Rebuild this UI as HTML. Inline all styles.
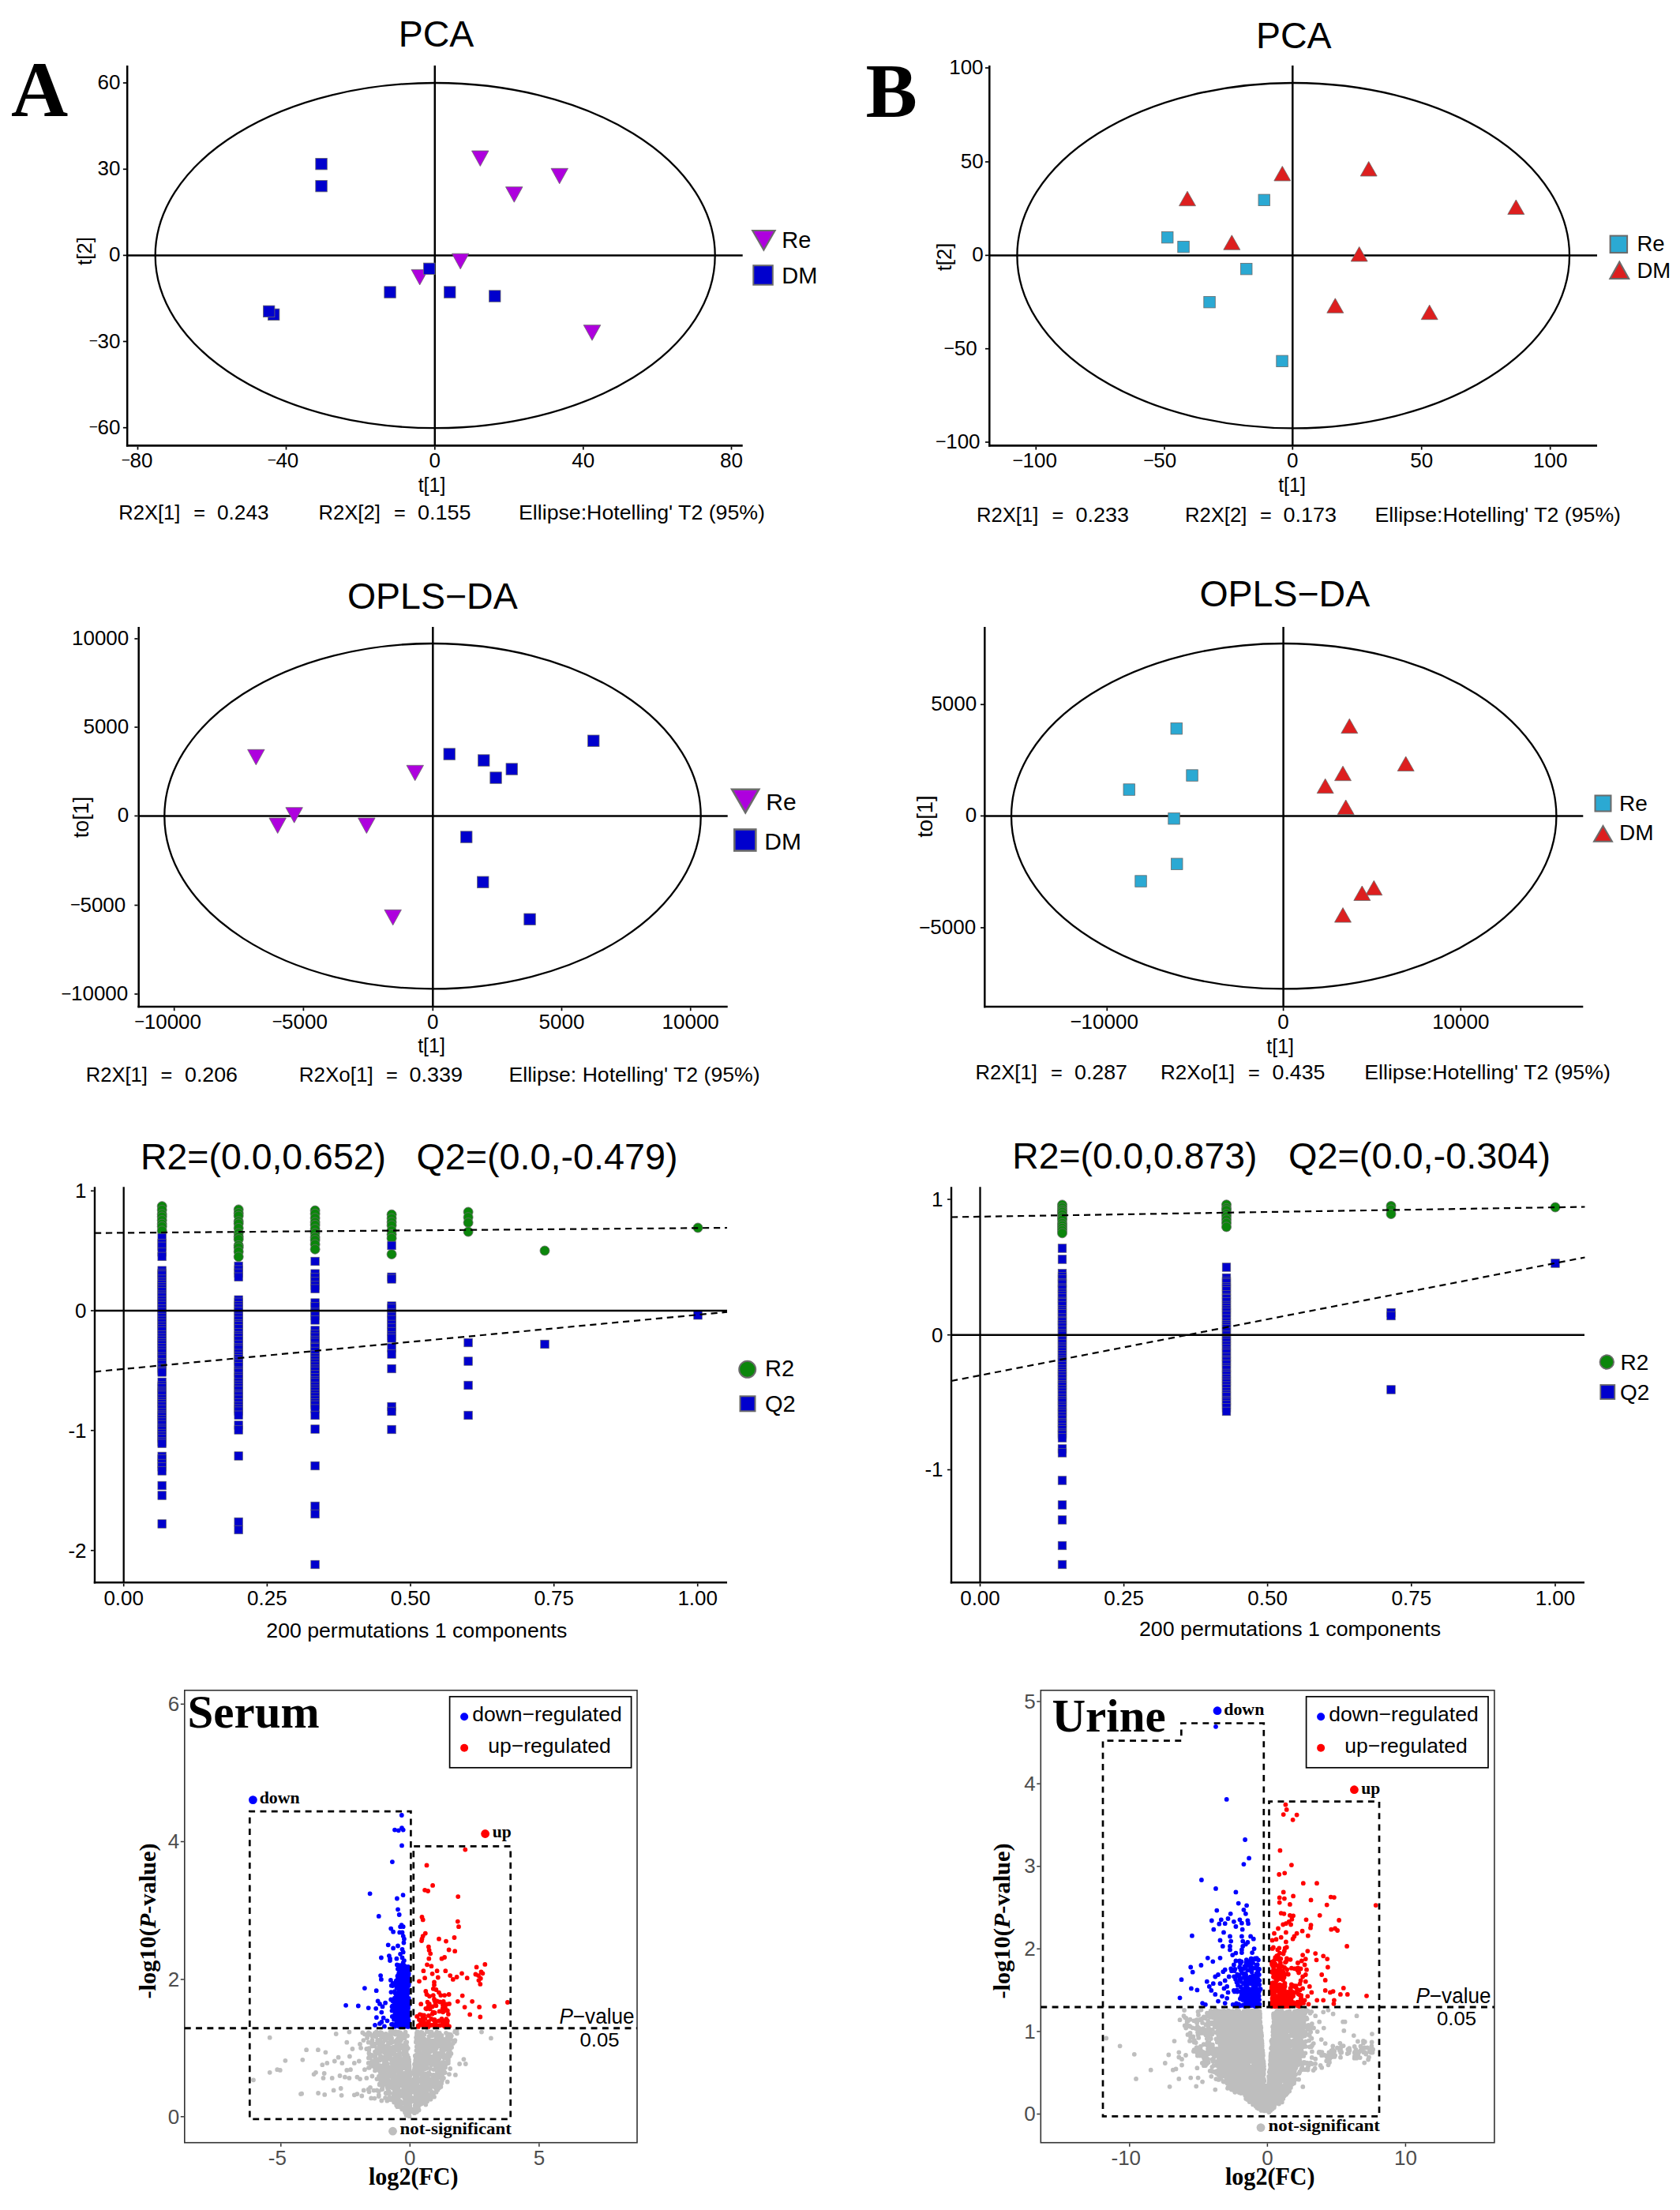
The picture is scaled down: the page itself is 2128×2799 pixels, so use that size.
<!DOCTYPE html>
<html lang="en"><head><meta charset="utf-8"><title>PCA, OPLS-DA, permutation and volcano plots</title>
<style>html,body{margin:0;padding:0;background:#fff}svg{display:block}</style></head>
<body>
<svg width="2128" height="2799" viewBox="0 0 2128 2799" font-family="'Liberation Sans', Arial, Helvetica, sans-serif" fill="#000">
<style>.r{font-family:'Liberation Serif', 'Times New Roman', Times, serif}</style>
<rect width="2128" height="2799" fill="#fff"/>
<text x="552.5" y="59.3" font-size="46.5" text-anchor="middle">PCA</text>
<text x="14" y="146.7" font-size="100" class="r" font-weight="bold">A</text>
<ellipse cx="551.2" cy="323.6" rx="354.5" ry="218.6" fill="none" stroke="#000" stroke-width="2.3"/>
<line x1="550.8" y1="83" x2="550.8" y2="564.4" stroke="#000" stroke-width="2.5"/>
<line x1="161.2" y1="323.4" x2="940.7" y2="323.4" stroke="#000" stroke-width="2.5"/>
<line x1="161.2" y1="83" x2="161.2" y2="565.6" stroke="#000" stroke-width="2.5"/>
<line x1="159.9" y1="564.4" x2="940.7" y2="564.4" stroke="#000" stroke-width="2.6"/>
<line x1="155.9" y1="105" x2="160" y2="105" stroke="#000" stroke-width="1.7"/>
<text x="152.5" y="113" font-size="26" text-anchor="end">60</text>
<line x1="155.9" y1="214.3" x2="160" y2="214.3" stroke="#000" stroke-width="1.7"/>
<text x="152.5" y="222.3" font-size="26" text-anchor="end">30</text>
<line x1="155.9" y1="323.4" x2="160" y2="323.4" stroke="#000" stroke-width="1.7"/>
<text x="152.5" y="331.4" font-size="26" text-anchor="end">0</text>
<line x1="155.9" y1="432.5" x2="160" y2="432.5" stroke="#000" stroke-width="1.7"/>
<text x="152.5" y="440.5" font-size="26" text-anchor="end"><tspan font-size="19.2" dy="-2.6">−</tspan><tspan dy="2.6" dx="-0.5">30</tspan></text>
<line x1="155.9" y1="541.7" x2="160" y2="541.7" stroke="#000" stroke-width="1.7"/>
<text x="152.5" y="549.7" font-size="26" text-anchor="end"><tspan font-size="19.2" dy="-2.6">−</tspan><tspan dy="2.6" dx="-0.5">60</tspan></text>
<line x1="174.5" y1="565.7" x2="174.5" y2="569.6" stroke="#000" stroke-width="1.7"/>
<text x="173.6" y="591.8" font-size="26" text-anchor="middle"><tspan font-size="19.2" dy="-2.6">−</tspan><tspan dy="2.6" dx="-0.5">80</tspan></text>
<line x1="362.5" y1="565.7" x2="362.5" y2="569.6" stroke="#000" stroke-width="1.7"/>
<text x="358.5" y="591.8" font-size="26" text-anchor="middle"><tspan font-size="19.2" dy="-2.6">−</tspan><tspan dy="2.6" dx="-0.5">40</tspan></text>
<line x1="550.8" y1="565.7" x2="550.8" y2="569.6" stroke="#000" stroke-width="1.7"/>
<text x="550.8" y="591.8" font-size="26" text-anchor="middle">0</text>
<line x1="738.8" y1="565.7" x2="738.8" y2="569.6" stroke="#000" stroke-width="1.7"/>
<text x="738.8" y="591.8" font-size="26" text-anchor="middle">40</text>
<line x1="926.5" y1="565.7" x2="926.5" y2="569.6" stroke="#000" stroke-width="1.7"/>
<text x="926.5" y="591.8" font-size="26" text-anchor="middle">80</text>
<polygon points="597.5,191 619,191 608.3,210.5" fill="#ae00de" stroke="#6b6b6b" stroke-width="0.8" stroke-linejoin="miter"/>
<polygon points="698,213.3 719.5,213.3 708.7,232.8" fill="#ae00de" stroke="#6b6b6b" stroke-width="0.8" stroke-linejoin="miter"/>
<polygon points="640.5,236.7 662,236.7 651.3,256.2" fill="#ae00de" stroke="#6b6b6b" stroke-width="0.8" stroke-linejoin="miter"/>
<polygon points="572.5,321.2 594,321.2 583.2,340.8" fill="#ae00de" stroke="#6b6b6b" stroke-width="0.8" stroke-linejoin="miter"/>
<polygon points="521,341.4 542.5,341.4 531.7,360.9" fill="#ae00de" stroke="#6b6b6b" stroke-width="0.8" stroke-linejoin="miter"/>
<polygon points="739.2,411.7 760.8,411.7 750,431.2" fill="#ae00de" stroke="#6b6b6b" stroke-width="0.8" stroke-linejoin="miter"/>
<rect x="399.8" y="200.4" width="14.5" height="14.5" fill="#0000cd" stroke="#6b6b6b" stroke-width="0.8"/>
<rect x="399.8" y="228.4" width="14.5" height="14.5" fill="#0000cd" stroke="#6b6b6b" stroke-width="0.8"/>
<rect x="536.5" y="333.1" width="14.5" height="14.5" fill="#0000cd" stroke="#6b6b6b" stroke-width="0.8"/>
<rect x="486.8" y="362.8" width="14.5" height="14.5" fill="#0000cd" stroke="#6b6b6b" stroke-width="0.8"/>
<rect x="339.4" y="391.1" width="14.5" height="14.5" fill="#0000cd" stroke="#6b6b6b" stroke-width="0.8"/>
<rect x="333.4" y="387.1" width="14.5" height="14.5" fill="#0000cd" stroke="#6b6b6b" stroke-width="0.8"/>
<rect x="562.5" y="362.8" width="14.5" height="14.5" fill="#0000cd" stroke="#6b6b6b" stroke-width="0.8"/>
<rect x="619.5" y="367.8" width="14.5" height="14.5" fill="#0000cd" stroke="#6b6b6b" stroke-width="0.8"/>
<text x="116" y="318" font-size="26" text-anchor="middle" transform="rotate(-90 116 318)">t[2]</text>
<text x="547" y="622.7" font-size="25" text-anchor="middle">t[1]</text>
<polygon points="953.1,292.1 981.7,292.1 967.4,316.7" fill="#ae00de" stroke="#6b6b6b" stroke-width="2" stroke-linejoin="miter"/>
<text x="990.3" y="313.8" font-size="29">Re</text>
<rect x="954.3" y="336.2" width="24.5" height="24.5" fill="#0000cd" stroke="#6b6b6b" stroke-width="2"/>
<text x="990.3" y="358.8" font-size="29">DM</text>
<text x="150.2" y="658.3" font-size="25.3" textLength="78.3" lengthAdjust="spacingAndGlyphs">R2X[1]</text>
<text x="245.3" y="658.3" font-size="25.3">=</text>
<text x="275" y="658.3" font-size="25.3" textLength="65.5" lengthAdjust="spacingAndGlyphs">0.243</text>
<text x="403.5" y="658.3" font-size="25.3" textLength="78.3" lengthAdjust="spacingAndGlyphs">R2X[2]</text>
<text x="499" y="658.3" font-size="25.3">=</text>
<text x="529" y="658.3" font-size="25.3" textLength="67.5" lengthAdjust="spacingAndGlyphs">0.155</text>
<text x="657" y="658.3" font-size="25.3" textLength="312" lengthAdjust="spacingAndGlyphs">Ellipse:Hotelling' T2 (95%)</text>
<text x="1638.7" y="60.7" font-size="46.5" text-anchor="middle">PCA</text>
<text x="1096.5" y="148.3" font-size="98" class="r" font-weight="bold">B</text>
<ellipse cx="1638.2" cy="323.7" rx="349.8" ry="218.7" fill="none" stroke="#000" stroke-width="2.3"/>
<line x1="1637.3" y1="83" x2="1637.3" y2="564.4" stroke="#000" stroke-width="2.5"/>
<line x1="1253.3" y1="323.4" x2="2023" y2="323.4" stroke="#000" stroke-width="2.5"/>
<line x1="1253.3" y1="83" x2="1253.3" y2="565.6" stroke="#000" stroke-width="2.5"/>
<line x1="1252" y1="564.4" x2="2023" y2="564.4" stroke="#000" stroke-width="2.6"/>
<line x1="1248" y1="86" x2="1252.1" y2="86" stroke="#000" stroke-width="1.7"/>
<text x="1245.6" y="94" font-size="26" text-anchor="end">100</text>
<line x1="1248" y1="205" x2="1252.1" y2="205" stroke="#000" stroke-width="1.7"/>
<text x="1245.6" y="213" font-size="26" text-anchor="end">50</text>
<line x1="1248" y1="323.4" x2="1252.1" y2="323.4" stroke="#000" stroke-width="1.7"/>
<text x="1245.6" y="331.4" font-size="26" text-anchor="end">0</text>
<line x1="1248" y1="441.7" x2="1252.1" y2="441.7" stroke="#000" stroke-width="1.7"/>
<text x="1237.6" y="449.7" font-size="26" text-anchor="end"><tspan font-size="23.4" dy="-1">−</tspan><tspan dy="1" dx="-0.5">50</tspan></text>
<line x1="1248" y1="560" x2="1252.1" y2="560" stroke="#000" stroke-width="1.7"/>
<text x="1241.6" y="568" font-size="26" text-anchor="end"><tspan font-size="23.4" dy="-1">−</tspan><tspan dy="1" dx="-0.5">100</tspan></text>
<line x1="1312.3" y1="565.7" x2="1312.3" y2="569.6" stroke="#000" stroke-width="1.7"/>
<text x="1310.7" y="591.8" font-size="26" text-anchor="middle"><tspan font-size="23.4" dy="-1">−</tspan><tspan dy="1" dx="-0.5">100</tspan></text>
<line x1="1475" y1="565.7" x2="1475" y2="569.6" stroke="#000" stroke-width="1.7"/>
<text x="1469.2" y="591.8" font-size="26" text-anchor="middle"><tspan font-size="23.4" dy="-1">−</tspan><tspan dy="1" dx="-0.5">50</tspan></text>
<line x1="1637.3" y1="565.7" x2="1637.3" y2="569.6" stroke="#000" stroke-width="1.7"/>
<text x="1637.3" y="591.8" font-size="26" text-anchor="middle">0</text>
<line x1="1800.7" y1="565.7" x2="1800.7" y2="569.6" stroke="#000" stroke-width="1.7"/>
<text x="1800.7" y="591.8" font-size="26" text-anchor="middle">50</text>
<line x1="1963.7" y1="565.7" x2="1963.7" y2="569.6" stroke="#000" stroke-width="1.7"/>
<text x="1963.7" y="591.8" font-size="26" text-anchor="middle">100</text>
<rect x="1471.5" y="293.4" width="14.5" height="14.5" fill="#2ba9d3" stroke="#6b6b6b" stroke-width="0.8"/>
<rect x="1491.8" y="305.4" width="14.5" height="14.5" fill="#2ba9d3" stroke="#6b6b6b" stroke-width="0.8"/>
<rect x="1594" y="246.1" width="14.5" height="14.5" fill="#2ba9d3" stroke="#6b6b6b" stroke-width="0.8"/>
<rect x="1571.5" y="333.4" width="14.5" height="14.5" fill="#2ba9d3" stroke="#6b6b6b" stroke-width="0.8"/>
<rect x="1524.8" y="375.4" width="14.5" height="14.5" fill="#2ba9d3" stroke="#6b6b6b" stroke-width="0.8"/>
<rect x="1616.8" y="450.1" width="14.5" height="14.5" fill="#2ba9d3" stroke="#6b6b6b" stroke-width="0.8"/>
<polygon points="1493.5,260.7 1514.5,260.7 1504,242.2" fill="#dd1f1f" stroke="#6b6b6b" stroke-width="0.8" stroke-linejoin="miter"/>
<polygon points="1613.8,229 1634.8,229 1624.3,210.5" fill="#dd1f1f" stroke="#6b6b6b" stroke-width="0.8" stroke-linejoin="miter"/>
<polygon points="1549.8,316.3 1570.8,316.3 1560.3,297.8" fill="#dd1f1f" stroke="#6b6b6b" stroke-width="0.8" stroke-linejoin="miter"/>
<polygon points="1723.2,223 1744.2,223 1733.7,204.5" fill="#dd1f1f" stroke="#6b6b6b" stroke-width="0.8" stroke-linejoin="miter"/>
<polygon points="1909.8,271.5 1930.8,271.5 1920.3,253" fill="#dd1f1f" stroke="#6b6b6b" stroke-width="0.8" stroke-linejoin="miter"/>
<polygon points="1711.2,331 1732.2,331 1721.7,312.5" fill="#dd1f1f" stroke="#6b6b6b" stroke-width="0.8" stroke-linejoin="miter"/>
<polygon points="1680.8,396.3 1701.8,396.3 1691.3,377.8" fill="#dd1f1f" stroke="#6b6b6b" stroke-width="0.8" stroke-linejoin="miter"/>
<polygon points="1800.2,404.7 1821.2,404.7 1810.7,386.2" fill="#dd1f1f" stroke="#6b6b6b" stroke-width="0.8" stroke-linejoin="miter"/>
<text x="1204.5" y="325.5" font-size="25.5" text-anchor="middle" transform="rotate(-90 1204.5 325.5)">t[2]</text>
<text x="1636.5" y="622.7" font-size="25" text-anchor="middle">t[1]</text>
<rect x="2039.6" y="298.6" width="21.5" height="21.5" fill="#2ba9d3" stroke="#6b6b6b" stroke-width="2"/>
<text x="2073.5" y="318.3" font-size="27.5">Re</text>
<polygon points="2039.3,353 2063.3,353 2051.3,331.5" fill="#dd1f1f" stroke="#6b6b6b" stroke-width="2" stroke-linejoin="miter"/>
<text x="2073.5" y="352.3" font-size="27.5">DM</text>
<text x="1237" y="660.7" font-size="25.3" textLength="78.3" lengthAdjust="spacingAndGlyphs">R2X[1]</text>
<text x="1332.5" y="660.7" font-size="25.3">=</text>
<text x="1362.5" y="660.7" font-size="25.3" textLength="67.5" lengthAdjust="spacingAndGlyphs">0.233</text>
<text x="1501" y="660.7" font-size="25.3" textLength="78.3" lengthAdjust="spacingAndGlyphs">R2X[2]</text>
<text x="1596" y="660.7" font-size="25.3">=</text>
<text x="1625.5" y="660.7" font-size="25.3" textLength="67.5" lengthAdjust="spacingAndGlyphs">0.173</text>
<text x="1741.5" y="660.7" font-size="25.3" textLength="311.5" lengthAdjust="spacingAndGlyphs">Ellipse:Hotelling' T2 (95%)</text>
<text x="547.8" y="771" font-size="46.5" text-anchor="middle">OPLS−DA</text>
<ellipse cx="548" cy="1033.7" rx="339.7" ry="218.7" fill="none" stroke="#000" stroke-width="2.3"/>
<line x1="548.3" y1="794" x2="548.3" y2="1275" stroke="#000" stroke-width="2.5"/>
<line x1="175.7" y1="1033.4" x2="921.7" y2="1033.4" stroke="#000" stroke-width="2.5"/>
<line x1="175.7" y1="794" x2="175.7" y2="1276.2" stroke="#000" stroke-width="2.5"/>
<line x1="174.4" y1="1275" x2="921.7" y2="1275" stroke="#000" stroke-width="2.6"/>
<line x1="170.4" y1="809" x2="174.5" y2="809" stroke="#000" stroke-width="1.7"/>
<text x="163.3" y="817" font-size="26" text-anchor="end">10000</text>
<line x1="170.4" y1="921" x2="174.5" y2="921" stroke="#000" stroke-width="1.7"/>
<text x="163.3" y="929" font-size="26" text-anchor="end">5000</text>
<line x1="170.4" y1="1033.4" x2="174.5" y2="1033.4" stroke="#000" stroke-width="1.7"/>
<text x="163.3" y="1041.4" font-size="26" text-anchor="end">0</text>
<line x1="170.4" y1="1146.5" x2="174.5" y2="1146.5" stroke="#000" stroke-width="1.7"/>
<text x="159.3" y="1154.5" font-size="26" text-anchor="end"><tspan font-size="22.1" dy="-1.5">−</tspan><tspan dy="1.5" dx="-0.5">5000</tspan></text>
<line x1="170.4" y1="1259" x2="174.5" y2="1259" stroke="#000" stroke-width="1.7"/>
<text x="162.3" y="1267" font-size="26" text-anchor="end"><tspan font-size="22.1" dy="-1.5">−</tspan><tspan dy="1.5" dx="-0.5">10000</tspan></text>
<line x1="220.7" y1="1276.3" x2="220.7" y2="1280.2" stroke="#000" stroke-width="1.7"/>
<text x="212.7" y="1302.5" font-size="26" text-anchor="middle"><tspan font-size="22.1" dy="-1.5">−</tspan><tspan dy="1.5" dx="-0.5">10000</tspan></text>
<line x1="384.4" y1="1276.3" x2="384.4" y2="1280.2" stroke="#000" stroke-width="1.7"/>
<text x="379.8" y="1302.5" font-size="26" text-anchor="middle"><tspan font-size="22.1" dy="-1.5">−</tspan><tspan dy="1.5" dx="-0.5">5000</tspan></text>
<line x1="548.3" y1="1276.3" x2="548.3" y2="1280.2" stroke="#000" stroke-width="1.7"/>
<text x="548.3" y="1302.5" font-size="26" text-anchor="middle">0</text>
<line x1="711.5" y1="1276.3" x2="711.5" y2="1280.2" stroke="#000" stroke-width="1.7"/>
<text x="711.5" y="1302.5" font-size="26" text-anchor="middle">5000</text>
<line x1="874.7" y1="1276.3" x2="874.7" y2="1280.2" stroke="#000" stroke-width="1.7"/>
<text x="874.7" y="1302.5" font-size="26" text-anchor="middle">10000</text>
<polygon points="313.6,949.3 335.1,949.3 324.3,968.8" fill="#ae00de" stroke="#6b6b6b" stroke-width="0.8" stroke-linejoin="miter"/>
<polygon points="515,969.3 536.5,969.3 525.7,988.8" fill="#ae00de" stroke="#6b6b6b" stroke-width="0.8" stroke-linejoin="miter"/>
<polygon points="361.9,1022.7 383.4,1022.7 372.7,1042.2" fill="#ae00de" stroke="#6b6b6b" stroke-width="0.8" stroke-linejoin="miter"/>
<polygon points="340.9,1036 362.4,1036 351.7,1055.5" fill="#ae00de" stroke="#6b6b6b" stroke-width="0.8" stroke-linejoin="miter"/>
<polygon points="453.6,1036 475.1,1036 464.3,1055.5" fill="#ae00de" stroke="#6b6b6b" stroke-width="0.8" stroke-linejoin="miter"/>
<polygon points="486.9,1152.3 508.4,1152.3 497.7,1171.8" fill="#ae00de" stroke="#6b6b6b" stroke-width="0.8" stroke-linejoin="miter"/>
<rect x="562" y="947.8" width="14.5" height="14.5" fill="#0000cd" stroke="#6b6b6b" stroke-width="0.8"/>
<rect x="605.5" y="955.8" width="14.5" height="14.5" fill="#0000cd" stroke="#6b6b6b" stroke-width="0.8"/>
<rect x="641" y="966.8" width="14.5" height="14.5" fill="#0000cd" stroke="#6b6b6b" stroke-width="0.8"/>
<rect x="620.8" y="977.8" width="14.5" height="14.5" fill="#0000cd" stroke="#6b6b6b" stroke-width="0.8"/>
<rect x="744.5" y="931" width="14.5" height="14.5" fill="#0000cd" stroke="#6b6b6b" stroke-width="0.8"/>
<rect x="583.5" y="1052.8" width="14.5" height="14.5" fill="#0000cd" stroke="#6b6b6b" stroke-width="0.8"/>
<rect x="604.5" y="1110" width="14.5" height="14.5" fill="#0000cd" stroke="#6b6b6b" stroke-width="0.8"/>
<rect x="663.8" y="1157" width="14.5" height="14.5" fill="#0000cd" stroke="#6b6b6b" stroke-width="0.8"/>
<text x="111.5" y="1035" font-size="27" text-anchor="middle" transform="rotate(-90 111.5 1035)">to[1]</text>
<text x="546.5" y="1333" font-size="25" text-anchor="middle">t[1]</text>
<polygon points="927.2,999.8 961.2,999.8 944.2,1029.2" fill="#ae00de" stroke="#6b6b6b" stroke-width="2.6" stroke-linejoin="miter"/>
<text x="970.3" y="1025.6" font-size="30">Re</text>
<rect x="930.3" y="1050.5" width="27" height="27" fill="#0000cd" stroke="#6b6b6b" stroke-width="2.6"/>
<text x="968.3" y="1075.6" font-size="30">DM</text>
<text x="108.7" y="1370" font-size="25.3" textLength="78.3" lengthAdjust="spacingAndGlyphs">R2X[1]</text>
<text x="203.5" y="1370" font-size="25.3">=</text>
<text x="234" y="1370" font-size="25.3" textLength="67" lengthAdjust="spacingAndGlyphs">0.206</text>
<text x="378.7" y="1370" font-size="25.3" textLength="94" lengthAdjust="spacingAndGlyphs">R2Xo[1]</text>
<text x="489" y="1370" font-size="25.3">=</text>
<text x="518.5" y="1370" font-size="25.3" textLength="67.5" lengthAdjust="spacingAndGlyphs">0.339</text>
<text x="644.5" y="1370" font-size="25.3" textLength="318" lengthAdjust="spacingAndGlyphs">Ellipse: Hotelling' T2 (95%)</text>
<text x="1627.3" y="768.3" font-size="46.5" text-anchor="middle">OPLS−DA</text>
<ellipse cx="1626.2" cy="1033.7" rx="345.2" ry="218.7" fill="none" stroke="#000" stroke-width="2.3"/>
<line x1="1625.6" y1="794" x2="1625.6" y2="1275" stroke="#000" stroke-width="2.5"/>
<line x1="1247.3" y1="1033.4" x2="2005.3" y2="1033.4" stroke="#000" stroke-width="2.5"/>
<line x1="1247.3" y1="794" x2="1247.3" y2="1276.2" stroke="#000" stroke-width="2.5"/>
<line x1="1246" y1="1275" x2="2005.3" y2="1275" stroke="#000" stroke-width="2.6"/>
<line x1="1242" y1="892.3" x2="1246.1" y2="892.3" stroke="#000" stroke-width="1.7"/>
<text x="1237.1" y="900.3" font-size="26" text-anchor="end">5000</text>
<line x1="1242" y1="1033.4" x2="1246.1" y2="1033.4" stroke="#000" stroke-width="1.7"/>
<text x="1237.1" y="1041.4" font-size="26" text-anchor="end">0</text>
<line x1="1242" y1="1175" x2="1246.1" y2="1175" stroke="#000" stroke-width="1.7"/>
<text x="1236.1" y="1183" font-size="26" text-anchor="end"><tspan font-size="24.7" dy="-0.5">−</tspan><tspan dy="0.5" dx="-0.5">5000</tspan></text>
<line x1="1402.3" y1="1276.3" x2="1402.3" y2="1280.2" stroke="#000" stroke-width="1.7"/>
<text x="1398.8" y="1302.5" font-size="26" text-anchor="middle"><tspan font-size="24.7" dy="-0.5">−</tspan><tspan dy="0.5" dx="-0.5">10000</tspan></text>
<line x1="1625.6" y1="1276.3" x2="1625.6" y2="1280.2" stroke="#000" stroke-width="1.7"/>
<text x="1625.6" y="1302.5" font-size="26" text-anchor="middle">0</text>
<line x1="1850.3" y1="1276.3" x2="1850.3" y2="1280.2" stroke="#000" stroke-width="1.7"/>
<text x="1850.3" y="1302.5" font-size="26" text-anchor="middle">10000</text>
<rect x="1483" y="915.5" width="14.5" height="14.5" fill="#2ba9d3" stroke="#6b6b6b" stroke-width="0.8"/>
<rect x="1502.8" y="974.8" width="14.5" height="14.5" fill="#2ba9d3" stroke="#6b6b6b" stroke-width="0.8"/>
<rect x="1423" y="992.8" width="14.5" height="14.5" fill="#2ba9d3" stroke="#6b6b6b" stroke-width="0.8"/>
<rect x="1479.8" y="1029.5" width="14.5" height="14.5" fill="#2ba9d3" stroke="#6b6b6b" stroke-width="0.8"/>
<rect x="1483.5" y="1087" width="14.5" height="14.5" fill="#2ba9d3" stroke="#6b6b6b" stroke-width="0.8"/>
<rect x="1437.8" y="1108.8" width="14.5" height="14.5" fill="#2ba9d3" stroke="#6b6b6b" stroke-width="0.8"/>
<polygon points="1698.8,928.7 1719.8,928.7 1709.3,910.2" fill="#dd1f1f" stroke="#6b6b6b" stroke-width="0.8" stroke-linejoin="miter"/>
<polygon points="1770.2,976.5 1791.2,976.5 1780.7,958" fill="#dd1f1f" stroke="#6b6b6b" stroke-width="0.8" stroke-linejoin="miter"/>
<polygon points="1690.5,988.7 1711.5,988.7 1701,970.2" fill="#dd1f1f" stroke="#6b6b6b" stroke-width="0.8" stroke-linejoin="miter"/>
<polygon points="1668.2,1004.7 1689.2,1004.7 1678.7,986.2" fill="#dd1f1f" stroke="#6b6b6b" stroke-width="0.8" stroke-linejoin="miter"/>
<polygon points="1694.2,1031.5 1715.2,1031.5 1704.7,1013" fill="#dd1f1f" stroke="#6b6b6b" stroke-width="0.8" stroke-linejoin="miter"/>
<polygon points="1729.8,1133.7 1750.8,1133.7 1740.3,1115.2" fill="#dd1f1f" stroke="#6b6b6b" stroke-width="0.8" stroke-linejoin="miter"/>
<polygon points="1714.8,1140.5 1735.8,1140.5 1725.3,1122" fill="#dd1f1f" stroke="#6b6b6b" stroke-width="0.8" stroke-linejoin="miter"/>
<polygon points="1690.5,1168.1 1711.5,1168.1 1701,1149.6" fill="#dd1f1f" stroke="#6b6b6b" stroke-width="0.8" stroke-linejoin="miter"/>
<text x="1181" y="1034" font-size="27.5" text-anchor="middle" transform="rotate(-90 1181 1034)">to[1]</text>
<text x="1621.7" y="1334" font-size="25" text-anchor="middle">t[1]</text>
<rect x="2020.5" y="1007.5" width="20" height="20" fill="#2ba9d3" stroke="#6b6b6b" stroke-width="2"/>
<text x="2051" y="1026.7" font-size="28">Re</text>
<polygon points="2019,1065.7 2042,1065.7 2030.5,1046" fill="#dd1f1f" stroke="#6b6b6b" stroke-width="2" stroke-linejoin="miter"/>
<text x="2051" y="1064" font-size="28">DM</text>
<text x="1235.5" y="1367.3" font-size="25.3" textLength="78.3" lengthAdjust="spacingAndGlyphs">R2X[1]</text>
<text x="1331" y="1367.3" font-size="25.3">=</text>
<text x="1361" y="1367.3" font-size="25.3" textLength="67" lengthAdjust="spacingAndGlyphs">0.287</text>
<text x="1470" y="1367.3" font-size="25.3" textLength="94" lengthAdjust="spacingAndGlyphs">R2Xo[1]</text>
<text x="1581" y="1367.3" font-size="25.3">=</text>
<text x="1611.5" y="1367.3" font-size="25.3" textLength="67" lengthAdjust="spacingAndGlyphs">0.435</text>
<text x="1728.3" y="1367.3" font-size="25.3" textLength="311.5" lengthAdjust="spacingAndGlyphs">Ellipse:Hotelling' T2 (95%)</text>
<text x="178" y="1481" font-size="46.5" textLength="311" lengthAdjust="spacingAndGlyphs">R2=(0.0,0.652)</text>
<text x="527.5" y="1481" font-size="46.5" textLength="331" lengthAdjust="spacingAndGlyphs">Q2=(0.0,-0.479)</text>
<g fill="#0b860b" stroke="#6a6a6a" stroke-width="0.8">
<circle cx="205.2" cy="1527.7" r="6"/>
<circle cx="205.2" cy="1532.4" r="6"/>
<circle cx="205.2" cy="1537.8" r="6"/>
<circle cx="205.2" cy="1541" r="6"/>
<circle cx="205.2" cy="1545.5" r="6"/>
<circle cx="205.2" cy="1550.1" r="6"/>
<circle cx="205.2" cy="1553.4" r="6"/>
<circle cx="205.2" cy="1558.7" r="6"/>
<circle cx="302.2" cy="1531.9" r="6"/>
<circle cx="302.2" cy="1536.5" r="6"/>
<circle cx="302.2" cy="1540" r="6"/>
<circle cx="302.2" cy="1546.8" r="6"/>
<circle cx="302.2" cy="1549.8" r="6"/>
<circle cx="302.2" cy="1555.4" r="6"/>
<circle cx="302.2" cy="1561.8" r="6"/>
<circle cx="302.2" cy="1566.2" r="6"/>
<circle cx="302.2" cy="1569.6" r="6"/>
<circle cx="302.2" cy="1577.3" r="6"/>
<circle cx="302.2" cy="1580" r="6"/>
<circle cx="302.2" cy="1585.2" r="6"/>
<circle cx="302.2" cy="1591.8" r="6"/>
<circle cx="399.1" cy="1533.1" r="6"/>
<circle cx="399.1" cy="1537.3" r="6"/>
<circle cx="399.1" cy="1542.7" r="6"/>
<circle cx="399.1" cy="1547.9" r="6"/>
<circle cx="399.1" cy="1551.5" r="6"/>
<circle cx="399.1" cy="1556.6" r="6"/>
<circle cx="399.1" cy="1561.8" r="6"/>
<circle cx="399.1" cy="1567.1" r="6"/>
<circle cx="399.1" cy="1570.6" r="6"/>
<circle cx="399.1" cy="1576" r="6"/>
<circle cx="399.1" cy="1582.2" r="6"/>
<circle cx="496.1" cy="1538.2" r="6"/>
<circle cx="496.1" cy="1543.1" r="6"/>
<circle cx="496.1" cy="1547.9" r="6"/>
<circle cx="496.1" cy="1552.1" r="6"/>
<circle cx="496.1" cy="1558.6" r="6"/>
<circle cx="496.1" cy="1563.4" r="6"/>
<circle cx="496.1" cy="1568.2" r="6"/>
<circle cx="496.1" cy="1588.5" r="6"/>
<circle cx="593.1" cy="1535" r="6"/>
<circle cx="593.1" cy="1541.7" r="6"/>
<circle cx="593.1" cy="1548.5" r="6"/>
<circle cx="593.1" cy="1560" r="6"/>
<circle cx="690" cy="1584" r="6"/>
<circle cx="884" cy="1555" r="6"/>
</g>
<g fill="#0000cd" stroke="#6a6a6a" stroke-width="0.65">
<rect x="199.9" y="1562.2" width="10.6" height="10.6"/>
<rect x="199.9" y="1569.3" width="10.6" height="10.6"/>
<rect x="199.9" y="1573.1" width="10.6" height="10.6"/>
<rect x="199.9" y="1580.5" width="10.6" height="10.6"/>
<rect x="199.9" y="1586.1" width="10.6" height="10.6"/>
<rect x="199.9" y="1603.9" width="10.6" height="10.6"/>
<rect x="199.9" y="1607.2" width="10.6" height="10.6"/>
<rect x="199.9" y="1609.3" width="10.6" height="10.6"/>
<rect x="199.9" y="1614.8" width="10.6" height="10.6"/>
<rect x="199.9" y="1618.3" width="10.6" height="10.6"/>
<rect x="199.9" y="1621.2" width="10.6" height="10.6"/>
<rect x="199.9" y="1624.6" width="10.6" height="10.6"/>
<rect x="199.9" y="1627.2" width="10.6" height="10.6"/>
<rect x="199.9" y="1630.4" width="10.6" height="10.6"/>
<rect x="199.9" y="1635" width="10.6" height="10.6"/>
<rect x="199.9" y="1637.6" width="10.6" height="10.6"/>
<rect x="199.9" y="1641.4" width="10.6" height="10.6"/>
<rect x="199.9" y="1645" width="10.6" height="10.6"/>
<rect x="199.9" y="1648.1" width="10.6" height="10.6"/>
<rect x="199.9" y="1652.5" width="10.6" height="10.6"/>
<rect x="199.9" y="1656" width="10.6" height="10.6"/>
<rect x="199.9" y="1660.4" width="10.6" height="10.6"/>
<rect x="199.9" y="1663.2" width="10.6" height="10.6"/>
<rect x="199.9" y="1667" width="10.6" height="10.6"/>
<rect x="199.9" y="1670.2" width="10.6" height="10.6"/>
<rect x="199.9" y="1674.1" width="10.6" height="10.6"/>
<rect x="199.9" y="1677.2" width="10.6" height="10.6"/>
<rect x="199.9" y="1680.3" width="10.6" height="10.6"/>
<rect x="199.9" y="1685.4" width="10.6" height="10.6"/>
<rect x="199.9" y="1688.9" width="10.6" height="10.6"/>
<rect x="199.9" y="1692.1" width="10.6" height="10.6"/>
<rect x="199.9" y="1695.3" width="10.6" height="10.6"/>
<rect x="199.9" y="1698" width="10.6" height="10.6"/>
<rect x="199.9" y="1701.4" width="10.6" height="10.6"/>
<rect x="199.9" y="1705" width="10.6" height="10.6"/>
<rect x="199.9" y="1708.1" width="10.6" height="10.6"/>
<rect x="199.9" y="1713.1" width="10.6" height="10.6"/>
<rect x="199.9" y="1715.8" width="10.6" height="10.6"/>
<rect x="199.9" y="1720.3" width="10.6" height="10.6"/>
<rect x="199.9" y="1722.8" width="10.6" height="10.6"/>
<rect x="199.9" y="1727.6" width="10.6" height="10.6"/>
<rect x="199.9" y="1730.9" width="10.6" height="10.6"/>
<rect x="199.9" y="1732.6" width="10.6" height="10.6"/>
<rect x="199.9" y="1745.1" width="10.6" height="10.6"/>
<rect x="199.9" y="1749.9" width="10.6" height="10.6"/>
<rect x="199.9" y="1752.4" width="10.6" height="10.6"/>
<rect x="199.9" y="1756.9" width="10.6" height="10.6"/>
<rect x="199.9" y="1759.1" width="10.6" height="10.6"/>
<rect x="199.9" y="1761.8" width="10.6" height="10.6"/>
<rect x="199.9" y="1766.3" width="10.6" height="10.6"/>
<rect x="199.9" y="1770" width="10.6" height="10.6"/>
<rect x="199.9" y="1772.4" width="10.6" height="10.6"/>
<rect x="199.9" y="1775.4" width="10.6" height="10.6"/>
<rect x="199.9" y="1779.3" width="10.6" height="10.6"/>
<rect x="199.9" y="1783.9" width="10.6" height="10.6"/>
<rect x="199.9" y="1786.9" width="10.6" height="10.6"/>
<rect x="199.9" y="1789" width="10.6" height="10.6"/>
<rect x="199.9" y="1792.7" width="10.6" height="10.6"/>
<rect x="199.9" y="1795.8" width="10.6" height="10.6"/>
<rect x="199.9" y="1799.1" width="10.6" height="10.6"/>
<rect x="199.9" y="1803.9" width="10.6" height="10.6"/>
<rect x="199.9" y="1806.1" width="10.6" height="10.6"/>
<rect x="199.9" y="1810.2" width="10.6" height="10.6"/>
<rect x="199.9" y="1813.4" width="10.6" height="10.6"/>
<rect x="199.9" y="1816.3" width="10.6" height="10.6"/>
<rect x="199.9" y="1820.8" width="10.6" height="10.6"/>
<rect x="199.9" y="1822.9" width="10.6" height="10.6"/>
<rect x="199.9" y="1839.1" width="10.6" height="10.6"/>
<rect x="199.9" y="1842.4" width="10.6" height="10.6"/>
<rect x="199.9" y="1848.2" width="10.6" height="10.6"/>
<rect x="199.9" y="1852.5" width="10.6" height="10.6"/>
<rect x="199.9" y="1857.6" width="10.6" height="10.6"/>
<rect x="199.9" y="1876.2" width="10.6" height="10.6"/>
<rect x="199.9" y="1888.7" width="10.6" height="10.6"/>
<rect x="199.9" y="1924.7" width="10.6" height="10.6"/>
<rect x="296.9" y="1598.2" width="10.6" height="10.6"/>
<rect x="296.9" y="1602.9" width="10.6" height="10.6"/>
<rect x="296.9" y="1607.1" width="10.6" height="10.6"/>
<rect x="296.9" y="1612" width="10.6" height="10.6"/>
<rect x="296.9" y="1641" width="10.6" height="10.6"/>
<rect x="296.9" y="1644" width="10.6" height="10.6"/>
<rect x="296.9" y="1648.5" width="10.6" height="10.6"/>
<rect x="296.9" y="1651.7" width="10.6" height="10.6"/>
<rect x="296.9" y="1655.6" width="10.6" height="10.6"/>
<rect x="296.9" y="1660.5" width="10.6" height="10.6"/>
<rect x="296.9" y="1663.1" width="10.6" height="10.6"/>
<rect x="296.9" y="1667.1" width="10.6" height="10.6"/>
<rect x="296.9" y="1671.4" width="10.6" height="10.6"/>
<rect x="296.9" y="1673.6" width="10.6" height="10.6"/>
<rect x="296.9" y="1677.3" width="10.6" height="10.6"/>
<rect x="296.9" y="1682.7" width="10.6" height="10.6"/>
<rect x="296.9" y="1686.2" width="10.6" height="10.6"/>
<rect x="296.9" y="1688.7" width="10.6" height="10.6"/>
<rect x="296.9" y="1692.3" width="10.6" height="10.6"/>
<rect x="296.9" y="1697.2" width="10.6" height="10.6"/>
<rect x="296.9" y="1701.4" width="10.6" height="10.6"/>
<rect x="296.9" y="1703.5" width="10.6" height="10.6"/>
<rect x="296.9" y="1708.9" width="10.6" height="10.6"/>
<rect x="296.9" y="1712.4" width="10.6" height="10.6"/>
<rect x="296.9" y="1715.5" width="10.6" height="10.6"/>
<rect x="296.9" y="1718.9" width="10.6" height="10.6"/>
<rect x="296.9" y="1721.9" width="10.6" height="10.6"/>
<rect x="296.9" y="1725.5" width="10.6" height="10.6"/>
<rect x="296.9" y="1731.2" width="10.6" height="10.6"/>
<rect x="296.9" y="1733.4" width="10.6" height="10.6"/>
<rect x="296.9" y="1738.1" width="10.6" height="10.6"/>
<rect x="296.9" y="1740.8" width="10.6" height="10.6"/>
<rect x="296.9" y="1745.8" width="10.6" height="10.6"/>
<rect x="296.9" y="1749.1" width="10.6" height="10.6"/>
<rect x="296.9" y="1752.1" width="10.6" height="10.6"/>
<rect x="296.9" y="1755.6" width="10.6" height="10.6"/>
<rect x="296.9" y="1760.5" width="10.6" height="10.6"/>
<rect x="296.9" y="1762.8" width="10.6" height="10.6"/>
<rect x="296.9" y="1766.9" width="10.6" height="10.6"/>
<rect x="296.9" y="1771.3" width="10.6" height="10.6"/>
<rect x="296.9" y="1775.7" width="10.6" height="10.6"/>
<rect x="296.9" y="1778.9" width="10.6" height="10.6"/>
<rect x="296.9" y="1781.9" width="10.6" height="10.6"/>
<rect x="296.9" y="1787" width="10.6" height="10.6"/>
<rect x="296.9" y="1799.7" width="10.6" height="10.6"/>
<rect x="296.9" y="1805.7" width="10.6" height="10.6"/>
<rect x="296.9" y="1838.7" width="10.6" height="10.6"/>
<rect x="296.9" y="1922.2" width="10.6" height="10.6"/>
<rect x="296.9" y="1932.2" width="10.6" height="10.6"/>
<rect x="393.8" y="1592.2" width="10.6" height="10.6"/>
<rect x="393.8" y="1607.9" width="10.6" height="10.6"/>
<rect x="393.8" y="1612.3" width="10.6" height="10.6"/>
<rect x="393.8" y="1617.8" width="10.6" height="10.6"/>
<rect x="393.8" y="1622.9" width="10.6" height="10.6"/>
<rect x="393.8" y="1626.9" width="10.6" height="10.6"/>
<rect x="393.8" y="1644.8" width="10.6" height="10.6"/>
<rect x="393.8" y="1649.5" width="10.6" height="10.6"/>
<rect x="393.8" y="1656.9" width="10.6" height="10.6"/>
<rect x="393.8" y="1661.1" width="10.6" height="10.6"/>
<rect x="393.8" y="1666.6" width="10.6" height="10.6"/>
<rect x="393.8" y="1679.7" width="10.6" height="10.6"/>
<rect x="393.8" y="1684.7" width="10.6" height="10.6"/>
<rect x="393.8" y="1688" width="10.6" height="10.6"/>
<rect x="393.8" y="1692.2" width="10.6" height="10.6"/>
<rect x="393.8" y="1694.9" width="10.6" height="10.6"/>
<rect x="393.8" y="1700" width="10.6" height="10.6"/>
<rect x="393.8" y="1701.6" width="10.6" height="10.6"/>
<rect x="393.8" y="1706.2" width="10.6" height="10.6"/>
<rect x="393.8" y="1710.3" width="10.6" height="10.6"/>
<rect x="393.8" y="1714.3" width="10.6" height="10.6"/>
<rect x="393.8" y="1717.5" width="10.6" height="10.6"/>
<rect x="393.8" y="1721.1" width="10.6" height="10.6"/>
<rect x="393.8" y="1724.9" width="10.6" height="10.6"/>
<rect x="393.8" y="1728.8" width="10.6" height="10.6"/>
<rect x="393.8" y="1731.2" width="10.6" height="10.6"/>
<rect x="393.8" y="1735.5" width="10.6" height="10.6"/>
<rect x="393.8" y="1739.6" width="10.6" height="10.6"/>
<rect x="393.8" y="1743.2" width="10.6" height="10.6"/>
<rect x="393.8" y="1745.8" width="10.6" height="10.6"/>
<rect x="393.8" y="1750.3" width="10.6" height="10.6"/>
<rect x="393.8" y="1754" width="10.6" height="10.6"/>
<rect x="393.8" y="1757" width="10.6" height="10.6"/>
<rect x="393.8" y="1760.8" width="10.6" height="10.6"/>
<rect x="393.8" y="1763.9" width="10.6" height="10.6"/>
<rect x="393.8" y="1767.9" width="10.6" height="10.6"/>
<rect x="393.8" y="1771.6" width="10.6" height="10.6"/>
<rect x="393.8" y="1774.1" width="10.6" height="10.6"/>
<rect x="393.8" y="1778.9" width="10.6" height="10.6"/>
<rect x="393.8" y="1787.2" width="10.6" height="10.6"/>
<rect x="393.8" y="1804.7" width="10.6" height="10.6"/>
<rect x="393.8" y="1851.2" width="10.6" height="10.6"/>
<rect x="393.8" y="1902.2" width="10.6" height="10.6"/>
<rect x="393.8" y="1912.2" width="10.6" height="10.6"/>
<rect x="393.8" y="1976.2" width="10.6" height="10.6"/>
<rect x="490.8" y="1572.2" width="10.6" height="10.6"/>
<rect x="490.8" y="1612.1" width="10.6" height="10.6"/>
<rect x="490.8" y="1614.6" width="10.6" height="10.6"/>
<rect x="490.8" y="1648.8" width="10.6" height="10.6"/>
<rect x="490.8" y="1651.5" width="10.6" height="10.6"/>
<rect x="490.8" y="1657.8" width="10.6" height="10.6"/>
<rect x="490.8" y="1662.1" width="10.6" height="10.6"/>
<rect x="490.8" y="1666.1" width="10.6" height="10.6"/>
<rect x="490.8" y="1672.1" width="10.6" height="10.6"/>
<rect x="490.8" y="1676.2" width="10.6" height="10.6"/>
<rect x="490.8" y="1681.2" width="10.6" height="10.6"/>
<rect x="490.8" y="1686.8" width="10.6" height="10.6"/>
<rect x="490.8" y="1689.6" width="10.6" height="10.6"/>
<rect x="490.8" y="1701.7" width="10.6" height="10.6"/>
<rect x="490.8" y="1709.7" width="10.6" height="10.6"/>
<rect x="490.8" y="1728.2" width="10.6" height="10.6"/>
<rect x="490.8" y="1776.2" width="10.6" height="10.6"/>
<rect x="490.8" y="1782.2" width="10.6" height="10.6"/>
<rect x="490.8" y="1805.2" width="10.6" height="10.6"/>
<rect x="587.8" y="1695.2" width="10.6" height="10.6"/>
<rect x="587.8" y="1718.7" width="10.6" height="10.6"/>
<rect x="587.8" y="1749.2" width="10.6" height="10.6"/>
<rect x="587.8" y="1787.2" width="10.6" height="10.6"/>
<rect x="684.7" y="1697.2" width="10.6" height="10.6"/>
<rect x="878.7" y="1660.4" width="10.6" height="10.6"/>
</g>
<line x1="156.7" y1="1503.3" x2="156.7" y2="2004.3" stroke="#000" stroke-width="2.3"/>
<line x1="120" y1="1660" x2="921" y2="1660" stroke="#000" stroke-width="2.5"/>
<line x1="120" y1="1503.3" x2="120" y2="2005.6" stroke="#000" stroke-width="2.4"/>
<line x1="118.8" y1="2004.3" x2="921" y2="2004.3" stroke="#000" stroke-width="2.6"/>
<line x1="120" y1="1561.7" x2="921" y2="1555" stroke="#000" stroke-width="2.2" stroke-dasharray="8.2 5.8"/>
<line x1="120" y1="1737.3" x2="921" y2="1661.7" stroke="#000" stroke-width="2.2" stroke-dasharray="8.2 5.8"/>
<line x1="115" y1="1508.3" x2="118.8" y2="1508.3" stroke="#000" stroke-width="1.6"/>
<text x="109.5" y="1517.2" font-size="26" text-anchor="end">1</text>
<line x1="115" y1="1660" x2="118.8" y2="1660" stroke="#000" stroke-width="1.6"/>
<text x="109.5" y="1668.9" font-size="26" text-anchor="end">0</text>
<line x1="115" y1="1811.7" x2="118.8" y2="1811.7" stroke="#000" stroke-width="1.6"/>
<text x="109.5" y="1820.6" font-size="26" text-anchor="end">-1</text>
<line x1="115" y1="1963.7" x2="118.8" y2="1963.7" stroke="#000" stroke-width="1.6"/>
<text x="109.5" y="1972.6" font-size="26" text-anchor="end">-2</text>
<line x1="156.7" y1="2005.6" x2="156.7" y2="2009.3" stroke="#000" stroke-width="1.6"/>
<text x="156.7" y="2032.7" font-size="26" text-anchor="middle">0.00</text>
<line x1="338.4" y1="2005.6" x2="338.4" y2="2009.3" stroke="#000" stroke-width="1.6"/>
<text x="338.4" y="2032.7" font-size="26" text-anchor="middle">0.25</text>
<line x1="520" y1="2005.6" x2="520" y2="2009.3" stroke="#000" stroke-width="1.6"/>
<text x="520" y="2032.7" font-size="26" text-anchor="middle">0.50</text>
<line x1="701.7" y1="2005.6" x2="701.7" y2="2009.3" stroke="#000" stroke-width="1.6"/>
<text x="701.7" y="2032.7" font-size="26" text-anchor="middle">0.75</text>
<line x1="883.7" y1="2005.6" x2="883.7" y2="2009.3" stroke="#000" stroke-width="1.6"/>
<text x="883.7" y="2032.7" font-size="26" text-anchor="middle">1.00</text>
<text x="337.3" y="2074.3" font-size="25.5" textLength="381" lengthAdjust="spacingAndGlyphs">200 permutations 1 components</text>
<circle cx="946.7" cy="1734.3" r="10.5" fill="#0b860b" stroke="#6b6b6b" stroke-width="2"/>
<text x="969" y="1743.3" font-size="29">R2</text>
<rect x="937.5" y="1768.3" width="19" height="19" fill="#0000cd" stroke="#6b6b6b" stroke-width="2"/>
<text x="969" y="1788.3" font-size="29">Q2</text>
<text x="1282.3" y="1480" font-size="46.5" textLength="310" lengthAdjust="spacingAndGlyphs">R2=(0.0,0.873)</text>
<text x="1632" y="1480" font-size="46.5" textLength="332" lengthAdjust="spacingAndGlyphs">Q2=(0.0,-0.304)</text>
<g fill="#0b860b" stroke="#6a6a6a" stroke-width="0.8">
<circle cx="1345.5" cy="1525.9" r="6"/>
<circle cx="1345.5" cy="1529.5" r="6"/>
<circle cx="1345.5" cy="1532.8" r="6"/>
<circle cx="1345.5" cy="1535" r="6"/>
<circle cx="1345.5" cy="1538" r="6"/>
<circle cx="1345.5" cy="1541.9" r="6"/>
<circle cx="1345.5" cy="1544.9" r="6"/>
<circle cx="1345.5" cy="1549.2" r="6"/>
<circle cx="1345.5" cy="1552.2" r="6"/>
<circle cx="1345.5" cy="1555.3" r="6"/>
<circle cx="1345.5" cy="1558.4" r="6"/>
<circle cx="1345.5" cy="1561.8" r="6"/>
<circle cx="1553.5" cy="1525.8" r="6"/>
<circle cx="1553.5" cy="1530.3" r="6"/>
<circle cx="1553.5" cy="1532.8" r="6"/>
<circle cx="1553.5" cy="1537.5" r="6"/>
<circle cx="1553.5" cy="1540.7" r="6"/>
<circle cx="1553.5" cy="1544.7" r="6"/>
<circle cx="1553.5" cy="1549" r="6"/>
<circle cx="1553.5" cy="1553.9" r="6"/>
<circle cx="1762" cy="1527.5" r="6"/>
<circle cx="1762" cy="1532" r="6"/>
<circle cx="1762" cy="1537.5" r="6"/>
<circle cx="1970" cy="1529" r="6"/>
</g>
<g fill="#0000cd" stroke="#6a6a6a" stroke-width="0.65">
<rect x="1340.2" y="1575.7" width="10.6" height="10.6"/>
<rect x="1340.2" y="1589.7" width="10.6" height="10.6"/>
<rect x="1340.2" y="1607.5" width="10.6" height="10.6"/>
<rect x="1340.2" y="1611.5" width="10.6" height="10.6"/>
<rect x="1340.2" y="1614.4" width="10.6" height="10.6"/>
<rect x="1340.2" y="1619.3" width="10.6" height="10.6"/>
<rect x="1340.2" y="1621" width="10.6" height="10.6"/>
<rect x="1340.2" y="1625.9" width="10.6" height="10.6"/>
<rect x="1340.2" y="1627.8" width="10.6" height="10.6"/>
<rect x="1340.2" y="1632.5" width="10.6" height="10.6"/>
<rect x="1340.2" y="1635.2" width="10.6" height="10.6"/>
<rect x="1340.2" y="1638.7" width="10.6" height="10.6"/>
<rect x="1340.2" y="1643" width="10.6" height="10.6"/>
<rect x="1340.2" y="1644.7" width="10.6" height="10.6"/>
<rect x="1340.2" y="1648.2" width="10.6" height="10.6"/>
<rect x="1340.2" y="1653.4" width="10.6" height="10.6"/>
<rect x="1340.2" y="1656" width="10.6" height="10.6"/>
<rect x="1340.2" y="1658.5" width="10.6" height="10.6"/>
<rect x="1340.2" y="1663.8" width="10.6" height="10.6"/>
<rect x="1340.2" y="1667.1" width="10.6" height="10.6"/>
<rect x="1340.2" y="1668.8" width="10.6" height="10.6"/>
<rect x="1340.2" y="1672.8" width="10.6" height="10.6"/>
<rect x="1340.2" y="1675.7" width="10.6" height="10.6"/>
<rect x="1340.2" y="1679.4" width="10.6" height="10.6"/>
<rect x="1340.2" y="1683.5" width="10.6" height="10.6"/>
<rect x="1340.2" y="1685.9" width="10.6" height="10.6"/>
<rect x="1340.2" y="1690.4" width="10.6" height="10.6"/>
<rect x="1340.2" y="1692.5" width="10.6" height="10.6"/>
<rect x="1340.2" y="1696.2" width="10.6" height="10.6"/>
<rect x="1340.2" y="1700.9" width="10.6" height="10.6"/>
<rect x="1340.2" y="1703.5" width="10.6" height="10.6"/>
<rect x="1340.2" y="1706.9" width="10.6" height="10.6"/>
<rect x="1340.2" y="1710.7" width="10.6" height="10.6"/>
<rect x="1340.2" y="1713.9" width="10.6" height="10.6"/>
<rect x="1340.2" y="1717.1" width="10.6" height="10.6"/>
<rect x="1340.2" y="1719.8" width="10.6" height="10.6"/>
<rect x="1340.2" y="1724.6" width="10.6" height="10.6"/>
<rect x="1340.2" y="1728.5" width="10.6" height="10.6"/>
<rect x="1340.2" y="1731.9" width="10.6" height="10.6"/>
<rect x="1340.2" y="1734.7" width="10.6" height="10.6"/>
<rect x="1340.2" y="1737.5" width="10.6" height="10.6"/>
<rect x="1340.2" y="1740.9" width="10.6" height="10.6"/>
<rect x="1340.2" y="1745" width="10.6" height="10.6"/>
<rect x="1340.2" y="1748.4" width="10.6" height="10.6"/>
<rect x="1340.2" y="1750.6" width="10.6" height="10.6"/>
<rect x="1340.2" y="1754.3" width="10.6" height="10.6"/>
<rect x="1340.2" y="1757.9" width="10.6" height="10.6"/>
<rect x="1340.2" y="1761.7" width="10.6" height="10.6"/>
<rect x="1340.2" y="1765.7" width="10.6" height="10.6"/>
<rect x="1340.2" y="1768.5" width="10.6" height="10.6"/>
<rect x="1340.2" y="1770.9" width="10.6" height="10.6"/>
<rect x="1340.2" y="1775.9" width="10.6" height="10.6"/>
<rect x="1340.2" y="1778.5" width="10.6" height="10.6"/>
<rect x="1340.2" y="1782.1" width="10.6" height="10.6"/>
<rect x="1340.2" y="1784.9" width="10.6" height="10.6"/>
<rect x="1340.2" y="1788.8" width="10.6" height="10.6"/>
<rect x="1340.2" y="1792.1" width="10.6" height="10.6"/>
<rect x="1340.2" y="1796.3" width="10.6" height="10.6"/>
<rect x="1340.2" y="1798.3" width="10.6" height="10.6"/>
<rect x="1340.2" y="1802.6" width="10.6" height="10.6"/>
<rect x="1340.2" y="1805.3" width="10.6" height="10.6"/>
<rect x="1340.2" y="1809.8" width="10.6" height="10.6"/>
<rect x="1340.2" y="1811.8" width="10.6" height="10.6"/>
<rect x="1340.2" y="1815.7" width="10.6" height="10.6"/>
<rect x="1340.2" y="1829.7" width="10.6" height="10.6"/>
<rect x="1340.2" y="1834.7" width="10.6" height="10.6"/>
<rect x="1340.2" y="1869.7" width="10.6" height="10.6"/>
<rect x="1340.2" y="1900.7" width="10.6" height="10.6"/>
<rect x="1340.2" y="1919.7" width="10.6" height="10.6"/>
<rect x="1340.2" y="1952.2" width="10.6" height="10.6"/>
<rect x="1340.2" y="1976.2" width="10.6" height="10.6"/>
<rect x="1548.2" y="1599.7" width="10.6" height="10.6"/>
<rect x="1548.2" y="1613.2" width="10.6" height="10.6"/>
<rect x="1548.2" y="1617.6" width="10.6" height="10.6"/>
<rect x="1548.2" y="1619.4" width="10.6" height="10.6"/>
<rect x="1548.2" y="1624.4" width="10.6" height="10.6"/>
<rect x="1548.2" y="1626.7" width="10.6" height="10.6"/>
<rect x="1548.2" y="1629.7" width="10.6" height="10.6"/>
<rect x="1548.2" y="1634.3" width="10.6" height="10.6"/>
<rect x="1548.2" y="1638.1" width="10.6" height="10.6"/>
<rect x="1548.2" y="1639.6" width="10.6" height="10.6"/>
<rect x="1548.2" y="1643.6" width="10.6" height="10.6"/>
<rect x="1548.2" y="1648.1" width="10.6" height="10.6"/>
<rect x="1548.2" y="1650.6" width="10.6" height="10.6"/>
<rect x="1548.2" y="1653.8" width="10.6" height="10.6"/>
<rect x="1548.2" y="1656.8" width="10.6" height="10.6"/>
<rect x="1548.2" y="1660.3" width="10.6" height="10.6"/>
<rect x="1548.2" y="1664.9" width="10.6" height="10.6"/>
<rect x="1548.2" y="1669.1" width="10.6" height="10.6"/>
<rect x="1548.2" y="1672.5" width="10.6" height="10.6"/>
<rect x="1548.2" y="1674.9" width="10.6" height="10.6"/>
<rect x="1548.2" y="1677.4" width="10.6" height="10.6"/>
<rect x="1548.2" y="1681.4" width="10.6" height="10.6"/>
<rect x="1548.2" y="1685.8" width="10.6" height="10.6"/>
<rect x="1548.2" y="1689.3" width="10.6" height="10.6"/>
<rect x="1548.2" y="1692.3" width="10.6" height="10.6"/>
<rect x="1548.2" y="1694.9" width="10.6" height="10.6"/>
<rect x="1548.2" y="1699" width="10.6" height="10.6"/>
<rect x="1548.2" y="1702.3" width="10.6" height="10.6"/>
<rect x="1548.2" y="1706" width="10.6" height="10.6"/>
<rect x="1548.2" y="1708.7" width="10.6" height="10.6"/>
<rect x="1548.2" y="1713.5" width="10.6" height="10.6"/>
<rect x="1548.2" y="1716.9" width="10.6" height="10.6"/>
<rect x="1548.2" y="1718.8" width="10.6" height="10.6"/>
<rect x="1548.2" y="1722.5" width="10.6" height="10.6"/>
<rect x="1548.2" y="1727.1" width="10.6" height="10.6"/>
<rect x="1548.2" y="1729.3" width="10.6" height="10.6"/>
<rect x="1548.2" y="1734.1" width="10.6" height="10.6"/>
<rect x="1548.2" y="1736.6" width="10.6" height="10.6"/>
<rect x="1548.2" y="1740.4" width="10.6" height="10.6"/>
<rect x="1548.2" y="1743.9" width="10.6" height="10.6"/>
<rect x="1548.2" y="1746.3" width="10.6" height="10.6"/>
<rect x="1548.2" y="1749.9" width="10.6" height="10.6"/>
<rect x="1548.2" y="1753.2" width="10.6" height="10.6"/>
<rect x="1548.2" y="1757.6" width="10.6" height="10.6"/>
<rect x="1548.2" y="1761" width="10.6" height="10.6"/>
<rect x="1548.2" y="1763.3" width="10.6" height="10.6"/>
<rect x="1548.2" y="1768.3" width="10.6" height="10.6"/>
<rect x="1548.2" y="1770.7" width="10.6" height="10.6"/>
<rect x="1548.2" y="1773.8" width="10.6" height="10.6"/>
<rect x="1548.2" y="1777.6" width="10.6" height="10.6"/>
<rect x="1548.2" y="1782.2" width="10.6" height="10.6"/>
<rect x="1756.7" y="1657.2" width="10.6" height="10.6"/>
<rect x="1756.7" y="1661.2" width="10.6" height="10.6"/>
<rect x="1756.7" y="1754.7" width="10.6" height="10.6"/>
<rect x="1964.7" y="1594.7" width="10.6" height="10.6"/>
</g>
<line x1="1241.5" y1="1503.3" x2="1241.5" y2="2004.3" stroke="#000" stroke-width="2.3"/>
<line x1="1205" y1="1690.7" x2="2007" y2="1690.7" stroke="#000" stroke-width="2.5"/>
<line x1="1205" y1="1503.3" x2="1205" y2="2005.6" stroke="#000" stroke-width="2.4"/>
<line x1="1203.8" y1="2004.3" x2="2007" y2="2004.3" stroke="#000" stroke-width="2.6"/>
<line x1="1205" y1="1541.5" x2="2007.5" y2="1528.5" stroke="#000" stroke-width="2.2" stroke-dasharray="8.2 5.8"/>
<line x1="1205" y1="1749" x2="2007.5" y2="1592.5" stroke="#000" stroke-width="2.2" stroke-dasharray="8.2 5.8"/>
<line x1="1200" y1="1519" x2="1203.8" y2="1519" stroke="#000" stroke-width="1.6"/>
<text x="1194.5" y="1527.9" font-size="26" text-anchor="end">1</text>
<line x1="1200" y1="1690.7" x2="1203.8" y2="1690.7" stroke="#000" stroke-width="1.6"/>
<text x="1194.5" y="1699.6" font-size="26" text-anchor="end">0</text>
<line x1="1200" y1="1861.5" x2="1203.8" y2="1861.5" stroke="#000" stroke-width="1.6"/>
<text x="1194.5" y="1870.4" font-size="26" text-anchor="end">-1</text>
<line x1="1241.5" y1="2005.6" x2="1241.5" y2="2009.3" stroke="#000" stroke-width="1.6"/>
<text x="1241.5" y="2032.7" font-size="26" text-anchor="middle">0.00</text>
<line x1="1423.6" y1="2005.6" x2="1423.6" y2="2009.3" stroke="#000" stroke-width="1.6"/>
<text x="1423.6" y="2032.7" font-size="26" text-anchor="middle">0.25</text>
<line x1="1605.6" y1="2005.6" x2="1605.6" y2="2009.3" stroke="#000" stroke-width="1.6"/>
<text x="1605.6" y="2032.7" font-size="26" text-anchor="middle">0.50</text>
<line x1="1787.8" y1="2005.6" x2="1787.8" y2="2009.3" stroke="#000" stroke-width="1.6"/>
<text x="1787.8" y="2032.7" font-size="26" text-anchor="middle">0.75</text>
<line x1="1970" y1="2005.6" x2="1970" y2="2009.3" stroke="#000" stroke-width="1.6"/>
<text x="1970" y="2032.7" font-size="26" text-anchor="middle">1.00</text>
<text x="1443" y="2071.7" font-size="25.5" textLength="382" lengthAdjust="spacingAndGlyphs">200 permutations 1 components</text>
<circle cx="2035.3" cy="1725" r="8.8" fill="#0b860b" stroke="#6b6b6b" stroke-width="1.8"/>
<text x="2052.5" y="1735" font-size="28">R2</text>
<rect x="2027.3" y="1754" width="18" height="18" fill="#0000cd" stroke="#6b6b6b" stroke-width="1.8"/>
<text x="2052" y="1772.7" font-size="28">Q2</text>
<path d="M519.4 2675h.01M502.1 2591.6h.01M571.8 2578.5h.01M533.1 2607.5h.01M496.8 2575h.01M527 2664.8h.01M526.5 2605.9h.01M539.4 2590.2h.01M515.7 2608.8h.01M504.9 2586.8h.01M514.2 2577.4h.01M512.1 2652.8h.01M528.6 2619.9h.01M557.4 2614.3h.01M518 2663.7h.01M489 2591.4h.01M495.1 2596.8h.01M554.3 2574.5h.01M511.1 2601.1h.01M514.3 2577.7h.01M539 2583.7h.01M528.3 2582.6h.01M533.5 2661.9h.01M488.8 2575.9h.01M516 2602.7h.01M554.2 2583.2h.01M532.4 2575h.01M515.2 2658.4h.01M516.4 2617.7h.01M503.6 2582.6h.01M529.5 2583.2h.01M525.3 2623.6h.01M530.8 2621.1h.01M556.2 2626.2h.01M527.6 2633.2h.01M527.5 2606.2h.01M567.5 2579.2h.01M508.4 2590.2h.01M512.5 2673.4h.01M543 2596.3h.01M506.1 2591h.01M501 2644.5h.01M490.4 2592.5h.01M518.1 2619.4h.01M562.8 2606.7h.01M553.4 2612.5h.01M517.7 2655.4h.01M503.4 2659.4h.01M516.1 2679.3h.01M490.8 2621.5h.01M527.8 2627.6h.01M552 2606.7h.01M513.1 2675.4h.01M498.9 2653.6h.01M523.7 2649.5h.01M511.4 2647.7h.01M527.5 2629.8h.01M512.9 2638h.01M534.3 2656.1h.01M536.5 2645.9h.01M552.6 2584.6h.01M533.9 2590.8h.01M527.7 2613.2h.01M518.1 2626.8h.01M513.5 2601.4h.01M528.6 2575.5h.01M536.7 2607.2h.01M518.4 2625.3h.01M494.4 2579.8h.01M561.5 2585.1h.01M507.5 2628.6h.01M511.8 2632.4h.01M537.8 2647h.01M517 2634.9h.01M563.2 2585.4h.01M537.2 2601.9h.01M526.9 2653.1h.01M515.1 2638.5h.01M562.7 2583h.01M516.5 2671.5h.01M505.9 2600h.01M513.6 2640.4h.01M501.8 2576.4h.01M513.8 2587.7h.01M533.4 2604.4h.01M508.5 2654.4h.01M537 2607.3h.01M513.9 2611.3h.01M518.1 2612.3h.01M508.2 2616.1h.01M528.3 2577.3h.01M506.8 2604.9h.01M538.3 2608.2h.01M511.5 2581h.01M544 2635.7h.01M567.3 2601.1h.01M519.2 2647.5h.01M509.7 2627.5h.01M518 2658.2h.01M489.4 2580.3h.01M515.9 2640.2h.01M527.8 2592.2h.01M494.8 2584h.01M488.5 2583.9h.01M500.2 2647h.01M508.7 2577.8h.01M546.1 2627.8h.01M534.8 2601.2h.01M499.1 2645.8h.01M507.8 2654.5h.01M540.4 2636.1h.01M554.9 2589.4h.01M536.2 2649.4h.01M516.6 2659.7h.01M553.3 2573.7h.01M527.2 2610.4h.01M493 2649.5h.01M553.4 2618.1h.01M516.2 2614.1h.01M512 2610.6h.01M515 2607.7h.01M518.2 2638.4h.01M519.3 2663.5h.01M528.2 2647.9h.01M498 2573.2h.01M551 2635.3h.01M505.7 2631.3h.01M535 2611.8h.01M527.2 2624.8h.01M546.9 2614h.01M509.8 2591.4h.01M514.1 2625.1h.01M532 2602.7h.01M504.1 2613.3h.01M524.6 2635.1h.01M516.9 2631.6h.01M510.8 2625.8h.01M565 2574.8h.01M532.7 2664.1h.01M516.1 2646.7h.01M501.9 2596.2h.01M529.7 2642.3h.01M545 2598.4h.01M537.8 2612h.01M516.3 2647.4h.01M556.9 2614.5h.01M511.7 2669.8h.01M505.5 2654.9h.01M552.7 2643.3h.01M517.8 2662.4h.01M545.6 2589.7h.01M514.5 2632.2h.01M528.9 2621.2h.01M519.4 2657.8h.01M566.1 2612.9h.01M550.2 2630.4h.01M541.8 2658.3h.01M502.4 2665.6h.01M517.7 2643.9h.01M543.7 2606.2h.01M500.7 2659h.01M536.9 2593.2h.01M500.7 2650.1h.01M488.8 2603.7h.01M518 2626.7h.01M519.2 2643.7h.01M504.8 2662.8h.01M506.7 2575.3h.01M511.3 2594.9h.01M550.5 2638.5h.01M560.2 2583.6h.01M534.5 2656h.01M496.7 2600.8h.01M492.8 2618.5h.01M503.7 2655.5h.01M513.9 2589.8h.01M519.8 2670.3h.01M518.7 2660h.01M497.9 2639.2h.01M526.8 2606.1h.01M532.8 2600.9h.01M543.1 2600.1h.01M556.5 2585.9h.01M496.7 2613.2h.01M536.4 2631.9h.01M488.1 2596.9h.01M528.5 2619h.01M559.1 2638.7h.01M510.7 2642.7h.01M514.5 2605.6h.01M516.4 2594.4h.01M527.4 2597.1h.01M531.7 2592.8h.01M513.7 2589h.01M500 2635.1h.01M509.2 2650.8h.01M554.6 2580.6h.01M554.7 2583.1h.01M489.7 2612.6h.01M516.2 2610.2h.01M518.4 2656h.01M561 2583.3h.01M556.6 2615.3h.01M541.2 2595.8h.01M553.9 2623.7h.01M516.3 2621.1h.01M516.2 2627.8h.01M551.2 2628h.01M533.5 2635.9h.01M567.6 2607.3h.01M525.1 2644.6h.01M525 2624.3h.01M525.6 2649.5h.01M539.2 2648.8h.01M518 2622.2h.01M539.8 2615h.01M537.6 2616.6h.01M518.9 2631.6h.01M502.9 2635.6h.01M518 2618.9h.01M517.9 2611.4h.01M518 2655h.01M544 2597.4h.01M559.8 2631.4h.01M501.5 2603.5h.01M498.3 2592.7h.01M544.5 2633.7h.01M523.5 2641.9h.01M533.5 2615.6h.01M550.5 2640.4h.01M513.5 2593.7h.01M562.8 2589h.01M533.5 2593.8h.01M528.2 2584h.01M515.5 2617.4h.01M518 2637.6h.01M501.7 2573.2h.01M518 2643.9h.01M533.6 2573.9h.01M548.1 2652.9h.01M515.9 2653.8h.01M562.6 2586.9h.01M513.6 2573.7h.01M534.9 2579.4h.01M513.7 2599.1h.01M518.7 2667.8h.01M528.1 2665.8h.01M527.1 2580.6h.01M531.6 2644.5h.01M507.4 2665.8h.01M514.2 2652.4h.01M506.9 2590.2h.01M554.5 2646.8h.01M519.3 2658.4h.01M540.4 2649.5h.01M497 2644.3h.01M491.9 2624.2h.01M518.6 2657.6h.01M519 2629.6h.01M510.6 2591.1h.01M508.6 2616.8h.01M542.8 2592.7h.01M548.7 2639.9h.01M531.3 2577.8h.01M514.9 2657h.01M499.5 2592.7h.01M518.3 2618.8h.01M518.4 2627.8h.01M493.5 2579.6h.01M511.7 2597h.01M524 2641.8h.01M489.7 2626.6h.01M551 2597.1h.01M538.1 2585.4h.01M526.4 2652.5h.01M530.6 2581.1h.01M527.9 2577.6h.01M516.4 2623.4h.01M514.6 2649.5h.01M535 2604.3h.01M514.7 2630.4h.01M519.8 2655.4h.01M509.2 2633.6h.01M489 2601.5h.01M511.2 2601.2h.01M550.8 2608.1h.01M543.2 2625.1h.01M555.5 2629.8h.01M528.6 2667.5h.01M526.9 2586.6h.01M496.8 2621.1h.01M490.4 2577.3h.01M529.3 2627.4h.01M542.2 2573h.01M527.2 2643.2h.01M537.4 2576.7h.01M494.4 2573.3h.01M560.2 2591.7h.01M518.9 2625.8h.01M567.8 2613h.01M496.5 2612.3h.01M535.2 2627.3h.01M524.2 2623.7h.01M512.7 2669.7h.01M513.5 2603.7h.01M518.1 2643.5h.01M490.7 2614h.01M499.1 2662.5h.01M526.6 2649.8h.01M516.6 2639.5h.01M515.2 2591.7h.01M503.8 2650.5h.01M498.6 2594h.01M555.2 2640.4h.01M516.4 2626.6h.01M503.3 2617.6h.01M524.4 2658.2h.01M495.6 2639h.01M528.2 2646.5h.01M518.1 2642.1h.01M501.6 2647.5h.01M501.3 2609.3h.01M518.3 2643.1h.01M513.2 2648.4h.01M525.2 2619.5h.01M494.4 2607.1h.01M493.3 2597.1h.01M516.7 2615.4h.01M539.9 2635.3h.01M561.8 2605.6h.01M526.7 2667.5h.01M504.9 2659.5h.01M506.3 2608.6h.01M539 2645.1h.01M515.9 2658.9h.01M517.4 2630.5h.01M509 2620.2h.01M540.4 2660.7h.01M516.3 2610.5h.01M549.5 2589.6h.01M504.9 2591.8h.01M518 2641.3h.01M539.9 2619.8h.01M529.4 2583.1h.01M520 2672.6h.01M508.4 2576.1h.01M536.3 2660.6h.01M508.3 2583.3h.01M517.2 2620.2h.01M532.2 2607.9h.01M518.9 2644.1h.01M537.9 2607.7h.01M527.6 2641h.01M515.5 2620h.01M557.7 2584.8h.01M519.1 2654h.01M504.1 2619.2h.01M514.7 2672.6h.01M547.1 2587.7h.01M546.3 2648.8h.01M559.3 2613.9h.01M543.6 2644.3h.01M535.8 2578.5h.01M518.4 2649.8h.01M552 2586.4h.01M516 2578.4h.01M518 2626.9h.01M546.9 2638.7h.01M518.1 2638.6h.01M511.1 2617.4h.01M548.9 2652.9h.01M536.7 2597.7h.01M496.2 2612.5h.01M536.8 2598.5h.01M518.1 2643.3h.01M514.4 2629.1h.01M495.5 2643.4h.01M514.5 2663h.01M518.1 2644.4h.01M547.4 2642.6h.01M516.1 2651.4h.01M553.1 2576.8h.01M515.2 2586.4h.01M557.9 2623.1h.01M517.7 2644.7h.01M503.6 2613.4h.01M546.2 2653.4h.01M533.9 2620.1h.01M515.9 2602.8h.01M531.4 2665.8h.01M529.4 2635.4h.01M543.7 2610h.01M530.9 2575.3h.01M507.3 2579.3h.01M567.9 2610.2h.01M518 2656.6h.01M500.1 2641.6h.01M496.1 2581.4h.01M529.5 2655h.01M513.6 2613.3h.01M498.6 2634.3h.01M539.4 2657.8h.01M507.1 2592.1h.01M555.3 2616.5h.01M534.5 2658.5h.01M518.4 2664.9h.01M490.9 2607.3h.01M514.3 2606.5h.01M489.5 2634.6h.01M525.3 2647h.01M526.7 2666.6h.01M488 2581.7h.01M508.6 2652.6h.01M518 2637h.01M531 2606.7h.01M542.2 2606.4h.01M490.6 2638h.01M516.3 2639.3h.01M516.8 2640.4h.01M527.6 2640.2h.01M535.2 2614.8h.01M534.2 2652.6h.01M518.5 2624.7h.01M531 2580.7h.01M494.6 2593.1h.01M500.3 2654h.01M528.6 2573.2h.01M540.3 2594.7h.01M515.3 2644.4h.01M499.4 2619.4h.01M498.5 2651.5h.01M508.7 2614.3h.01M523.2 2641.5h.01M564 2618.5h.01M551 2640.2h.01M546.7 2633.6h.01M518 2608.6h.01M546.3 2607.6h.01M506.9 2668.5h.01M540.4 2604.2h.01M514.5 2651.5h.01M506 2621h.01M564.4 2594.3h.01M524.6 2633.1h.01M527.7 2673.5h.01M537.7 2620.5h.01M494.3 2608.1h.01M518.1 2665.5h.01M552.7 2636.3h.01M499.9 2606.9h.01M526.3 2656.1h.01M533.4 2664.6h.01M503.1 2638.8h.01M523.3 2657.1h.01M552 2643.6h.01M518.5 2616.5h.01M527.5 2656.7h.01M508.4 2610.1h.01M537 2654.5h.01M528.7 2616.7h.01M493.6 2629.2h.01M510 2626.3h.01M500.1 2659.2h.01M559 2626.9h.01M537.7 2628.3h.01M519.5 2656.4h.01M528.4 2649.6h.01M503.4 2604.2h.01M550 2606.3h.01M557.5 2631.2h.01M514.3 2636.6h.01M514.6 2666.1h.01M528.6 2575.5h.01M536 2599.8h.01M543.6 2589.6h.01M551.4 2608.3h.01M555.2 2579.7h.01M552.8 2594.3h.01M567.1 2596.2h.01M562.5 2623.6h.01M547.6 2607h.01M501.2 2591.7h.01M528.6 2590.6h.01M513.4 2614.1h.01M549.8 2605.3h.01M529.9 2668.2h.01M528.1 2615.1h.01M524.2 2660.8h.01M536.9 2584.4h.01M535.3 2633.1h.01M500.7 2612.8h.01M571.1 2582.9h.01M555.3 2620.8h.01M552.6 2649.7h.01M506.1 2595.2h.01M514.6 2662.8h.01M519.1 2639.5h.01M537.9 2582.7h.01M497.3 2596.9h.01M541.9 2630.3h.01M539.9 2653.1h.01M507.5 2652.5h.01M550.6 2599.6h.01M549.8 2576.4h.01M555.7 2623.6h.01M513.5 2666.8h.01M531.3 2626.8h.01M547.3 2637.5h.01M539.6 2595.8h.01M559.6 2599.5h.01M557.3 2600.7h.01M503.4 2614.9h.01M514.4 2591.9h.01M549.4 2621.1h.01M538.1 2657.7h.01M548.5 2593.6h.01M504 2617.9h.01M570.5 2594.1h.01M519.9 2673.6h.01M516.1 2660.7h.01M504.7 2605h.01M564.1 2605.3h.01M512.1 2648.1h.01M498.7 2658.6h.01M545.6 2633.9h.01M514.7 2590.1h.01M495 2617.8h.01M559.1 2596.1h.01M502.9 2623.4h.01M518.2 2654.9h.01M508.3 2617.2h.01M525.5 2617.8h.01M519.9 2674h.01M519.6 2637.9h.01M495.6 2574.3h.01M523.8 2661h.01M534.2 2621h.01M518.1 2616.8h.01M518 2622.1h.01M538.2 2593.3h.01M545.5 2658.8h.01M499 2622.1h.01M529.8 2648.5h.01M533.3 2624.9h.01M548.2 2611h.01M556.3 2607.5h.01M529.7 2661.8h.01M513.2 2653.9h.01M551.9 2610.4h.01M493.9 2636.6h.01M530.6 2597.3h.01M501.1 2576.6h.01M557.1 2622.9h.01M519.6 2650.1h.01M525.8 2603.7h.01M545 2606.8h.01M503.8 2654.4h.01M533.6 2611.5h.01M517.4 2605.9h.01M512.5 2662h.01M517 2609.6h.01M517.9 2619.5h.01M541.8 2641.9h.01M512.2 2657h.01M547.9 2641.7h.01M518.1 2630.4h.01M513.4 2587.5h.01M501.9 2632.2h.01M502.1 2629.1h.01M498.8 2625.5h.01M503.6 2623h.01M503.1 2583.4h.01M498.9 2633.7h.01M538.3 2618h.01M519.4 2627.9h.01M503 2646.4h.01M533.5 2653.3h.01M502.2 2666.4h.01M548.7 2637h.01M508.4 2653.6h.01M548.1 2613.6h.01M565.4 2604.4h.01M488.9 2596.1h.01M515.7 2667.5h.01M543.4 2579.1h.01M517.9 2633.9h.01M489.1 2608h.01M536.8 2598.1h.01M546.3 2604.9h.01M505.8 2617.4h.01M518.9 2662.5h.01M505.7 2576.1h.01M516.2 2653.3h.01M551.6 2644.2h.01M500.4 2620.5h.01M543.1 2639.5h.01M500.9 2595.5h.01M504.3 2620h.01M518.8 2669.6h.01M518 2635.4h.01M501.9 2602.7h.01M501 2653h.01M498.7 2595.2h.01M518 2675.3h.01M539.9 2626.3h.01M518.1 2623.9h.01M534.8 2639.3h.01M526.2 2604h.01M518 2631.9h.01M527.9 2574.9h.01M498 2614.1h.01M518.9 2671.1h.01M514.3 2635.1h.01M497.5 2575.9h.01M568.4 2584.6h.01M499.4 2615.8h.01M489 2601.7h.01M497.4 2644.3h.01M547.7 2587.7h.01M512.5 2652.5h.01M493.5 2640.3h.01M546.4 2594.1h.01M528.1 2640h.01M544.7 2644.8h.01M565.5 2589.3h.01M512.6 2644.4h.01M534.9 2659.8h.01M545.4 2584.3h.01M518.2 2647.5h.01M527.3 2617.6h.01M519.2 2636.1h.01M529.8 2603.5h.01M557.8 2600.5h.01M544.2 2573.7h.01M511.7 2580.5h.01M560.4 2627h.01M558.6 2582.6h.01M518 2642.1h.01M533 2577.7h.01M518.2 2635.7h.01M506.1 2600.1h.01M566 2590.4h.01M497.1 2633.3h.01M502 2607.8h.01M511.4 2654.7h.01M514.7 2614.3h.01M509 2626.6h.01M528.2 2575.8h.01M518.5 2659.8h.01M511.7 2637.6h.01M493.2 2606.4h.01M512.6 2581.5h.01M561.1 2621.2h.01M495.5 2622.9h.01M518.5 2663.9h.01M518.3 2674.8h.01M558.5 2621.6h.01M492.3 2588.2h.01M511 2669.1h.01M567 2608.4h.01M514.5 2634.2h.01M500.3 2601.4h.01M490.2 2616.1h.01M539 2636.4h.01M542 2652.9h.01M565.9 2582.9h.01M518.7 2671.8h.01M499 2610.9h.01M547.3 2578.3h.01M539.3 2665.6h.01M535.1 2622.6h.01M507.5 2584.4h.01M562.7 2603.4h.01M555.3 2629.9h.01M531.5 2576h.01M562.8 2588.6h.01M516.3 2621.2h.01M518.7 2621.2h.01M516.7 2647.3h.01M549.8 2650.5h.01M538.1 2612.5h.01M556.1 2642.2h.01M518 2654.8h.01M516.6 2621.3h.01M564 2590.5h.01M529.9 2670.3h.01M546.2 2637.4h.01M504.2 2652h.01M542.1 2613.7h.01M516.4 2653.6h.01M528.2 2617.5h.01M530.1 2619h.01M538.5 2655.6h.01M517.2 2615.8h.01M512.4 2579.7h.01M516.6 2634.8h.01M536.7 2589.4h.01M553.1 2634.3h.01M500.2 2573.5h.01M506.1 2634.6h.01M529.8 2573.9h.01M557.9 2627.6h.01M528.2 2593h.01M540.8 2618.6h.01M539.4 2618.1h.01M557.2 2641.5h.01M499.8 2633.8h.01M558.4 2587.5h.01M500.7 2603.6h.01M562.6 2586.4h.01M568.1 2596.1h.01M536.3 2626.8h.01M532.6 2661.2h.01M525.5 2629h.01M499.6 2642.5h.01M496.3 2601.8h.01M540 2610.3h.01M517.8 2651.7h.01M570.8 2577h.01M516.8 2594.1h.01M499.8 2661.4h.01M548.8 2584.7h.01M512 2653.6h.01M518.8 2645.2h.01M512.1 2619h.01M557.8 2641.9h.01M527.5 2655.2h.01M550.8 2590h.01M525.6 2633.5h.01M517.3 2658.3h.01M548.8 2641h.01M489.9 2620.2h.01M494.6 2623.6h.01M502.7 2642.2h.01M488.9 2601.8h.01M527.2 2607.3h.01M525.2 2647.2h.01M500.7 2614.4h.01M531.3 2622.1h.01M525.7 2619.8h.01M557 2575.9h.01M556.9 2591.3h.01M518 2659.3h.01M504.2 2644.8h.01M550.8 2586.9h.01M490.5 2601.9h.01M566.6 2596.1h.01M519.1 2654.4h.01M524.4 2657.7h.01M519.1 2630.1h.01M535.9 2657.7h.01M528.4 2653.8h.01M538.8 2607.8h.01M509.3 2578h.01M493.9 2626h.01M505.2 2639.2h.01M528.4 2648.1h.01M517.4 2611h.01M530.9 2611.5h.01M515.1 2668.9h.01M496.8 2573.3h.01M547.2 2633.5h.01M493.1 2629.7h.01M525.3 2637.1h.01M492 2587.5h.01M512 2610h.01M501.1 2616.5h.01M527 2650.2h.01M523.3 2673.9h.01M507.7 2641.3h.01M523.5 2648.8h.01M529.4 2656.6h.01M510 2651.1h.01M496.8 2586.5h.01M518 2655.5h.01M531.1 2633.1h.01M514.7 2630h.01M495.7 2636.1h.01M524.9 2676.2h.01M527.9 2617.6h.01M525.8 2661.1h.01M524.1 2626.7h.01M572.1 2593h.01M518.2 2611.1h.01M502.5 2587.7h.01M510.4 2577.2h.01M561.5 2619.5h.01M541 2630.8h.01M557 2603.8h.01M516.9 2619.7h.01M533.8 2664.5h.01M519.9 2645.6h.01M511 2638.5h.01M503.1 2653.9h.01M515.3 2622.8h.01M535.9 2604.5h.01M531.5 2616.3h.01M518.2 2645.9h.01M546.5 2596.9h.01M506.7 2584.5h.01M518.8 2633h.01M508 2575.9h.01M499.2 2627.9h.01M534.7 2594.5h.01M563.9 2586h.01M533.4 2591.7h.01M533.3 2580.6h.01M504.6 2573.7h.01M527.6 2602.5h.01M562.6 2612.5h.01M514.4 2594.5h.01M562.1 2617.7h.01M549.3 2627.8h.01M492.7 2593.4h.01M569.7 2597.5h.01M513.1 2598.2h.01M518.6 2671.4h.01M526.2 2609.3h.01M530.6 2595.8h.01M512.8 2605.5h.01M558.3 2579.4h.01M508.9 2653.5h.01M487.5 2598h.01M501.7 2584.6h.01M508.1 2625.5h.01M528.3 2582.4h.01M567.7 2611.9h.01M539.7 2640.7h.01M496.8 2630.5h.01M517.4 2612.6h.01M563.6 2625h.01M515.8 2636.4h.01M519.2 2632.9h.01M548.4 2596.4h.01M518 2633.4h.01M507.3 2610.3h.01M518.7 2651h.01M531.2 2616.7h.01M532.9 2656.1h.01M543.2 2643.3h.01M518.5 2680.2h.01M519.1 2639.2h.01M528.4 2596.3h.01M501.7 2630.1h.01M544.1 2598.4h.01M500.7 2644.1h.01M518.1 2668.6h.01M543.1 2654h.01M564.1 2605.9h.01M511.9 2577.6h.01M517 2658.3h.01M562 2597.3h.01M527.7 2623.2h.01M538.1 2635.2h.01M531.2 2665.2h.01M555.1 2636.8h.01M544.2 2639.6h.01M525.2 2648.6h.01M561.9 2602.4h.01M493 2652h.01M491.6 2601.1h.01M541.8 2590.1h.01M528 2627.8h.01M508.7 2635.8h.01M513.8 2658h.01M504.3 2667.9h.01M540.5 2628.8h.01M494.6 2597.2h.01M531.5 2611h.01M534.7 2581.4h.01M518.4 2627.7h.01M529.7 2635.1h.01M511.4 2642.1h.01M498.3 2575.9h.01M511.8 2579.5h.01M526.3 2616.9h.01M511.5 2602.1h.01M495.7 2619.2h.01M541 2661.6h.01M516.5 2612.1h.01M503 2620.5h.01M534.4 2583.6h.01M519.6 2651.4h.01M519 2633.7h.01M525.7 2638.5h.01M559.9 2635.2h.01M515 2634.3h.01M499.5 2649.7h.01M538.3 2595.8h.01M516 2669h.01M524.8 2624h.01M530.6 2653.5h.01M518.2 2642.6h.01M493.2 2643.4h.01M555.5 2610h.01M512.6 2669.3h.01M553.6 2629.6h.01M541.2 2589h.01M501 2595.2h.01M510.8 2646.7h.01M531.2 2587.6h.01M537.4 2637.1h.01M496.6 2641h.01M546.7 2643h.01M535.1 2660.1h.01M524.2 2623.9h.01M561 2611.8h.01M496.8 2596.8h.01M513.2 2600.2h.01M532.8 2585.7h.01M569.7 2603.9h.01M517.3 2611h.01M508.6 2619.5h.01M533.2 2620.7h.01M491.1 2643.8h.01M516.6 2678.8h.01M529.4 2648.7h.01M545.3 2643.4h.01M518 2623.3h.01M554.1 2578.6h.01M524.6 2671h.01M490.6 2643.5h.01M568.4 2594.6h.01M530.5 2580.8h.01M556.8 2574.9h.01M524.7 2659.7h.01M504.5 2633.7h.01M500.3 2634.8h.01M499.3 2574.9h.01M507.2 2574.4h.01M518.2 2646.2h.01M540.4 2599.1h.01M526.5 2615.2h.01M502.6 2620.9h.01M517.7 2608.7h.01M532.5 2636.4h.01M546.2 2615.2h.01M524.4 2638.9h.01M546.4 2573.9h.01M494.5 2605.4h.01M503.3 2668.2h.01M559.4 2618.3h.01M495.2 2656.8h.01M527.9 2674.8h.01M543.4 2627.5h.01M553.7 2605.1h.01M532.3 2601.4h.01M542.9 2602h.01M532.7 2591.7h.01M495 2638.5h.01M505.9 2626.1h.01M534.4 2629.1h.01M518 2617.8h.01M518 2657.2h.01M510.7 2627.7h.01M515.2 2659h.01M512.7 2646.1h.01M492.6 2627.8h.01M504.4 2584.6h.01M548.3 2587.5h.01M502.2 2662.7h.01M564.8 2592.5h.01M501.1 2656h.01M507.2 2661.3h.01M544.3 2612.2h.01M519.1 2658.6h.01M518.2 2617.1h.01M545 2619.9h.01M505.1 2578.7h.01M531.2 2590.2h.01M533.6 2576h.01M540.9 2573h.01M512 2576.1h.01M552.2 2640.8h.01M495.2 2574.9h.01M558 2604h.01M549.3 2642.6h.01M507.3 2629.5h.01M527.1 2619.1h.01M491.9 2630.5h.01M555.2 2602.8h.01M559.5 2577.9h.01M510.8 2663.4h.01M518.5 2618.1h.01M552.5 2603.4h.01M527.2 2584.9h.01M517.4 2656.6h.01M537.7 2639.2h.01M515.8 2668.2h.01M516.4 2616.3h.01M518 2615.1h.01M538.1 2652.6h.01M529 2615.5h.01M567.6 2594.9h.01M503.9 2588.5h.01M534.6 2574.2h.01M535.2 2616.3h.01M495.1 2627.1h.01M500.4 2607.7h.01M558.3 2619.2h.01M525.8 2630.5h.01M518.2 2629.7h.01M526.2 2610.5h.01M543.2 2583.2h.01M552.5 2581h.01M504.8 2604.9h.01M516.1 2618.8h.01M518.1 2611.2h.01M528.8 2587.1h.01M530.6 2672.5h.01M518.6 2635.7h.01M542.7 2587h.01M529.3 2614h.01M519.8 2661.5h.01M543.1 2588.9h.01M514.6 2678.9h.01M557.2 2582.8h.01M550.9 2615.7h.01M517.4 2653.7h.01M531.8 2586.3h.01M499.8 2585.9h.01M530.1 2583.5h.01M513.1 2670h.01M503.2 2611.2h.01M518.1 2611.1h.01M487.8 2583.8h.01M525.3 2660.1h.01M568.5 2576.3h.01M550 2603.6h.01M518.1 2649.8h.01M526 2623.5h.01M507.1 2577.5h.01M564.3 2594.7h.01M525.7 2666.4h.01M534.4 2643.2h.01M524 2641.8h.01M533.2 2646.9h.01M525.2 2636.7h.01M524.9 2620.9h.01M517 2672h.01M539.2 2661.4h.01M516.6 2655.9h.01M549.9 2607.3h.01M537.6 2608h.01M491.2 2633.5h.01M541.1 2640.8h.01M506.1 2587.6h.01M503.8 2653.9h.01M525 2614.5h.01M518.2 2665.5h.01M519 2624.6h.01M531.1 2648.2h.01M490.9 2627.4h.01M526.8 2638.9h.01M493.1 2643.7h.01M498.8 2621.4h.01M518 2663.7h.01M546.4 2649.3h.01M550.8 2592.2h.01M518 2610.3h.01M529.7 2621.3h.01M508.1 2638.8h.01M516.6 2658.9h.01M492.3 2625.9h.01M534.8 2600.5h.01M513 2593.4h.01M541.2 2630.6h.01M534.4 2640.6h.01M519.7 2663h.01M567.2 2589.2h.01M511 2599.7h.01M504.8 2646.5h.01M543.1 2646.1h.01M518.5 2637.3h.01M530.9 2648.7h.01M526.8 2622.2h.01M527.8 2629.6h.01M518.9 2653.1h.01M541.4 2656.2h.01M554.7 2588h.01M546.4 2573.5h.01M506.6 2608.6h.01M529.7 2589.5h.01M525.6 2619.1h.01M538 2653.6h.01M563.9 2594.8h.01M518 2622.2h.01M524.3 2660.5h.01M518.4 2618.3h.01M518.4 2646h.01M518 2655.2h.01M538 2616.4h.01M505.7 2615.4h.01M490.8 2581.6h.01M508.3 2648.4h.01M511.9 2607.4h.01M509.3 2671.4h.01M552.8 2589.8h.01M540.9 2656.2h.01M518.1 2612.9h.01M534.6 2585.2h.01M506.5 2625.3h.01M529.7 2586.9h.01M528.5 2618h.01M547.6 2606.7h.01M512.3 2607.6h.01M558.4 2642.9h.01M495.2 2594.1h.01M499.9 2636.2h.01M512.1 2641.3h.01M527.7 2662.1h.01M531.2 2635.4h.01M518.1 2677h.01M518.4 2650.3h.01M542.4 2640h.01M518 2622.3h.01M514.7 2598.5h.01M544.3 2589h.01M552.3 2642.1h.01M527.9 2610.8h.01M513 2645h.01M554.1 2600.3h.01M488.7 2596.6h.01M518.3 2615.2h.01M544.7 2609.4h.01M499.8 2616.5h.01M528.1 2602.5h.01M501.4 2623.4h.01M495.5 2587.2h.01M515 2644.2h.01M536.6 2620.7h.01M519.3 2667h.01M518.3 2624.3h.01M507.5 2607.9h.01M518.8 2640.9h.01M506.1 2615.8h.01M523.7 2640.2h.01M497 2574.3h.01M542.9 2593.2h.01M518.6 2659.7h.01M556.1 2578.2h.01M513.4 2630.6h.01M536.7 2662.5h.01M532 2604.2h.01M531.4 2647.5h.01M556.1 2644.5h.01M562.7 2595.7h.01M489.6 2631.5h.01M517.5 2640.1h.01M502.3 2615.5h.01M468.5 2575.4h.01M479.9 2607.8h.01M476.6 2574.9h.01M486.2 2617.7h.01M578.8 2575.4h.01M577 2572.2h.01M466.9 2606.5h.01M472.6 2613h.01M476.8 2573.3h.01M485.2 2586.6h.01M474.9 2605.3h.01M477.1 2621h.01M480.6 2622.6h.01M486.6 2637.6h.01M480.7 2640.3h.01M486.8 2613.3h.01M470.8 2603h.01M477.5 2613.7h.01M471.4 2579h.01M461.8 2576.3h.01M578.6 2571.8h.01M470.3 2612h.01M480 2629.7h.01M481.9 2583.3h.01M486.3 2627.2h.01M481.9 2625.1h.01M487 2607.3h.01M477.5 2609.5h.01M485.7 2591.6h.01M467.4 2600.5h.01M459.3 2574.4h.01M491.2 2645.5h.01M478.1 2584.6h.01M484.3 2616.3h.01M486.3 2597.1h.01M483.9 2638.2h.01M576.2 2573.4h.01M484.4 2646.1h.01M482.3 2636.3h.01M483.9 2579.1h.01M466 2577.6h.01M481.8 2604h.01M575.9 2585.8h.01M487.6 2612.8h.01M487.7 2613.3h.01M477.8 2598.9h.01M478.9 2616.6h.01M481.2 2592.9h.01M471.1 2589.1h.01M480.7 2589h.01M487.8 2622.9h.01M467.4 2594.1h.01M483 2579.8h.01M481.7 2616.1h.01M468.9 2606.3h.01M483.8 2637.3h.01M472.3 2588.5h.01M471.7 2578.1h.01M576.4 2584.1h.01M479 2584h.01M481.8 2630.1h.01M472.3 2587.8h.01M485.4 2628.4h.01M485.4 2621.5h.01M488.6 2651.1h.01M484.9 2641.7h.01M480.3 2592.3h.01M476.5 2608h.01M486.3 2578.1h.01M475.5 2603.7h.01M460.4 2584.1h.01M489 2636.2h.01M481.5 2574.1h.01M483 2629.3h.01M486.5 2599.2h.01M485.5 2608h.01M483.9 2575.4h.01M487.2 2625.4h.01M474.6 2591.3h.01M478.4 2614.9h.01M482.3 2632.4h.01M489.1 2650.7h.01M473.8 2617.4h.01M483.5 2598.4h.01M341.7 2580.7h.01M425.7 2576h.01M442.4 2573.6h.01M464.3 2577.1h.01M482.9 2574.3h.01M439.3 2586.7h.01M456 2589h.01M446.4 2595h.01M388.1 2596.2h.01M402.9 2596.2h.01M412.4 2599.3h.01M361.4 2609.8h.01M383.3 2608.8h.01M428.6 2605.7h.01M442.9 2604.5h.01M423.8 2610.5h.01M414.3 2612.9h.01M408.3 2615.2h.01M433.3 2612.9h.01M448.8 2612.9h.01M454.8 2610.5h.01M341.7 2624.8h.01M351.2 2621.2h.01M354.8 2621.9h.01M400 2624.8h.01M397.6 2627.1h.01M410.7 2626h.01M409.5 2631.9h.01M420.7 2631.9h.01M430.5 2629h.01M436.9 2630.7h.01M442.4 2631.9h.01M439.3 2621.9h.01M444 2621.2h.01M452.4 2630.7h.01M456 2633.1h.01M464.3 2631.9h.01M461.9 2621.2h.01M467.9 2618.8h.01M321 2634.3h.01M381 2652.1h.01M382.1 2651.7h.01M403.1 2651h.01M411.2 2652.9h.01M422.6 2647.4h.01M431.7 2645h.01M432.6 2653.8h.01M448.8 2653.3h.01M452.4 2652.1h.01M458.3 2654.5h.01M460.7 2647.4h.01M466.7 2646.2h.01M469 2643.8h.01M477.4 2647.4h.01M479.8 2653.3h.01M483.3 2660.5h.01M488.1 2656.9h.01M576.9 2571.9h.01M610 2573.6h.01M621.9 2581.4h.01M587.4 2608.1h.01M582.1 2614h.01M589.8 2614h.01M576.9 2627.9h.01M569 2627.1h.01M566.7 2636.7h.01M466.7 2586.7h.01M471.4 2591.4h.01M475 2598.6h.01M467.9 2602.1h.01M472.6 2610.5h.01M477.4 2615.2h.01M466.7 2612.9h.01M475 2622.4h.01M471.4 2629.5h.01M477.4 2633.1h.01M464.3 2595h.01M457.1 2593.8h.01M476.2 2579.5h.01M478.6 2586.7h.01M481 2596.2h.01M483.3 2605.7h.01M482.1 2620h.01M484.5 2627.1h.01M566.7 2579.5h.01M570.2 2589h.01M573.8 2587.9h.01M564.3 2593.8h.01M571.4 2601h.01M567.9 2608.1h.01M564.3 2615.2h.01M570.2 2620h.01M559.5 2622.4h.01M561.9 2631.9h.01M556 2641.4h.01M552.4 2648.6h.01M550 2655.7h.01M471.5 2584h.01M482 2626.7h.01M484.3 2643.9h.01M484.6 2577.1h.01M485.5 2626.7h.01M482.5 2586.6h.01M486.5 2618.4h.01M479.7 2600.3h.01M474.3 2590.5h.01M483.3 2595.5h.01M480.8 2639.5h.01M470.1 2657.4h.01M480 2597.6h.01M487 2629.6h.01M473.3 2612.4h.01M491.2 2651.3h.01M480.5 2600.7h.01M481.1 2591.3h.01M466.8 2574.3h.01M481.2 2633.2h.01M481.1 2609.5h.01M474.8 2589h.01M483.2 2588.9h.01M479.8 2616.8h.01M486.4 2609.8h.01M480.5 2589.5h.01M473.5 2647.6h.01M474.5 2612.2h.01M477.3 2595.9h.01M485 2580.4h.01M486.4 2632.1h.01M484.1 2605.1h.01M494.8 2659.3h.01M483.5 2646.3h.01M481.5 2621.3h.01M490.3 2660.7h.01M488.1 2639.2h.01M493.2 2656.8h.01M485.8 2626.1h.01M485.5 2620.5h.01M467.3 2596.3h.01M487.4 2633h.01M484.6 2575.9h.01M473.6 2603.9h.01M467 2618.8h.01M479.7 2648.7h.01M465.1 2581h.01M480.5 2586.2h.01M469.8 2616.2h.01M484.9 2628h.01M493.9 2659h.01M467.5 2649.3h.01M484.3 2634.3h.01M474.8 2575h.01M486.2 2623.2h.01M484.6 2629.3h.01M480.5 2577.3h.01M482.5 2575.2h.01M474.4 2657.6h.01M479.8 2655.1h.01" fill="none" stroke="#bebebe" stroke-width="5.8" stroke-linecap="round"/>
<path d="M508.8 2299h.01M500 2317.6h.01M504.8 2318.3h.01M509 2315.2h.01M510.7 2317.6h.01M509 2337.4h.01M496.9 2358.1h.01M468.6 2398.3h.01M510.5 2400.2h.01M502.9 2404.5h.01M504 2418.3h.01M505.7 2425h.01M479.8 2426.9h.01M508.6 2438.1h.01M507.1 2440.2h.01M510.7 2440.2h.01M495.2 2442.6h.01M498.1 2446.7h.01M506.2 2447.4h.01M509.5 2447.4h.01M510.7 2452.1h.01M511.9 2455.7h.01M511.4 2460.5h.01M491.7 2463.3h.01M504 2464.5h.01M498.1 2467.4h.01M509.5 2468.8h.01M510.7 2472.4h.01M507.1 2474.8h.01M492.9 2477.1h.01M482.9 2479.5h.01M494 2480.7h.01M502.4 2480.7h.01M509.5 2479.5h.01M511.9 2483.1h.01M510.7 2485.5h.01M494 2483.1h.01M482.1 2502.1h.01M482.9 2506.9h.01M461.9 2518.1h.01M476.7 2521.2h.01M438.1 2539.8h.01M453.8 2540.5h.01M466.7 2543.1h.01M478.6 2534.3h.01M481 2537.9h.01M484.5 2541.4h.01M488.1 2536.7h.01M476.2 2543.8h.01M483.3 2548.6h.01M476.9 2555.2h.01M485.7 2555.7h.01M483.3 2561h.01M490.5 2559.3h.01M475 2564.8h.01M486.9 2566.4h.01M481 2562.9h.01M510.5 2504.3h.01M512.8 2539.6h.01M503.9 2493.8h.01M516.4 2495.1h.01M505.9 2514.1h.01M506.1 2520.6h.01M501.3 2524.5h.01M515.4 2556.8h.01M514.5 2530.2h.01M515.6 2562.1h.01M511.3 2488.8h.01M508.6 2513.5h.01M511.6 2539.8h.01M514.8 2524.8h.01M503 2547.7h.01M500.2 2566.4h.01M509.3 2521.3h.01M503.5 2507.2h.01M512 2505.5h.01M503.7 2561.1h.01M502.6 2562.8h.01M512.5 2558.4h.01M511.9 2494.5h.01M510.6 2551h.01M504.9 2494.2h.01M516.7 2549.2h.01M504.2 2528.1h.01M506.8 2493.6h.01M504.3 2530.1h.01M505.7 2565.3h.01M514.9 2561.5h.01M502.2 2532.6h.01M511.7 2505.3h.01M509 2503.7h.01M517.7 2530.9h.01M505.9 2489.7h.01M504.5 2563.6h.01M511.1 2497.9h.01M512.6 2520.3h.01M516.3 2556.6h.01M517.5 2558.6h.01M501.2 2514.1h.01M501.8 2508.7h.01M517.7 2507.3h.01M497.7 2511.9h.01M514.4 2516.9h.01M508.7 2516.2h.01M512.6 2544.5h.01M511.8 2560.1h.01M507.4 2536h.01M503.5 2555.5h.01M507.6 2494.6h.01M505.8 2521.6h.01M508.2 2556.5h.01M508.2 2524.1h.01M507.9 2557.4h.01M497.3 2534.3h.01M514.8 2553.4h.01M506.5 2564.9h.01M498.4 2543.2h.01M506.3 2566.9h.01M516.9 2562.1h.01M511.3 2550.1h.01M507.8 2537.8h.01M513.6 2504.8h.01M516.4 2511.2h.01M514.7 2563.7h.01M508.8 2548.2h.01M499.7 2541.5h.01M515.4 2503h.01M503.7 2565.3h.01M517.7 2560.5h.01M515.2 2498.1h.01M512.7 2564.8h.01M505.5 2541.4h.01M504 2561.4h.01M512.9 2546.8h.01M505.7 2509.1h.01M504.7 2517.1h.01M512.7 2496.5h.01M506.8 2558h.01M509 2488.8h.01M505.5 2566.1h.01M513.5 2531.5h.01M506.5 2503.7h.01M505.7 2548.2h.01M509.5 2511.6h.01M515.3 2559.4h.01M506.8 2510.7h.01M513.6 2512.5h.01M504.4 2493.3h.01M517.3 2506.8h.01M501.1 2555.5h.01M510.1 2492.6h.01M512.4 2526.9h.01M495.4 2523.1h.01M514 2544.2h.01M503.8 2507h.01M514.1 2540.6h.01M511.7 2532.1h.01M513.3 2559.9h.01M513.5 2565.2h.01M509.9 2528h.01M509.9 2507.7h.01M510.3 2530h.01M516 2547.3h.01M513.6 2566.3h.01M506.4 2560.4h.01M499.9 2535.7h.01M506.1 2500.7h.01M506.5 2504.7h.01M511.6 2542h.01M499.3 2554.9h.01M516.5 2547.4h.01M496.9 2563.6h.01M514.7 2498.9h.01M510.8 2541.4h.01M505 2543.3h.01M503.4 2538.5h.01M508.2 2515.4h.01M514.5 2566.4h.01M514.6 2494.1h.01M510.9 2541.5h.01M499 2557.7h.01M506.3 2525.4h.01M517 2564.8h.01M508.9 2499.8h.01M517.2 2512.1h.01M517.4 2540.6h.01M506.7 2515.8h.01M515.6 2533.6h.01M507.8 2553.9h.01M501.4 2541.6h.01M510 2564.8h.01M509.6 2554.3h.01M506.3 2542.9h.01M508.2 2557.5h.01M514 2500.4h.01M496 2563.8h.01M508.3 2529.4h.01M507.1 2523.2h.01M514.7 2499.6h.01M516.2 2556.4h.01M514.4 2500.1h.01M502.9 2542.7h.01M507.2 2547.7h.01M512.6 2496.8h.01M504.7 2558.9h.01M508.6 2497.4h.01M503.9 2536.6h.01M516.6 2522h.01M512.7 2547.3h.01M514.7 2557.3h.01M509.2 2551.7h.01M515 2496.8h.01M500.8 2547.1h.01M499.6 2556h.01M509.9 2515h.01M506 2565.9h.01M517 2554.6h.01M517.7 2499.8h.01M505.7 2506.8h.01M511.3 2566.9h.01M506.9 2564.9h.01M510 2500.8h.01M509.4 2551.5h.01M506.2 2543.3h.01M509 2558.2h.01M515.9 2519.5h.01M514.7 2491h.01M514.7 2562.1h.01M516.4 2544.7h.01M509.1 2534.7h.01M513.7 2527.6h.01M515 2523.3h.01M517.4 2538.4h.01M507.6 2499.3h.01M515.8 2564.1h.01M505.5 2545.2h.01M513.1 2542.6h.01M507.2 2522h.01M502.5 2517.9h.01M513.9 2561.8h.01M499.1 2555.7h.01M507.1 2531.4h.01M510 2542.6h.01M506.4 2546.2h.01M502.9 2488.5h.01M510.2 2546.9h.01M507.6 2501.2h.01M515.7 2544.4h.01M514.9 2530.3h.01M511.7 2551.6h.01M508.9 2492.9h.01M512.5 2528.3h.01M510.3 2495.1h.01M506.2 2517.2h.01M511.5 2523.8h.01M505.2 2560.2h.01M510.2 2521.2h.01M504.2 2549.2h.01M516.8 2548h.01M504.5 2489.1h.01M515.5 2503.7h.01M501.5 2529.1h.01M497.4 2514.3h.01M499.8 2530.7h.01M506 2565.2h.01M512.7 2499.1h.01M510.7 2536.7h.01M505 2507.1h.01M506.9 2553h.01M516.4 2524.7h.01M508.7 2498.3h.01M506 2541.1h.01M516.5 2504.2h.01M516.7 2536.5h.01M515.3 2562.3h.01M516.9 2566.9h.01M515.2 2547.9h.01M515.8 2536.1h.01M510.9 2521.4h.01M514.4 2522h.01M513 2549.8h.01M517.4 2562.3h.01M516 2565.9h.01M510.5 2506.8h.01M515 2506.2h.01M500 2522.1h.01M503.5 2502.7h.01M515.6 2522.6h.01M508.7 2505.4h.01M510.8 2531.1h.01M510.2 2536.2h.01M507.6 2557.2h.01M508.2 2520.7h.01M499.5 2566.7h.01M502.4 2560.7h.01M507.4 2533.4h.01M512.3 2547.2h.01M505.5 2566.4h.01M516 2525.3h.01M511.5 2531.8h.01M517 2490.9h.01M512.6 2512.3h.01M513 2514.8h.01M512.8 2543.6h.01M512.6 2541.2h.01M501.7 2511.3h.01M506.5 2515.2h.01M513.2 2559.5h.01M510.1 2499.2h.01M511.9 2559.9h.01M507.4 2553.7h.01M507.6 2538.8h.01M512.4 2513.2h.01M501.1 2529.7h.01M515.6 2526.9h.01M515.3 2563.5h.01M514.9 2494.9h.01M504.4 2505.8h.01M506.3 2533.2h.01M500.9 2554.2h.01M502 2531.1h.01M511.4 2522.6h.01M505.8 2496.2h.01M517 2543.7h.01M500.7 2524.6h.01M497.1 2515h.01M506.2 2559.2h.01M516.8 2534.5h.01M507 2508.7h.01M517.2 2553h.01M510.4 2550.6h.01M516.5 2504.7h.01M516.1 2551.3h.01M500.3 2547.4h.01M509.8 2505.3h.01M516.3 2494.1h.01M512.1 2566.1h.01M514.9 2538.7h.01M517 2492.2h.01M504.1 2489.6h.01M514.4 2541.8h.01M510.1 2564.3h.01M503.5 2548.3h.01M506.6 2557.4h.01M495.2 2532.5h.01M512.2 2561.9h.01M510.7 2506.3h.01M514.6 2540.5h.01M496.8 2553.9h.01M510.1 2538.1h.01M508.6 2530.6h.01M516.7 2521.2h.01M510 2540.2h.01M504.6 2504.6h.01M501.3 2537.2h.01M511.7 2516.8h.01M513.1 2544.7h.01M513.9 2547.6h.01M499.2 2540.3h.01M516.2 2535.5h.01M516.7 2561h.01M514 2515.1h.01M496.5 2541.4h.01M512.3 2491.6h.01M510.8 2546.2h.01M509.2 2539.2h.01M516.4 2514.8h.01M505.8 2489.2h.01M517.8 2512.8h.01M504.7 2534.4h.01M507.9 2494.6h.01M512.3 2489.6h.01M505.1 2562.3h.01M512.1 2528.4h.01M510.5 2509.8h.01M514.3 2552.7h.01M515.8 2525.8h.01M509.2 2509.8h.01M497.3 2540.4h.01M513.6 2553.4h.01M513 2512.9h.01M504.8 2557.8h.01M510.7 2522.4h.01M514.5 2541.7h.01M516.4 2544.4h.01M500.3 2536.2h.01M508.7 2521.3h.01M505.9 2553.9h.01M514.9 2491.1h.01M512.7 2529.9h.01M503.5 2555.4h.01M510.2 2513.7h.01M509.8 2517.2h.01M510.8 2511.1h.01M514.6 2491.7h.01M510.9 2497.1h.01M494.9 2507.9h.01M507.8 2546.2h.01M514.9 2534.7h.01M510.2 2559.9h.01M516.4 2566.4h.01M500.1 2534.7h.01M503.4 2552.4h.01M508.4 2535.6h.01M517.4 2501.4h.01M516 2544.5h.01M510.7 2544.2h.01M512 2541h.01M516.3 2500.4h.01M508.7 2496.6h.01M499.8 2557.4h.01M512.4 2521h.01M516 2530.1h.01M506.1 2555.1h.01M505.2 2524.7h.01M512.6 2509.7h.01M514.9 2557.4h.01M512.1 2539h.01M500.2 2544.8h.01M516.2 2516.9h.01M512.1 2544.2h.01M508.2 2551.9h.01M513.8 2558.8h.01M517 2559.4h.01M506.2 2500.6h.01M513.4 2559.1h.01M511.3 2528.9h.01M517.4 2495.6h.01M515.1 2516.4h.01M512.3 2539h.01M507.8 2562.8h.01M516.1 2550.5h.01M495.8 2514.7h.01M505.5 2560.1h.01M496.5 2546.6h.01M513.1 2553.4h.01M509.7 2566.3h.01M504.3 2555.6h.01M515 2552.4h.01M513.3 2508.8h.01M512.9 2500.7h.01M512.8 2527.9h.01M515.1 2549.8h.01M504.3 2528.9h.01M507.3 2551.5h.01M517.5 2496.4h.01M500.3 2550.8h.01M511.2 2536.7h.01M513.9 2527.1h.01M512.8 2530.4h.01M503.8 2565.3h.01M509.5 2559.7h.01M510.2 2530h.01M505.1 2499.4h.01M509.4 2524.7h.01M517.1 2500.6h.01M512.5 2495.2h.01M500.6 2538.7h.01M506.7 2539.2h.01M511.2 2515.4h.01M507.3 2508h.01M507.5 2493.7h.01M509.7 2544.1h.01M506.4 2530.5h.01M516.5 2510h.01M517.6 2514.6h.01M515.4 2557h.01M509.4 2560.4h.01M506.5 2532.1h.01M516.8 2492.7h.01M510.1 2564.7h.01M509.1 2518.7h.01M506 2525.2h.01M511.3 2565.2h.01M514.5 2530.8h.01M511.3 2542.3h.01M509 2499.7h.01M514.2 2528.2h.01M501.5 2554.6h.01M510.7 2549.4h.01M513.4 2556.9h.01M512.7 2544.6h.01M501.8 2562.8h.01" fill="none" stroke="#0000ff" stroke-width="5.8" stroke-linecap="round"/>
<path d="M589.3 2342.6h.01M540.5 2362.4h.01M548.1 2387.9h.01M538.1 2393.8h.01M542.1 2395h.01M580.2 2402.1h.01M534.5 2427.9h.01M535.7 2431.4h.01M579.8 2433.6h.01M581 2440.2h.01M538.8 2448.6h.01M535.7 2452.1h.01M534.5 2455.7h.01M534 2458.1h.01M575.5 2454h.01M556 2455.7h.01M565 2458.6h.01M542.9 2465.7h.01M543.6 2470h.01M545.2 2474.3h.01M568.6 2469.5h.01M576.2 2471.2h.01M543.3 2480.7h.01M559.5 2480.7h.01M563.1 2479h.01M541 2488.3h.01M546.4 2490.2h.01M614.3 2487.9h.01M603.6 2491.4h.01M536.4 2496.2h.01M553.6 2496.2h.01M564.3 2496.2h.01M547.6 2499.8h.01M554.8 2504.5h.01M570.2 2502.1h.01M573.8 2506.9h.01M578.6 2504h.01M585 2499.3h.01M591.7 2505.2h.01M602.4 2500.5h.01M606 2502.1h.01M609.5 2497.4h.01M611.4 2499.3h.01M608.8 2505.7h.01M606.4 2508.1h.01M608.3 2512.9h.01M538.1 2505.2h.01M531 2509.3h.01M550 2510.5h.01M550 2514h.01M548.8 2518.8h.01M552.4 2520h.01M539.3 2521.9h.01M540.5 2526h.01M544 2528.3h.01M548.8 2527.1h.01M556 2523.6h.01M558.3 2527.1h.01M563.1 2527.1h.01M568.6 2526h.01M585.7 2527.6h.01M550 2531.9h.01M553.6 2534.3h.01M557.1 2535.5h.01M561.9 2536.7h.01M569 2537.9h.01M579.8 2534.8h.01M598.1 2534.8h.01M642.9 2536h.01M626.2 2541h.01M607.1 2541.9h.01M588.6 2542.1h.01M542.9 2540.2h.01M539.3 2543.8h.01M547.6 2541.4h.01M552.4 2540.2h.01M560.7 2543.8h.01M561.9 2547.4h.01M556.7 2547.4h.01M548.8 2548.6h.01M542.9 2552.9h.01M567.9 2551h.01M595.2 2551.4h.01M608.3 2554.5h.01M528.1 2553.8h.01M534.5 2552.1h.01M535.7 2555.7h.01M531 2558.1h.01M534.5 2561h.01M538.1 2562.4h.01M542.9 2560.5h.01M548.8 2558.1h.01M551.2 2561h.01M556 2559.3h.01M559.5 2556.9h.01M560.7 2561.7h.01M565.5 2564h.01M569 2566.4h.01M563.1 2566.4h.01M557.1 2565.2h.01M552.4 2565.2h.01M546.4 2564.8h.01M540.5 2565.2h.01M535.7 2565.2h.01M532.1 2564h.01M552.4 2560.4h.01M550.7 2549.2h.01M529.8 2566.6h.01M561 2540h.01M533.1 2563.4h.01M546 2541.6h.01M541.5 2535.7h.01M533.2 2538.2h.01M531.9 2551.3h.01M566.8 2546.5h.01M564.6 2560h.01M566.1 2538.3h.01M540.2 2544.3h.01M564.7 2563.6h.01M544.7 2544.4h.01M551.6 2537.6h.01M546.3 2556.9h.01M536.1 2562.1h.01M563.1 2562.5h.01M563.9 2542.9h.01M551.5 2561.4h.01M529.8 2565.6h.01M561.3 2535.6h.01M566.4 2562h.01M565.4 2557.2h.01M543.8 2538h.01M561 2548.3h.01M540.7 2565.7h.01M536.7 2562.4h.01M537.1 2552.5h.01M541.7 2563.6h.01M563.2 2559.4h.01M529.9 2566.9h.01M550.8 2566.7h.01M551 2566.8h.01M547.6 2550.7h.01M550.3 2563.6h.01M561.7 2534.9h.01M560.8 2536.9h.01M566.8 2559.5h.01M550.5 2558h.01M559.7 2564.6h.01M538.4 2556.8h.01M550.5 2534h.01M542.6 2566.9h.01" fill="none" stroke="#ff0000" stroke-width="5.8" stroke-linecap="round"/>
<path d="M520.4 2568.8V2294.2H316.3V2683.8H646.7V2338.3H523.8V2568.8" fill="none" stroke="#000" stroke-width="2.7" stroke-dasharray="7.9 6.4"/>
<rect x="233.8" y="2140.8" width="573.2" height="572.9" fill="none" stroke="#333" stroke-width="1.6"/>
<line x1="228.8" y1="2158.3" x2="232.9" y2="2158.3" stroke="#333" stroke-width="1.5"/>
<text x="227.2" y="2167" font-size="26" text-anchor="end" fill="#4d4d4d">6</text>
<line x1="228.8" y1="2332.5" x2="232.9" y2="2332.5" stroke="#333" stroke-width="1.5"/>
<text x="227.2" y="2341.2" font-size="26" text-anchor="end" fill="#4d4d4d">4</text>
<line x1="228.8" y1="2507" x2="232.9" y2="2507" stroke="#333" stroke-width="1.5"/>
<text x="227.2" y="2515.7" font-size="26" text-anchor="end" fill="#4d4d4d">2</text>
<line x1="228.8" y1="2680.8" x2="232.9" y2="2680.8" stroke="#333" stroke-width="1.5"/>
<text x="227.2" y="2689.5" font-size="26" text-anchor="end" fill="#4d4d4d">0</text>
<line x1="355.8" y1="2714.6" x2="355.8" y2="2718.8" stroke="#333" stroke-width="1.5"/>
<text x="351.3" y="2741.7" font-size="26" text-anchor="middle" fill="#4d4d4d">-5</text>
<line x1="519.3" y1="2714.6" x2="519.3" y2="2718.8" stroke="#333" stroke-width="1.5"/>
<text x="519.3" y="2741.7" font-size="26" text-anchor="middle" fill="#4d4d4d">0</text>
<line x1="682.9" y1="2714.6" x2="682.9" y2="2718.8" stroke="#333" stroke-width="1.5"/>
<text x="682.9" y="2741.7" font-size="26" text-anchor="middle" fill="#4d4d4d">5</text>
<text x="237.5" y="2187.5" font-size="59" class="r" font-weight="bold">Serum</text>
<rect x="569.6" y="2148.8" width="230" height="90" fill="#fff" stroke="#000" stroke-width="1.7"/>
<path d="M588.1 2174.3h.01" fill="none" stroke="#0000ff" stroke-width="10" stroke-linecap="round"/>
<path d="M588.1 2213.8h.01" fill="none" stroke="#ff0000" stroke-width="10" stroke-linecap="round"/>
<text x="598.2" y="2180" font-size="26" textLength="189.5" lengthAdjust="spacingAndGlyphs">down−regulated</text>
<text x="618.3" y="2220" font-size="26" textLength="155.5" lengthAdjust="spacingAndGlyphs">up−regulated</text>
<line x1="233.8" y1="2568.8" x2="807" y2="2568.8" stroke="#000" stroke-width="2.9" stroke-dasharray="7.9 6.4"/>
<text x="708.5" y="2563.3" font-size="27" textLength="95" lengthAdjust="spacingAndGlyphs"><tspan font-style="italic">P</tspan>−value</text>
<text x="734.5" y="2591.7" font-size="24.5" textLength="50" lengthAdjust="spacingAndGlyphs">0.05</text>
<text x="467" y="2766.7" font-size="30.5" class="r" font-weight="bold" textLength="113.5" lengthAdjust="spacingAndGlyphs">log2(FC)</text>
<text x="196.5" y="2433" font-size="30" class="r" text-anchor="middle" font-weight="bold" textLength="197" lengthAdjust="spacingAndGlyphs" transform="rotate(-90 196.5 2433)">-log10(<tspan font-style="italic">P</tspan>-value)</text>
<path d="M320.4 2279.6h.01" fill="none" stroke="#0000ff" stroke-width="10.8" stroke-linecap="round"/>
<text x="328.7" y="2284.4" font-size="21.5" class="r" font-weight="bold" textLength="51" lengthAdjust="spacingAndGlyphs">down</text>
<path d="M614.6 2322.5h.01" fill="none" stroke="#ff0000" stroke-width="10.8" stroke-linecap="round"/>
<text x="623.7" y="2327.2" font-size="21.5" class="r" font-weight="bold" textLength="24" lengthAdjust="spacingAndGlyphs">up</text>
<path d="M497.5 2699.2h.01" fill="none" stroke="#bebebe" stroke-width="10.8" stroke-linecap="round"/>
<text x="506.5" y="2703.2" font-size="21.5" class="r" font-weight="bold" textLength="141.5" lengthAdjust="spacingAndGlyphs">not-significant</text>
<path d="M1564.7 2615.1h.01M1630.2 2629.3h.01M1566.3 2647.6h.01M1560.3 2634.9h.01M1553.4 2575.3h.01M1633 2578.7h.01M1593.2 2624.2h.01M1619.9 2583.5h.01M1624.4 2605.6h.01M1620.7 2632.3h.01M1571.5 2637.8h.01M1571.9 2575.7h.01M1651.8 2559.7h.01M1558.8 2613.5h.01M1602.3 2644.2h.01M1625.3 2561.9h.01M1596.9 2566.2h.01M1547.8 2576.9h.01M1616.5 2565.9h.01M1597.2 2661.6h.01M1597 2649.3h.01M1569.5 2584.6h.01M1598 2577.5h.01M1591.4 2586.3h.01M1616.2 2637.5h.01M1624 2605.8h.01M1548.2 2604.3h.01M1590.1 2664.1h.01M1591.5 2593.2h.01M1590.9 2625.3h.01M1591.5 2582.8h.01M1639.5 2595.6h.01M1644.2 2586h.01M1586.7 2637.2h.01M1547.8 2580.3h.01M1574.9 2585.4h.01M1594.9 2588.3h.01M1620.9 2644.7h.01M1610.3 2651.9h.01M1576.1 2554.1h.01M1599.3 2641.3h.01M1621.8 2653.4h.01M1621.3 2554.9h.01M1567.5 2629.5h.01M1591.3 2608.4h.01M1560.2 2605.4h.01M1625.6 2556.2h.01M1560.5 2578.1h.01M1635.6 2598.2h.01M1597.8 2633.7h.01M1610.2 2610.7h.01M1570.4 2555.4h.01M1559.7 2582.2h.01M1591.5 2650.1h.01M1585.4 2595.4h.01M1637.2 2558.7h.01M1545.7 2559.1h.01M1576.6 2573.5h.01M1566.4 2546.6h.01M1590.2 2561.8h.01M1592 2630.5h.01M1617.2 2579.1h.01M1585.7 2628.4h.01M1581.1 2617.7h.01M1650.9 2572.3h.01M1578 2628.6h.01M1592.2 2571.1h.01M1591.1 2569.2h.01M1639.9 2595.3h.01M1563.4 2579.1h.01M1640.8 2573.6h.01M1574.9 2560.7h.01M1615.3 2659h.01M1590 2639.3h.01M1594.2 2584.2h.01M1580.2 2630h.01M1566.8 2618h.01M1593.1 2666.8h.01M1582.1 2566.5h.01M1616.9 2631.1h.01M1563.4 2556h.01M1593.9 2583.3h.01M1636.4 2590.7h.01M1612.3 2573.6h.01M1600.6 2615.8h.01M1618.6 2650h.01M1596.8 2581.1h.01M1561.6 2614.9h.01M1611.2 2645.8h.01M1575.4 2549.4h.01M1583.4 2549.1h.01M1630.6 2550.4h.01M1571.5 2610.9h.01M1595.1 2549h.01M1613.5 2585.7h.01M1559.7 2554.7h.01M1610.6 2641.5h.01M1580.8 2572.3h.01M1595.5 2577.9h.01M1576.6 2644.9h.01M1566.5 2635.9h.01M1550.5 2546.8h.01M1633.1 2562.1h.01M1620.9 2614.1h.01M1645.6 2594.4h.01M1592.5 2550.9h.01M1567.2 2598.3h.01M1601.4 2657.2h.01M1586.6 2631.8h.01M1575 2646.6h.01M1571.8 2591.4h.01M1642.2 2607.8h.01M1630.1 2608.6h.01M1616.2 2643.3h.01M1611.4 2593.4h.01M1569.9 2550.5h.01M1589.5 2575.2h.01M1630.2 2588h.01M1593.4 2621.4h.01M1578.4 2633.3h.01M1594 2552h.01M1643.1 2552h.01M1561.4 2599h.01M1601 2617.1h.01M1615.4 2600.9h.01M1594.7 2610.4h.01M1546.1 2582.3h.01M1585.8 2609.1h.01M1580.7 2636.2h.01M1619.3 2573.5h.01M1625.6 2642.4h.01M1613.9 2556.3h.01M1614.8 2553.5h.01M1618.1 2574.3h.01M1572.5 2551.4h.01M1638.1 2558.5h.01M1550 2575h.01M1551.9 2550.7h.01M1590.7 2579h.01M1617.3 2550.4h.01M1602.6 2648.3h.01M1578 2581.9h.01M1596.8 2581.2h.01M1641.6 2547.9h.01M1597.5 2646h.01M1629.5 2605.5h.01M1610.7 2584.6h.01M1595.7 2595.3h.01M1554.4 2627h.01M1563.1 2573.5h.01M1573.3 2645.2h.01M1606.4 2646.1h.01M1642 2615.3h.01M1608.5 2644.1h.01M1611.3 2636.9h.01M1613.6 2623h.01M1624.4 2650.9h.01M1587.2 2643.1h.01M1587.4 2572.8h.01M1616.3 2609h.01M1583.8 2593.1h.01M1548.8 2549.1h.01M1591.6 2640.8h.01M1568.4 2589.4h.01M1591.7 2632.8h.01M1584 2586.6h.01M1620.9 2549.6h.01M1555.7 2597.8h.01M1645.9 2605.6h.01M1592 2570.3h.01M1635.4 2587.8h.01M1628.7 2566.3h.01M1621.7 2632.8h.01M1620 2626h.01M1590.2 2618.6h.01M1574.6 2549h.01M1565.6 2617.7h.01M1564.8 2564.9h.01M1641.5 2562.7h.01M1582.8 2658.1h.01M1595.5 2632.4h.01M1626.2 2652h.01M1588.4 2599.1h.01M1594.4 2630.7h.01M1611.3 2641.8h.01M1586.2 2599.4h.01M1573.7 2577.1h.01M1584.7 2641.8h.01M1648 2573.3h.01M1556.5 2619.6h.01M1550.1 2570.7h.01M1577.1 2598.1h.01M1558.7 2549.1h.01M1566.1 2645.7h.01M1558.1 2619.9h.01M1592.1 2570.6h.01M1585.3 2582.3h.01M1612.6 2624.1h.01M1557.7 2630.9h.01M1614 2600.3h.01M1557.6 2601.7h.01M1588 2640.1h.01M1552.6 2549h.01M1599.6 2610.3h.01M1592.2 2669.6h.01M1551 2571.7h.01M1591.2 2584.2h.01M1589.1 2554h.01M1587.4 2573.9h.01M1546.3 2595.9h.01M1552.9 2619.1h.01M1584.1 2609.5h.01M1624.1 2648h.01M1561.3 2617.7h.01M1626.6 2560.2h.01M1632.8 2633h.01M1613.6 2560.6h.01M1602.4 2667h.01M1550.7 2573.5h.01M1587.2 2576.5h.01M1559.1 2549.4h.01M1562.6 2569.6h.01M1613.9 2561.9h.01M1571 2585.7h.01M1590.1 2559.5h.01M1574 2554.9h.01M1581.2 2577.8h.01M1587.7 2665.1h.01M1546.5 2603.8h.01M1615.8 2622.1h.01M1556.9 2582.4h.01M1631.4 2631.1h.01M1581.5 2597.4h.01M1546.5 2553.6h.01M1547.1 2554h.01M1568.7 2550.9h.01M1597.1 2665.5h.01M1635.5 2629.3h.01M1571.8 2574.4h.01M1610.2 2610.3h.01M1566.7 2619.6h.01M1591.8 2619.3h.01M1592.9 2567.4h.01M1611.8 2607.2h.01M1635.3 2626.9h.01M1594.1 2570h.01M1580.2 2599.9h.01M1587.9 2553.8h.01M1638.6 2604.2h.01M1571.1 2607.6h.01M1569 2602.1h.01M1600.2 2657.2h.01M1627.9 2617.9h.01M1597.4 2612.2h.01M1609.8 2633.8h.01M1562.2 2585.7h.01M1635.5 2615.1h.01M1561.5 2602.9h.01M1550.2 2619.5h.01M1591.8 2551.4h.01M1596.8 2659.5h.01M1584.8 2651.5h.01M1561.2 2640.5h.01M1599.7 2608.7h.01M1567.8 2599h.01M1598.5 2609.8h.01M1594.7 2594.1h.01M1569.7 2592.7h.01M1596.2 2560.5h.01M1591.4 2650.4h.01M1598.6 2592.9h.01M1632.5 2626.6h.01M1596.8 2590.7h.01M1570.5 2579.1h.01M1570.9 2568.6h.01M1601.1 2620.8h.01M1591.5 2590h.01M1564.2 2603.9h.01M1568.5 2619.6h.01M1645.3 2568.1h.01M1586.4 2649.5h.01M1613.4 2575.5h.01M1576.7 2546.8h.01M1590 2659.1h.01M1613.8 2617.2h.01M1567.5 2643.8h.01M1626.5 2643.9h.01M1598.6 2668.2h.01M1565.5 2558.9h.01M1583.8 2600h.01M1598.7 2665.3h.01M1618.4 2650.7h.01M1552.1 2595.9h.01M1594.8 2547.1h.01M1579.2 2623.3h.01M1613.1 2661.1h.01M1585.7 2605.2h.01M1599.8 2626.8h.01M1623 2626.8h.01M1570.4 2568.9h.01M1602.5 2648.3h.01M1573.9 2642.6h.01M1646.4 2566.9h.01M1593.7 2606.6h.01M1565.5 2572h.01M1590.5 2548.2h.01M1561.6 2579.2h.01M1543.3 2554.2h.01M1598.1 2633.8h.01M1566.1 2618.1h.01M1580.9 2595.7h.01M1594.1 2583.2h.01M1578.3 2614.4h.01M1597.3 2611.7h.01M1576.6 2569.7h.01M1566.8 2549.6h.01M1636.4 2587.6h.01M1623.5 2572.6h.01M1587.8 2590.5h.01M1592.5 2661.3h.01M1568.8 2565.9h.01M1618.4 2590.4h.01M1596 2550.5h.01M1599 2628.8h.01M1609.6 2612.3h.01M1643.9 2580.9h.01M1589.5 2572.3h.01M1553.6 2613h.01M1585.4 2649.7h.01M1550.8 2593.9h.01M1596.3 2567.4h.01M1564.3 2556.3h.01M1576.9 2557.9h.01M1597.9 2578.4h.01M1601.2 2667.9h.01M1563.1 2627.6h.01M1640.4 2567.9h.01M1574.5 2611.2h.01M1624.7 2600.2h.01M1627.4 2629.9h.01M1644.1 2589.4h.01M1596 2623.6h.01M1585.9 2648.7h.01M1621 2561.1h.01M1630.1 2588.2h.01M1622.8 2603.2h.01M1572.2 2634.4h.01M1572.7 2590.3h.01M1588.5 2579.1h.01M1584.6 2608.1h.01M1556.5 2620.9h.01M1623.9 2606.1h.01M1624.2 2644.4h.01M1597.8 2608.6h.01M1550.6 2616.2h.01M1629.2 2612.9h.01M1610.2 2625h.01M1552 2568.2h.01M1590.8 2662.1h.01M1589.9 2627.9h.01M1615.2 2580.6h.01M1626 2583.2h.01M1589 2634.2h.01M1624.5 2630.3h.01M1544.7 2564.4h.01M1625 2563.2h.01M1594.5 2614.4h.01M1591.5 2556.7h.01M1577.9 2630.2h.01M1607.5 2632.3h.01M1600.5 2623.8h.01M1611.8 2625.8h.01M1620.5 2575.4h.01M1570.3 2578.1h.01M1588.1 2614.8h.01M1557.8 2561.3h.01M1588.5 2625.8h.01M1589.1 2576.8h.01M1613 2551.5h.01M1558.1 2594.3h.01M1570.7 2641.7h.01M1633.8 2572.1h.01M1586.7 2560.3h.01M1551.2 2564.4h.01M1572.6 2600.5h.01M1577.2 2587.9h.01M1617.2 2587.7h.01M1562.5 2635.8h.01M1583.7 2655.2h.01M1626.3 2563.8h.01M1633 2562h.01M1544.8 2547.3h.01M1608.3 2635.6h.01M1581.6 2600.6h.01M1637.6 2565.4h.01M1571.7 2560.4h.01M1594.1 2576h.01M1623 2627.7h.01M1581.1 2589.8h.01M1593.9 2641h.01M1577.2 2611.2h.01M1599.8 2609.5h.01M1625.8 2571.5h.01M1602 2667.2h.01M1590.7 2630h.01M1628.9 2616.9h.01M1552.2 2577.9h.01M1620 2574h.01M1562.7 2590.6h.01M1595.1 2649.8h.01M1593.3 2641.2h.01M1618.3 2557.1h.01M1613.4 2605.2h.01M1591.4 2660.2h.01M1554.1 2593h.01M1592.4 2623.2h.01M1636.1 2627.5h.01M1589.7 2644.3h.01M1578.3 2563.9h.01M1579.8 2562.8h.01M1624 2654.2h.01M1646.2 2600.6h.01M1601.7 2662.6h.01M1638.2 2562.9h.01M1595.9 2626.8h.01M1594.3 2593.7h.01M1583.4 2604.5h.01M1593.9 2566.5h.01M1548.4 2547.2h.01M1611 2608.2h.01M1594.2 2626.1h.01M1583.9 2593.6h.01M1567 2586.1h.01M1580.9 2566h.01M1567.6 2644.6h.01M1557.4 2624.1h.01M1636.1 2631.1h.01M1594.4 2592.2h.01M1577.7 2653.5h.01M1576.9 2604.2h.01M1569.5 2632.2h.01M1626.2 2587.5h.01M1564.4 2596.7h.01M1578.3 2624.1h.01M1551.6 2554.2h.01M1562.6 2569.3h.01M1580.3 2656.7h.01M1596.3 2561.6h.01M1608.7 2671.5h.01M1584.6 2653.8h.01M1582.3 2593.5h.01M1559.6 2551.8h.01M1562.5 2578.4h.01M1587.8 2648.9h.01M1563.6 2553.5h.01M1574.8 2648.4h.01M1545.4 2589.9h.01M1598.7 2590.7h.01M1625.1 2656.6h.01M1597 2666.2h.01M1650.6 2574.8h.01M1625.9 2593.2h.01M1612.5 2600.8h.01M1587.8 2641.7h.01M1617 2548.1h.01M1599.9 2603.2h.01M1577.8 2563.7h.01M1579.4 2561.3h.01M1632.2 2642.8h.01M1617.8 2557.8h.01M1578.9 2625.4h.01M1639.7 2613.9h.01M1571.6 2613.2h.01M1581.7 2616.1h.01M1577 2640.8h.01M1573.2 2628h.01M1618.9 2560.1h.01M1597.7 2663.1h.01M1557.4 2589.2h.01M1577.3 2575.1h.01M1635.6 2617.7h.01M1641.1 2619.4h.01M1599.9 2665.4h.01M1581.8 2647.9h.01M1645.8 2549.3h.01M1566.8 2625.9h.01M1572.8 2600.6h.01M1598.9 2619.8h.01M1617.4 2557.6h.01M1632.7 2560.4h.01M1619.3 2606.9h.01M1572 2629.1h.01M1544.6 2574.4h.01M1645 2576.9h.01M1591.4 2614.4h.01M1560.5 2626.2h.01M1634.9 2597.2h.01M1575.8 2607.8h.01M1563.5 2610.1h.01M1565.5 2556.6h.01M1598.6 2587.9h.01M1547.8 2604.8h.01M1646.7 2578.5h.01M1545.5 2552.7h.01M1592 2607.9h.01M1607.5 2673.3h.01M1648.5 2589h.01M1594.3 2633.3h.01M1590.9 2638.5h.01M1586.1 2607.8h.01M1614.4 2636.8h.01M1564.5 2610.9h.01M1637.7 2578.5h.01M1560.5 2564.4h.01M1589.6 2570.1h.01M1612.3 2641.9h.01M1563.1 2587.1h.01M1619 2645.8h.01M1611.9 2600.2h.01M1624.8 2628.9h.01M1629.8 2603.1h.01M1624.6 2619.7h.01M1624.1 2654.4h.01M1611.2 2667h.01M1573.4 2558.6h.01M1586.6 2649.4h.01M1575.7 2580.3h.01M1576.7 2633.6h.01M1591.5 2596.7h.01M1590.4 2617.6h.01M1632.2 2640.2h.01M1596.1 2648h.01M1614.6 2631.1h.01M1577.8 2570.6h.01M1595.1 2614.4h.01M1624.2 2650.1h.01M1621.4 2590h.01M1593.7 2641.3h.01M1613.3 2580.4h.01M1639.4 2591.9h.01M1636.7 2550.8h.01M1588.3 2624.1h.01M1591.2 2589.8h.01M1599.8 2609h.01M1615.9 2550.9h.01M1607.6 2633.9h.01M1599 2657.6h.01M1631.8 2644.9h.01M1570.6 2566.2h.01M1566.3 2577.6h.01M1607.9 2644.1h.01M1594.3 2660.6h.01M1581 2549.8h.01M1590.1 2558.1h.01M1646.1 2563.2h.01M1628.8 2621.8h.01M1559.4 2568.6h.01M1568.9 2637h.01M1602.6 2650h.01M1599.3 2672.8h.01M1592 2568.6h.01M1559.6 2602.3h.01M1578.2 2559.9h.01M1574.6 2635.6h.01M1632 2634.4h.01M1580.7 2598.4h.01M1582 2629.9h.01M1578 2570.2h.01M1642.3 2569.5h.01M1589.7 2631.4h.01M1554.2 2613.9h.01M1586.3 2582.6h.01M1617.9 2632.3h.01M1624.4 2586.2h.01M1593.7 2606.7h.01M1570.3 2617.4h.01M1623.4 2626.2h.01M1551.5 2585.6h.01M1569.5 2583.7h.01M1634.5 2621.7h.01M1557.9 2604.3h.01M1561.4 2605h.01M1595.3 2658.5h.01M1583.4 2652.8h.01M1578.8 2566.1h.01M1565 2579.5h.01M1597.3 2655.2h.01M1563.6 2596.2h.01M1563.9 2572.9h.01M1637.2 2628.8h.01M1574.4 2573.1h.01M1596.9 2645.5h.01M1568.2 2613.7h.01M1623 2587.2h.01M1556.2 2594.7h.01M1595.1 2615.6h.01M1609.5 2607.3h.01M1595 2597.4h.01M1568.5 2601.9h.01M1568.2 2583.7h.01M1598.2 2592.2h.01M1617.2 2601.2h.01M1575.3 2637.8h.01M1584.8 2640.8h.01M1588.5 2554.7h.01M1602.5 2648h.01M1546.3 2570.7h.01M1556 2615.2h.01M1616.1 2580.3h.01M1577.5 2641.8h.01M1593.1 2630.1h.01M1607.3 2637.8h.01M1646.4 2599.5h.01M1587.5 2663.6h.01M1595.7 2605.9h.01M1579.7 2649.8h.01M1593.7 2621.1h.01M1592.9 2616.9h.01M1578.6 2653.6h.01M1616.3 2575.3h.01M1645.3 2592.2h.01M1597 2603.6h.01M1594.1 2574.5h.01M1562 2627.3h.01M1598 2583.3h.01M1631.7 2602.9h.01M1611 2617.4h.01M1607.6 2668.8h.01M1598.1 2578.7h.01M1613.2 2593.6h.01M1584 2592.3h.01M1627.9 2632.1h.01M1611.7 2652.8h.01M1623.4 2631.2h.01M1550.9 2588.3h.01M1600.4 2615.9h.01M1565.2 2623.7h.01M1592.1 2619.5h.01M1613.7 2564.9h.01M1566.5 2632.7h.01M1632.7 2572.1h.01M1631.4 2558.4h.01M1569 2566.6h.01M1560.8 2630.8h.01M1585.3 2593.1h.01M1608.9 2622.1h.01M1610 2614.8h.01M1569.6 2624.7h.01M1600.8 2641.9h.01M1580.3 2559.5h.01M1580.4 2576.4h.01M1592.7 2548.7h.01M1580.8 2577.3h.01M1559.7 2610.1h.01M1560.5 2595.6h.01M1598.2 2635.9h.01M1592.8 2622.6h.01M1561.4 2616.8h.01M1586.8 2633.7h.01M1560.7 2586h.01M1594.6 2613h.01M1578.1 2552.8h.01M1628.8 2643.9h.01M1641.4 2588h.01M1580.9 2631.7h.01M1595.5 2565.4h.01M1606.9 2674h.01M1573.8 2646.6h.01M1559.1 2563.9h.01M1583.7 2573.6h.01M1556.1 2606.4h.01M1628.3 2594.6h.01M1624 2568.1h.01M1601.4 2658.6h.01M1557.4 2628.4h.01M1594.9 2624.7h.01M1594 2581.6h.01M1557.7 2577.2h.01M1580.4 2625.2h.01M1559.1 2625.3h.01M1579.8 2594h.01M1594.4 2562.6h.01M1552.2 2603.8h.01M1600.5 2623.8h.01M1588.2 2634.4h.01M1573.6 2556.8h.01M1588.8 2575.2h.01M1592.7 2570.3h.01M1589.5 2604.2h.01M1565 2593h.01M1570.4 2615.1h.01M1628.9 2560.9h.01M1618.4 2643.9h.01M1573.8 2598.6h.01M1633.4 2631.9h.01M1577.3 2587.3h.01M1626.8 2580.8h.01M1573.3 2611.5h.01M1627.1 2552.2h.01M1589.1 2665.3h.01M1590.2 2631h.01M1618.3 2624.5h.01M1555.3 2571.4h.01M1620.9 2592h.01M1630.1 2599.4h.01M1612.9 2643.4h.01M1572.5 2617.7h.01M1597.6 2616.9h.01M1617.5 2615.6h.01M1635.6 2575.5h.01M1572.5 2570.6h.01M1593.2 2575.2h.01M1621.4 2575.5h.01M1553.7 2556.9h.01M1556.9 2596.7h.01M1591.9 2564.9h.01M1549.2 2602.3h.01M1568.9 2621.7h.01M1606.8 2663.2h.01M1547.6 2590h.01M1588 2574.9h.01M1599.5 2607.8h.01M1602.1 2659.1h.01M1566.6 2636.6h.01M1550.9 2553.1h.01M1584.6 2582.1h.01M1574.3 2575.3h.01M1591.5 2652.9h.01M1596.6 2617.3h.01M1616.8 2573.5h.01M1572 2643.2h.01M1642.3 2586.5h.01M1561.5 2628.4h.01M1562.7 2595.3h.01M1641.6 2618.6h.01M1554.5 2559.3h.01M1567.6 2564.5h.01M1613.5 2585.7h.01M1613.3 2656h.01M1590.5 2637.7h.01M1629.9 2582.2h.01M1565.7 2581.9h.01M1547 2592.3h.01M1615.6 2652.7h.01M1624.3 2624.1h.01M1593.7 2560.9h.01M1584.3 2602.7h.01M1563.8 2631.8h.01M1567.5 2582.8h.01M1569.4 2641.3h.01M1646.3 2587h.01M1622.7 2566.1h.01M1639.3 2591.1h.01M1597 2573.7h.01M1577.3 2654h.01M1552.6 2580.6h.01M1619.3 2587.1h.01M1567.2 2632h.01M1619.5 2572.9h.01M1554.3 2585.9h.01M1602.6 2658h.01M1592.7 2565.6h.01M1595.2 2645.1h.01M1578.9 2625.1h.01M1629.5 2575h.01M1621.7 2561.5h.01M1634.1 2605.8h.01M1567 2547.8h.01M1544.1 2562h.01M1570.7 2581.6h.01M1619.3 2613.3h.01M1607.6 2651h.01M1587.6 2575.6h.01M1596.9 2577.1h.01M1626.2 2589.8h.01M1561.9 2577.7h.01M1554.9 2567.5h.01M1550.3 2602.7h.01M1619.5 2629.5h.01M1597.7 2610.8h.01M1592.9 2601.2h.01M1630.9 2609.9h.01M1561.5 2625.7h.01M1596.7 2621.9h.01M1639.1 2623.3h.01M1633.6 2638.2h.01M1626.9 2641.3h.01M1586.7 2653.1h.01M1588.7 2661.4h.01M1609.6 2626.1h.01M1608 2662.8h.01M1612 2630.6h.01M1594 2584.5h.01M1580.7 2657.5h.01M1619.2 2591.5h.01M1583 2588.1h.01M1581.3 2574.4h.01M1623.1 2581.6h.01M1588.1 2565.8h.01M1590.9 2555.2h.01M1616.1 2556.9h.01M1561.8 2602.8h.01M1576.4 2612h.01M1613.7 2647.6h.01M1615.7 2559.8h.01M1614.9 2651.6h.01M1586.4 2646.1h.01M1571.2 2592.9h.01M1636.2 2639.9h.01M1607.6 2644.2h.01M1608 2657.2h.01M1573.8 2586.7h.01M1590.8 2551.6h.01M1581.3 2615.5h.01M1649 2590.9h.01M1619.1 2623.6h.01M1577.6 2547h.01M1577.2 2604.8h.01M1546 2556.3h.01M1643.2 2609.2h.01M1581.5 2636.1h.01M1584.9 2588.3h.01M1562.6 2628.9h.01M1594.8 2597.2h.01M1615.4 2615.1h.01M1576.5 2578.1h.01M1561.9 2629.3h.01M1592.1 2569.2h.01M1591.4 2610h.01M1619.1 2551.2h.01M1616.9 2639.9h.01M1566.2 2592.6h.01M1591.2 2663.4h.01M1598.3 2603.4h.01M1592.7 2595.3h.01M1588 2568.5h.01M1596.6 2604h.01M1625.9 2555.9h.01M1612.3 2622.4h.01M1638.4 2584.7h.01M1568.8 2599.3h.01M1614.2 2555.7h.01M1593.8 2599.2h.01M1606.3 2656.1h.01M1594.5 2575.1h.01M1626.4 2642.9h.01M1587.8 2609.3h.01M1634.8 2601.7h.01M1574.5 2635.4h.01M1558.3 2602.6h.01M1581.7 2627.8h.01M1546.9 2568.2h.01M1591.8 2599.4h.01M1595 2629.7h.01M1615.3 2575.2h.01M1613.3 2569h.01M1613.8 2646.5h.01M1582.8 2640.3h.01M1557.7 2571.4h.01M1553.9 2600.6h.01M1608.8 2614.7h.01M1556.8 2613.9h.01M1581 2631.4h.01M1600.4 2662.6h.01M1587.3 2636h.01M1590.5 2578.4h.01M1580.6 2597.9h.01M1548.8 2609h.01M1551.7 2604.4h.01M1612.9 2627.5h.01M1630.4 2619.9h.01M1640.7 2615.9h.01M1608.5 2621.7h.01M1554.5 2614.3h.01M1633.1 2584.3h.01M1614.3 2562.4h.01M1592.4 2560h.01M1597.8 2621.7h.01M1629.8 2587h.01M1594.6 2657.3h.01M1594.8 2569.7h.01M1633.6 2552h.01M1622.1 2592.6h.01M1602.6 2652h.01M1578.8 2637.2h.01M1620.9 2642.5h.01M1632.4 2613.5h.01M1585.9 2580h.01M1623.8 2577.3h.01M1571.7 2583.3h.01M1586.7 2651.8h.01M1573.3 2600.6h.01M1594.9 2614.4h.01M1584.3 2581.8h.01M1616.2 2551.4h.01M1551.1 2568.9h.01M1629.8 2567.1h.01M1586 2571h.01M1644.2 2614.7h.01M1563.4 2577.9h.01M1600.7 2614.1h.01M1575.4 2596h.01M1606.2 2669.6h.01M1595.8 2629.9h.01M1556.9 2574.1h.01M1554.1 2604.3h.01M1613.1 2662.2h.01M1640.3 2617.5h.01M1591.8 2659.4h.01M1642.3 2605.7h.01M1576.7 2577.2h.01M1596.8 2590.1h.01M1598.6 2592.3h.01M1594.2 2560.9h.01M1633.5 2603h.01M1610.8 2592.6h.01M1577.8 2574.2h.01M1599.1 2606.5h.01M1575.3 2628.1h.01M1576.6 2613.7h.01M1588.8 2576.9h.01M1592.9 2623.5h.01M1608.6 2667.1h.01M1587.4 2627.8h.01M1570.3 2622.4h.01M1594.4 2601.3h.01M1636.3 2600.9h.01M1609.1 2656.5h.01M1546.1 2563.6h.01M1611.8 2648.6h.01M1565 2643.8h.01M1580.1 2656.4h.01M1590.4 2629.3h.01M1589.8 2622.2h.01M1556 2555.8h.01M1616.8 2578.2h.01M1561.3 2573.1h.01M1556 2603.1h.01M1618.8 2547.1h.01M1628.1 2636h.01M1629.4 2572.2h.01M1629.1 2569h.01M1639.5 2559.2h.01M1612.9 2645.1h.01M1598.4 2591.1h.01M1567.8 2582.4h.01M1574.7 2609.2h.01M1617.3 2578.1h.01M1621.1 2628.9h.01M1646 2569h.01M1628.7 2590h.01M1626.5 2620.2h.01M1592.5 2557.3h.01M1606.5 2659h.01M1595 2595.5h.01M1630.2 2569.6h.01M1558.8 2583.6h.01M1594.4 2589.7h.01M1611.5 2587.8h.01M1548.5 2575.9h.01M1638.2 2627h.01M1549.3 2607h.01M1544.2 2554.2h.01M1569 2634.2h.01M1559.7 2598.5h.01M1581 2562.4h.01M1600.5 2623h.01M1640.5 2579h.01M1558.3 2595.5h.01M1560.1 2548.5h.01M1564.3 2556.4h.01M1602.8 2671.7h.01M1548.9 2606.1h.01M1581.8 2616.5h.01M1556.9 2547.1h.01M1615.4 2576.1h.01M1595.9 2606.5h.01M1565.1 2584h.01M1594.8 2627.1h.01M1598 2601.8h.01M1585.8 2600.5h.01M1630 2602h.01M1592 2592h.01M1643.4 2570.9h.01M1560.6 2562.4h.01M1557.6 2621.3h.01M1589.9 2621.2h.01M1556.9 2566.7h.01M1555.3 2563h.01M1576.6 2603.6h.01M1620 2649.9h.01M1632.8 2633.1h.01M1588.4 2653.6h.01M1574.5 2564h.01M1554.8 2585.7h.01M1585 2630.2h.01M1581.6 2653.9h.01M1570.3 2631.4h.01M1614.9 2636.1h.01M1561.4 2547.3h.01M1643.6 2595.8h.01M1572.4 2583.2h.01M1614.8 2626.9h.01M1601.8 2661.3h.01M1548.6 2602.7h.01M1626.4 2629.8h.01M1618.9 2619.4h.01M1553.9 2567.8h.01M1561.8 2580.6h.01M1620.7 2656.7h.01M1647.3 2602.1h.01M1569.2 2547.1h.01M1559.8 2552h.01M1583.7 2594h.01M1590 2591.5h.01M1617.3 2645.9h.01M1622.7 2581.1h.01M1570.5 2591.4h.01M1557.8 2607.7h.01M1633.5 2547.4h.01M1640.4 2598.5h.01M1581.6 2575.8h.01M1651.2 2563.9h.01M1615.1 2579.8h.01M1580 2653.9h.01M1621.5 2633h.01M1637.5 2626.2h.01M1632.6 2620.3h.01M1581.5 2600.4h.01M1610.5 2639.7h.01M1630.1 2558.5h.01M1596.9 2590.9h.01M1609.4 2658.5h.01M1625.1 2609.2h.01M1612.6 2638.9h.01M1625.2 2643.4h.01M1573 2608.7h.01M1602.2 2654.9h.01M1553.2 2614.5h.01M1576.7 2619.7h.01M1573.5 2560.1h.01M1584.1 2648.5h.01M1571.3 2560.2h.01M1629.8 2573h.01M1606.3 2649.5h.01M1633.4 2566.9h.01M1594.8 2664.3h.01M1547.4 2579.1h.01M1596.1 2555.5h.01M1577.8 2575.8h.01M1627.1 2630.8h.01M1632.4 2555h.01M1579.4 2596.8h.01M1609.2 2629.4h.01M1574.9 2585.9h.01M1569.5 2633.5h.01M1565.4 2597.6h.01M1593.8 2651.5h.01M1558.7 2563.1h.01M1596.6 2604.6h.01M1549.2 2605.2h.01M1558.9 2626.9h.01M1575.7 2576.4h.01M1594.4 2637.4h.01M1587 2635.5h.01M1590.2 2568.9h.01M1613 2579.8h.01M1555.8 2584.2h.01M1597.4 2629.8h.01M1586.3 2600.1h.01M1624.5 2610.8h.01M1570.6 2603.7h.01M1612.8 2593.4h.01M1554 2585.2h.01M1572.7 2639.4h.01M1645.4 2573.3h.01M1576.1 2562.4h.01M1619.2 2601.1h.01M1623.9 2585.1h.01M1576.3 2616.5h.01M1599.1 2597.1h.01M1630.1 2551.2h.01M1631.4 2608.9h.01M1555.4 2609.1h.01M1571.8 2651h.01M1567.9 2602.4h.01M1595.2 2639.6h.01M1582 2646.8h.01M1557.6 2592.2h.01M1574.5 2563.7h.01M1556.7 2569.7h.01M1593.9 2646.8h.01M1580.3 2611.6h.01M1589 2613.7h.01M1597.9 2592h.01M1607.2 2655.4h.01M1627.5 2615.7h.01M1614.5 2638h.01M1582 2610.1h.01M1554.5 2613.4h.01M1588 2613.2h.01M1614.3 2582.1h.01M1648.4 2556.6h.01M1628.6 2602.5h.01M1557.7 2582h.01M1634.1 2616.3h.01M1565 2619.4h.01M1569.5 2595.1h.01M1599.7 2664h.01M1627.7 2640.1h.01M1623 2631.1h.01M1594.6 2596.2h.01M1651.8 2563.6h.01M1565.2 2581.7h.01M1637.7 2556.3h.01M1648.3 2584.5h.01M1548.9 2580.2h.01M1606.7 2642.6h.01M1590.5 2601.5h.01M1618 2574.8h.01M1589.4 2649h.01M1587.8 2636.2h.01M1565.6 2646.9h.01M1573.3 2633.5h.01M1577.3 2566h.01M1597.1 2587.6h.01M1569 2586.6h.01M1575.9 2547.4h.01M1544.5 2550.1h.01M1591.8 2548.3h.01M1592.1 2546.3h.01M1561.9 2602.6h.01M1559.6 2563.1h.01M1641.1 2547.3h.01M1609.9 2608.6h.01M1587.2 2591.9h.01M1576 2604.7h.01M1613.2 2550.4h.01M1643 2597.8h.01M1597.6 2580.8h.01M1600.3 2610.7h.01M1584.2 2605h.01M1629.7 2594.5h.01M1588.2 2550.2h.01M1633.2 2639.7h.01M1598.4 2584.9h.01M1607.1 2640.5h.01M1610.2 2658h.01M1564.6 2611.7h.01M1640.4 2560.4h.01M1557.5 2629.9h.01M1597 2597.6h.01M1602.3 2641.4h.01M1620.6 2626.9h.01M1593.3 2577.7h.01M1598 2608.7h.01M1643.9 2578.8h.01M1608.8 2668.8h.01M1580.4 2562.2h.01M1621.9 2584.1h.01M1616.7 2618.2h.01M1588.8 2567.6h.01M1627.5 2553.2h.01M1617.4 2557.1h.01M1590.5 2644.2h.01M1578.7 2630h.01M1634 2643.2h.01M1554.4 2601.2h.01M1587.2 2605.6h.01M1545.1 2571h.01M1558.3 2550.5h.01M1586.6 2654.8h.01M1552.9 2588.2h.01M1613.1 2553.7h.01M1595.5 2626.4h.01M1601.5 2642.8h.01M1649 2554h.01M1638.3 2599.3h.01M1545.2 2550.6h.01M1550.5 2607.1h.01M1633 2609.2h.01M1548.7 2599.1h.01M1609.4 2673.1h.01M1580.4 2607.4h.01M1643.7 2566.3h.01M1587.8 2615.2h.01M1596 2580h.01M1629 2643.2h.01M1627.8 2601.7h.01M1646.5 2557.2h.01M1558.6 2620.5h.01M1613.9 2637.6h.01M1585.6 2617.6h.01M1563.8 2610.6h.01M1612 2633.6h.01M1574.1 2563h.01M1597.7 2620.1h.01M1595.5 2605.7h.01M1615.4 2608.7h.01M1648 2558.8h.01M1646.2 2597h.01M1567.8 2559.3h.01M1614.8 2631.8h.01M1566 2608.7h.01M1627 2651.8h.01M1651.4 2567.4h.01M1608 2643.4h.01M1593.8 2649.3h.01M1574.4 2572.3h.01M1613.4 2669.3h.01M1591.1 2629.6h.01M1620 2645.4h.01M1623.6 2563.4h.01M1606.4 2653.2h.01M1620.3 2570.4h.01M1591.3 2574.6h.01M1597.5 2650.1h.01M1550.2 2586.7h.01M1570.6 2577.3h.01M1590.5 2615.6h.01M1569.6 2553.8h.01M1608.7 2657h.01M1616.3 2579.9h.01M1546.9 2552.3h.01M1592.4 2640.4h.01M1601.7 2668.7h.01M1614.1 2573.8h.01M1564.5 2641.8h.01M1612.6 2591.3h.01M1634.6 2617.1h.01M1608 2649.6h.01M1599.8 2658.4h.01M1544.2 2581.3h.01M1601.4 2635.5h.01M1601.8 2659.7h.01M1614.9 2580h.01M1554.1 2609.3h.01M1554.8 2559.8h.01M1628.1 2576.8h.01M1629 2651.5h.01M1578.1 2558.7h.01M1558.6 2626.9h.01M1643.5 2575.9h.01M1594.4 2593.8h.01M1589.1 2617.2h.01M1626.6 2629.8h.01M1591.1 2610.6h.01M1552.9 2565.9h.01M1612.4 2577.8h.01M1593.2 2566.5h.01M1622 2580.3h.01M1628.6 2593.3h.01M1570.5 2565.1h.01M1562.6 2641.7h.01M1578.3 2546.8h.01M1566.1 2597.5h.01M1635.5 2556.9h.01M1583 2547.3h.01M1613.3 2555.9h.01M1620.7 2568.2h.01M1559 2601.7h.01M1575.6 2547.3h.01M1564.8 2548.8h.01M1617.8 2568.2h.01M1647.4 2604.4h.01M1592 2608.1h.01M1585.2 2590.7h.01M1637 2571.4h.01M1552.9 2578.9h.01M1594.9 2574.4h.01M1590.6 2631.3h.01M1624 2561.5h.01M1617.6 2564.4h.01M1613.4 2573.2h.01M1609.1 2641.4h.01M1586.6 2599.2h.01M1638.7 2603.9h.01M1577.3 2556.2h.01M1596.9 2653.6h.01M1600.8 2669.2h.01M1583 2558.1h.01M1593.7 2606.1h.01M1595.9 2618.8h.01M1642 2565.3h.01M1624 2581.7h.01M1585.7 2601.6h.01M1586.1 2607.4h.01M1602.5 2646.3h.01M1631.8 2596.6h.01M1589 2563.3h.01M1582.9 2619.3h.01M1592.3 2647.8h.01M1589.9 2593.9h.01M1634.3 2613.3h.01M1608 2637.3h.01M1593.6 2640.2h.01M1590.8 2641.2h.01M1615.6 2629.6h.01M1598.7 2600.3h.01M1594.7 2576.8h.01M1583.4 2596.7h.01M1613 2595.2h.01M1587.6 2630.3h.01M1551.5 2560.4h.01M1565.6 2635.9h.01M1627.2 2599.8h.01M1620.6 2608.7h.01M1621.7 2561.7h.01M1613.5 2645.7h.01M1623 2563.2h.01M1591.5 2549.4h.01M1638.1 2552.6h.01M1599.7 2618h.01M1621.2 2657.8h.01M1598.7 2659.9h.01M1557.6 2578.8h.01M1575.3 2596h.01M1597.4 2647.9h.01M1597.4 2606.2h.01M1621.4 2592.5h.01M1646 2573.1h.01M1578 2647.1h.01M1560.4 2571.4h.01M1630.6 2548.2h.01M1629.1 2554.8h.01M1597.9 2670.5h.01M1588.6 2574.5h.01M1600.1 2644.2h.01M1599 2668.7h.01M1597.1 2595.9h.01M1566.2 2615h.01M1559.8 2624.8h.01M1589.5 2594h.01M1558.4 2581.3h.01M1582.8 2578.1h.01M1602.8 2644.5h.01M1614 2667.8h.01M1622.6 2561.2h.01M1619.4 2568.7h.01M1595.3 2663.9h.01M1618.7 2629.2h.01M1548.8 2603.2h.01M1611 2632.5h.01M1591.6 2561.2h.01M1586.2 2609.6h.01M1600.7 2632.9h.01M1576.6 2614.6h.01M1642.9 2557.6h.01M1619.8 2547.1h.01M1570.5 2581.5h.01M1589.4 2556.4h.01M1647.7 2559.8h.01M1613.9 2665.8h.01M1567.6 2588.7h.01M1588.7 2554.8h.01M1569.3 2577.2h.01M1645.5 2587.6h.01M1594.1 2661.1h.01M1613.8 2605h.01M1623.4 2589.4h.01M1624.9 2595.9h.01M1578.2 2560.6h.01M1644.2 2573.7h.01M1594.9 2618.4h.01M1609.2 2609.7h.01M1556.8 2567.8h.01M1594.1 2662.4h.01M1625.6 2593.9h.01M1634.3 2620.5h.01M1589.6 2639.6h.01M1566.7 2585h.01M1588.2 2618.9h.01M1553.1 2618.4h.01M1625.4 2646.7h.01M1592.2 2570.8h.01M1590.5 2635.5h.01M1606.9 2657.5h.01M1623.9 2598.7h.01M1596.6 2656.2h.01M1547.6 2585.6h.01M1590.5 2596h.01M1595.4 2575.2h.01M1599 2628.4h.01M1585.3 2658.8h.01M1621.6 2610.7h.01M1590.8 2578.4h.01M1580.2 2564.9h.01M1646.4 2602.5h.01M1572.9 2549.3h.01M1559 2579.8h.01M1582.8 2550.9h.01M1619.1 2630.7h.01M1590.7 2660.6h.01M1602.7 2650.9h.01M1606.6 2667.7h.01M1620.1 2621.7h.01M1593.9 2593.4h.01M1556.5 2620h.01M1595.7 2588.6h.01M1554 2622.9h.01M1573.6 2560.4h.01M1638.6 2600h.01M1635.9 2616.6h.01M1586.6 2575h.01M1581 2547.1h.01M1634.2 2588.6h.01M1589.4 2613.6h.01M1579.5 2607.5h.01M1558.2 2558.7h.01M1589.5 2555.2h.01M1572.5 2558.4h.01M1571.9 2629.5h.01M1569 2607.4h.01M1576.5 2611.3h.01M1601.9 2647.4h.01M1624.1 2613.4h.01M1569.4 2587.6h.01M1625.7 2622.7h.01M1630.6 2622.7h.01M1561 2567.5h.01M1619.3 2597.2h.01M1559.3 2595.9h.01M1565.9 2572.7h.01M1551.4 2565.4h.01M1563.6 2572.8h.01M1599.3 2608.9h.01M1560 2620.1h.01M1626.4 2599.7h.01M1571.2 2549.8h.01M1552.6 2624.8h.01M1582.6 2581.7h.01M1597 2618.7h.01M1590.1 2621.1h.01M1570.7 2564h.01M1555.1 2631.6h.01M1620.3 2582h.01M1597.1 2626.6h.01M1613.8 2615h.01M1641.5 2555.6h.01M1557.2 2579.2h.01M1631.5 2615.7h.01M1589.3 2579.1h.01M1610 2600.4h.01M1611.1 2611.5h.01M1617.3 2608.3h.01M1591.1 2620.9h.01M1581.9 2568.5h.01M1629 2568.2h.01M1614.5 2603.8h.01M1627.8 2590.4h.01M1606.9 2667.8h.01M1623.1 2553.4h.01M1608.9 2653.6h.01M1591.1 2626.9h.01M1597.8 2592.7h.01M1585.9 2621.5h.01M1560.3 2638.9h.01M1550.2 2555.2h.01M1641.2 2576.7h.01M1569 2576h.01M1621.4 2653.3h.01M1640.3 2548.8h.01M1593 2656.6h.01M1552.2 2618.3h.01M1600.1 2622.6h.01M1595.5 2588.1h.01M1562.3 2593.3h.01M1646.5 2556.4h.01M1576.8 2563.6h.01M1581 2628.6h.01M1592.1 2624.1h.01M1621.7 2619h.01M1581.5 2632.1h.01M1631 2592.4h.01M1558.5 2550h.01M1581.3 2592.6h.01M1585.4 2649h.01M1638.4 2573.9h.01M1592.2 2608.2h.01M1594.9 2547.8h.01M1592.6 2656.9h.01M1579.6 2592.4h.01M1579 2548.4h.01M1629.9 2588.4h.01M1577.8 2647.8h.01M1628.7 2642.8h.01M1568.7 2561.7h.01M1642.6 2576.5h.01M1594.3 2555.5h.01M1622.9 2551.6h.01M1609.4 2656.1h.01M1547.3 2568.3h.01M1623 2658.3h.01M1628.7 2585.6h.01M1557.8 2592.1h.01M1579.8 2616.5h.01M1585.3 2610.9h.01M1590.5 2604.7h.01M1610.1 2594.2h.01M1566.3 2636.4h.01M1627.1 2573.9h.01M1561 2616.9h.01M1589.4 2605h.01M1613.8 2587.2h.01M1592 2655.6h.01M1627.2 2578.3h.01M1563.2 2586.8h.01M1585.6 2574h.01M1573.2 2623.9h.01M1599.6 2635.4h.01M1642.7 2552.8h.01M1583.2 2605.7h.01M1639.8 2547.7h.01M1610.9 2654.3h.01M1613.8 2669.3h.01M1546.7 2604.7h.01M1593.3 2561h.01M1637.7 2590h.01M1628.8 2602.4h.01M1639.6 2609.6h.01M1598.5 2601h.01M1572.2 2619.1h.01M1572.1 2576.1h.01M1565.2 2591.7h.01M1637.4 2635.7h.01M1613.7 2658.4h.01M1636.8 2572.4h.01M1572.2 2555.5h.01M1573.2 2646.2h.01M1602.8 2660.3h.01M1626.8 2579.7h.01M1600.5 2648.9h.01M1615.2 2643.5h.01M1615.8 2599.6h.01M1619.7 2568.4h.01M1588.6 2588.8h.01M1571.5 2594.7h.01M1618.5 2648.9h.01M1550.9 2547.8h.01M1557.4 2630.9h.01M1577.1 2548.2h.01M1592.5 2554.2h.01M1578.5 2588.5h.01M1557.2 2559.2h.01M1571.1 2588.6h.01M1616.2 2593.9h.01M1597.1 2653.1h.01M1579.6 2551.5h.01M1610.3 2666.6h.01M1559.1 2599.4h.01M1587.3 2578.5h.01M1614.5 2643.4h.01M1612.5 2597.3h.01M1555.6 2628.9h.01M1616.7 2635.1h.01M1590.5 2607.5h.01M1544 2564h.01M1636.6 2568.3h.01M1628.4 2635.5h.01M1618.9 2556.8h.01M1590.5 2597.1h.01M1564.8 2548.1h.01M1627.5 2625.2h.01M1570.3 2572.4h.01M1589.3 2634.7h.01M1590.8 2591.7h.01M1612.1 2567h.01M1625.6 2627.6h.01M1626.1 2612.6h.01M1596.5 2593.3h.01M1580 2554.8h.01M1617.9 2600.8h.01M1612.6 2571h.01M1586.3 2635.6h.01M1631.1 2591.4h.01M1566.5 2558h.01M1615.7 2618.9h.01M1577.1 2609.5h.01M1596.6 2624.2h.01M1564.6 2635.6h.01M1612.2 2606.6h.01M1644.3 2615.1h.01M1614.2 2590.4h.01M1549.7 2552.3h.01M1616.5 2592.1h.01M1602.2 2656.7h.01M1613.5 2637.9h.01M1597.2 2664.4h.01M1629.4 2569.4h.01M1631.6 2562.9h.01M1643.7 2602.9h.01M1613.7 2575.7h.01M1570 2611h.01M1563 2642h.01M1572.1 2589.7h.01M1597.8 2639h.01M1583.9 2630.2h.01M1640.2 2618.2h.01M1572 2642h.01M1621.4 2653.1h.01M1567.7 2619.5h.01M1611.1 2661.9h.01M1596.1 2565.3h.01M1583.5 2599.2h.01M1587.7 2607.1h.01M1575 2591.7h.01M1595.9 2571.3h.01M1574.8 2554h.01M1562.3 2591.8h.01M1628.1 2606.2h.01M1629.1 2596.4h.01M1600.5 2662.1h.01M1592.7 2593.1h.01M1589.9 2561.5h.01M1617.6 2561.7h.01M1555.3 2557h.01M1593.1 2627.4h.01M1549.5 2551.2h.01M1633.8 2611.7h.01M1584.8 2603.7h.01M1618.1 2567.2h.01M1592.2 2575.4h.01M1563.1 2591.3h.01M1588.6 2565.7h.01M1580.3 2589.7h.01M1562.4 2639.8h.01M1556.3 2593.1h.01M1607.7 2642.2h.01M1614.5 2599.8h.01M1556.9 2581.1h.01M1575 2649.8h.01M1544.4 2581.9h.01M1585.6 2581.8h.01M1630.7 2568.9h.01M1626.6 2581.1h.01M1578.1 2606.8h.01M1592.2 2546.5h.01M1549.7 2578h.01M1579.3 2613.9h.01M1566.1 2566.7h.01M1610 2617.7h.01M1543.8 2581.3h.01M1622.7 2590.4h.01M1597.3 2568.2h.01M1553.5 2552.7h.01M1645.1 2569h.01M1617.7 2595.7h.01M1590.7 2563.5h.01M1596.8 2646h.01M1549.4 2559.7h.01M1594.6 2581.2h.01M1575.5 2637.1h.01M1545.5 2563.6h.01M1579.9 2587.5h.01M1563 2562.4h.01M1587.5 2653.1h.01M1579.9 2546.9h.01M1573.5 2650.9h.01M1577.3 2609h.01M1600.9 2641.3h.01M1557.5 2615h.01M1619.9 2626.6h.01M1581.1 2554.7h.01M1592.6 2548.3h.01M1595.3 2571.7h.01M1591.2 2645.1h.01M1629.8 2588.6h.01M1620.3 2641.3h.01M1606.1 2654.5h.01M1585 2609.1h.01M1592.7 2558h.01M1631.5 2601.9h.01M1609.8 2628h.01M1597.2 2604.5h.01M1615.4 2583.3h.01M1626.4 2621.4h.01M1581.4 2577.5h.01M1632.9 2630.5h.01M1590.8 2591.5h.01M1649.1 2565.5h.01M1599 2613.9h.01M1648.9 2546.7h.01M1634.5 2585.6h.01M1613.1 2608.4h.01M1633.6 2557.8h.01M1593.8 2600.7h.01M1617.5 2569.9h.01M1649.9 2556.1h.01M1580.2 2570.3h.01M1598.3 2669.8h.01M1592.7 2588.8h.01M1593.8 2613.9h.01M1560.2 2627.8h.01M1585.7 2623.6h.01M1643.5 2610.6h.01M1648.1 2560.9h.01M1579.1 2626.5h.01M1564.1 2583.6h.01M1648.2 2549.7h.01M1616.5 2572.4h.01M1612 2605.6h.01M1607.1 2629.9h.01M1574.2 2567h.01M1562.4 2625.8h.01M1570.3 2585h.01M1588.6 2621.2h.01M1559.1 2552.7h.01M1599 2600.4h.01M1609.5 2603.9h.01M1594.6 2618h.01M1650.6 2578.8h.01M1622.3 2615.4h.01M1565.1 2590.8h.01M1638.9 2631.3h.01M1597.6 2651.7h.01M1564.1 2638.3h.01M1592.6 2637.8h.01M1609.8 2600.9h.01M1645 2608.1h.01M1587.2 2602h.01M1643.3 2574.2h.01M1624.6 2621.3h.01M1594.3 2586.3h.01M1563.4 2611.1h.01M1568.2 2560.9h.01M1548.4 2607.2h.01M1645 2575.4h.01M1594.7 2556.4h.01M1591.4 2605.8h.01M1622 2566.1h.01M1633.6 2612h.01M1597.4 2628.5h.01M1629 2636.7h.01M1599.7 2640.9h.01M1618.4 2550.8h.01M1560.3 2597.2h.01M1588.3 2580.1h.01M1571.8 2613.7h.01M1609.9 2655.4h.01M1562.8 2560.5h.01M1617.6 2613.7h.01M1620 2566.3h.01M1579.3 2570.8h.01M1555.1 2630.5h.01M1600.5 2611.2h.01M1597.7 2637.2h.01M1595.9 2593.1h.01M1595.9 2552.6h.01M1641.4 2605.9h.01M1563.9 2617.3h.01M1619.2 2597.9h.01M1619.5 2592.3h.01M1621.3 2596.6h.01M1623 2659h.01M1635.3 2554.1h.01M1582.6 2562.6h.01M1575 2573.3h.01M1548 2547.8h.01M1625.3 2566h.01M1585.5 2588.7h.01M1567.7 2607.2h.01M1598.8 2607.2h.01M1600.1 2616.4h.01M1566.5 2575.3h.01M1572.1 2599h.01M1595 2584h.01M1600.7 2626.4h.01M1582.6 2590.4h.01M1607.7 2624.3h.01M1594.6 2559.8h.01M1578.7 2613.3h.01M1630.1 2600.1h.01M1571.1 2553.9h.01M1579.4 2585.3h.01M1569 2583.3h.01M1585 2604.5h.01M1578.2 2649h.01M1587.9 2652.8h.01M1615.7 2654.9h.01M1634.7 2614.6h.01M1590.7 2636.9h.01M1589.2 2631.1h.01M1556.9 2593.4h.01M1579.7 2631.2h.01M1598 2595.2h.01M1586.2 2565.7h.01M1632.7 2594.9h.01M1631 2642.9h.01M1562.6 2572.9h.01M1593.3 2636.1h.01M1593.8 2652.7h.01M1613.9 2550.5h.01M1587 2596.7h.01M1600.4 2616.4h.01M1554.9 2602.7h.01M1598.3 2645h.01M1649.2 2577h.01M1647.3 2563.6h.01M1591.8 2667.7h.01M1615.1 2556.9h.01M1553.3 2626.2h.01M1601.2 2661.9h.01M1647.2 2585.3h.01M1632.2 2597.3h.01M1593.5 2562.7h.01M1600.1 2627.2h.01M1592.4 2589.5h.01M1597 2625.8h.01M1612.4 2638h.01M1634.7 2589.6h.01M1559.5 2590.8h.01M1638.8 2600.8h.01M1594 2618.8h.01M1610.2 2647.4h.01M1648.2 2591.3h.01M1589.1 2631.5h.01M1616.1 2628.4h.01M1580.3 2585.8h.01M1573.9 2619.4h.01M1598.3 2618.1h.01M1638.9 2634.5h.01M1557.9 2636.6h.01M1591.8 2641.1h.01M1612.2 2653.2h.01M1561.1 2577.5h.01M1645.5 2582.7h.01M1583.5 2550h.01M1588.8 2589.8h.01M1627.9 2553.7h.01M1564.5 2579.4h.01M1611.9 2614.6h.01M1646.8 2594h.01M1635.8 2568.6h.01M1562.8 2588.1h.01M1632.9 2631.9h.01M1592 2592.6h.01M1560.7 2566.7h.01M1620.3 2570.4h.01M1569.8 2567.9h.01M1619.6 2607.5h.01M1582.8 2604.3h.01M1595.3 2559.3h.01M1592.9 2546.8h.01M1627.4 2630.1h.01M1621.6 2595.4h.01M1615.1 2660.7h.01M1648.5 2568h.01M1620.4 2562.6h.01M1544.4 2573.6h.01M1553.5 2592h.01M1598.5 2618.3h.01M1632.3 2601.6h.01M1601.2 2653.3h.01M1624.5 2560.9h.01M1596.4 2604.6h.01M1570.7 2601.1h.01M1601 2642.1h.01M1579.9 2622.2h.01M1631.8 2641.1h.01M1567.7 2571h.01M1589.9 2654.8h.01M1622.5 2592.3h.01M1591.5 2624.8h.01M1577.6 2596.8h.01M1591.7 2637.9h.01M1592.6 2659.9h.01M1614 2584.7h.01M1588.8 2626.5h.01M1598.4 2615.2h.01M1571.1 2607.8h.01M1595 2657.3h.01M1620.9 2589.1h.01M1580.7 2585.9h.01M1551.6 2584.3h.01M1568.3 2615.1h.01M1567.3 2638.8h.01M1573.3 2631.2h.01M1582 2587.1h.01M1564 2580.5h.01M1592.4 2583.2h.01M1620.9 2601.8h.01M1571.9 2635.3h.01M1584.8 2554.8h.01M1623.6 2615.2h.01M1591.5 2641.8h.01M1610.1 2639h.01M1591.8 2648.7h.01M1580.5 2571.5h.01M1555.8 2546.6h.01M1617.1 2660.4h.01M1608.5 2625.1h.01M1627.4 2576.5h.01M1622.7 2628.3h.01M1580 2568.7h.01M1565.2 2622h.01M1600.5 2627.8h.01M1618.6 2612.3h.01M1597.5 2596.6h.01M1627.8 2554.8h.01M1548.2 2582.5h.01M1570 2558.9h.01M1595.6 2550h.01M1615.8 2561.8h.01M1624.2 2563.5h.01M1560.1 2612h.01M1576.3 2615.1h.01M1611.2 2588h.01M1588.7 2584.2h.01M1549.5 2575.7h.01M1589.2 2639.7h.01M1585.6 2623.1h.01M1598.9 2638.2h.01M1637.2 2609.2h.01M1650.6 2579.1h.01M1552.9 2581.1h.01M1615.3 2596.9h.01M1599.8 2621.4h.01M1576 2573.3h.01M1546.3 2549.4h.01M1632.3 2589.2h.01M1560.8 2633.4h.01M1574.6 2553h.01M1569.8 2620h.01M1628.2 2641.5h.01M1600 2665.4h.01M1621.6 2557.4h.01M1583.3 2608.2h.01M1644.4 2574.5h.01M1559.1 2605.4h.01M1583.7 2645.9h.01M1598.7 2625.8h.01M1553.5 2623.7h.01M1588.1 2566h.01M1578.2 2657.9h.01M1596.1 2588.3h.01M1589.4 2570h.01M1588 2573.4h.01M1623.4 2557.3h.01M1623.1 2596.9h.01M1588.2 2608.2h.01M1567.3 2591h.01M1613.1 2594.1h.01M1581.3 2573.1h.01M1619.2 2609.4h.01M1619.9 2559.8h.01M1546.9 2579.1h.01M1609.4 2650.7h.01M1615 2663.1h.01M1597 2571.9h.01M1572 2598.5h.01M1630.7 2605.4h.01M1647.7 2571.1h.01M1618.2 2585h.01M1620.3 2637h.01M1583 2652.4h.01M1597.9 2601.5h.01M1589.2 2592.4h.01M1589 2664.7h.01M1602.6 2648.5h.01M1646 2571.7h.01M1557.7 2627.8h.01M1581.3 2546.6h.01M1544.8 2578.8h.01M1613.7 2596.9h.01M1599.9 2614.8h.01M1579.9 2630.2h.01M1588 2631.8h.01M1568 2573.9h.01M1552.8 2609.1h.01M1557.5 2632.3h.01M1547.9 2611.7h.01M1619.3 2553.8h.01M1580.3 2554.5h.01M1613.6 2628.2h.01M1588.2 2628.3h.01M1545.6 2562.2h.01M1548.4 2557.5h.01M1568.2 2575.5h.01M1623.5 2546.5h.01M1576.9 2586.5h.01M1627.4 2582.8h.01M1621.9 2588.5h.01M1574.1 2611.9h.01M1576.6 2563.5h.01M1606.6 2646.2h.01M1558.7 2604.5h.01M1550.1 2607.9h.01M1601.4 2649.6h.01M1562.3 2596h.01M1575.1 2603.4h.01M1561.8 2601.7h.01M1545 2568.6h.01M1589.4 2603.4h.01M1625.3 2574h.01M1612.7 2659h.01M1581.6 2611h.01M1588.6 2622.6h.01M1596.6 2664.1h.01M1595.2 2608.4h.01M1639.9 2556.1h.01M1593.9 2567.8h.01M1637.3 2623.3h.01M1595.7 2621.9h.01M1632.3 2558h.01M1564.7 2572.9h.01M1589.8 2595.9h.01M1599 2644.6h.01M1555.3 2561.6h.01M1612.1 2666.6h.01M1648.9 2578.8h.01M1573.9 2570.3h.01M1622.1 2604.4h.01M1625.5 2652.2h.01M1583.3 2599.6h.01M1599.8 2659.6h.01M1630.6 2600.8h.01M1652 2553.7h.01M1587.3 2566.7h.01M1596.7 2597.7h.01M1560.6 2577.6h.01M1613.8 2597.4h.01M1623.1 2649.6h.01M1635.8 2619.5h.01M1580.8 2567.7h.01M1573 2632.8h.01M1553.1 2587.3h.01M1586.9 2642.2h.01M1597.1 2636.6h.01M1640.8 2590.7h.01M1615 2655h.01M1581.1 2586.1h.01M1627.2 2624.7h.01M1623.6 2627.2h.01M1559.2 2636.7h.01M1595.7 2619h.01M1594.4 2556.2h.01M1601.9 2673.4h.01M1633.8 2621.5h.01M1579.9 2659h.01M1607 2654.6h.01M1621.4 2555.6h.01M1589.8 2570.8h.01M1572.3 2622.9h.01M1581.4 2579.6h.01M1569.2 2567.2h.01M1594.1 2670.5h.01M1617.9 2582.2h.01M1593.8 2586.4h.01M1601.8 2655.7h.01M1591.7 2643.7h.01M1653.2 2549.4h.01M1614.7 2557.2h.01M1623.2 2576.5h.01M1559.6 2598.3h.01M1612.9 2598h.01M1598.2 2603.6h.01M1557.9 2577.6h.01M1587.8 2627.3h.01M1585.1 2640.5h.01M1562.1 2637.3h.01M1554 2592.4h.01M1611.5 2595.8h.01M1580.2 2650.7h.01M1584.9 2628.5h.01M1616.1 2576.9h.01M1619.7 2652.9h.01M1600.2 2648.3h.01M1588.4 2591.8h.01M1581.5 2604.9h.01M1614.5 2664.6h.01M1588.8 2648.3h.01M1585.1 2603.7h.01M1614.4 2658.8h.01M1594.9 2560.9h.01M1600 2642.9h.01M1550.6 2567.4h.01M1597.4 2628.9h.01M1599.6 2600.2h.01M1582.8 2556.8h.01M1569.7 2560.4h.01M1596.5 2569.2h.01M1593.4 2630.3h.01M1621.4 2550.5h.01M1568.7 2626h.01M1562.4 2607.1h.01M1584.6 2620h.01M1588.3 2588.6h.01M1574.5 2591.4h.01M1552.5 2549.1h.01M1593.3 2567.3h.01M1593.1 2572.5h.01M1559.2 2610.4h.01M1632.3 2557.7h.01M1634.2 2550.3h.01M1590.8 2614.9h.01M1578.4 2644.7h.01M1578.5 2579.9h.01M1616.8 2592.2h.01M1593.7 2663.3h.01M1621.4 2582.2h.01M1567.9 2618.1h.01M1558.8 2560.5h.01M1649.1 2590.6h.01M1573.6 2628.6h.01M1566.9 2602.3h.01M1567.8 2639.1h.01M1621.6 2639.4h.01M1623.4 2577.1h.01M1586.7 2655.8h.01M1598.3 2659h.01M1618.8 2586h.01M1621 2613.6h.01M1562.7 2573.6h.01M1564 2600.1h.01M1610.2 2647.2h.01M1602.2 2650.7h.01M1568.4 2573h.01M1591.2 2599.6h.01M1612 2596h.01M1641.7 2604.7h.01M1591.6 2600.9h.01M1613.1 2565.3h.01M1551.1 2593.2h.01M1589.9 2581.8h.01M1585.6 2578.5h.01M1581.2 2585.5h.01M1614.1 2578.5h.01M1626.1 2641.8h.01M1643.1 2584.2h.01M1618 2564.8h.01M1556.9 2579.2h.01M1585.1 2583.1h.01M1556 2550.2h.01M1555.1 2630h.01M1562.8 2586.5h.01M1558.9 2619.3h.01M1600.4 2642.7h.01M1559.1 2572.3h.01M1653.4 2547.2h.01M1645.5 2568h.01M1567.4 2583.2h.01M1632.1 2558.2h.01M1628.2 2622.1h.01M1598.2 2662.7h.01M1558.8 2614.5h.01M1591.8 2661.5h.01M1557.4 2575.8h.01M1580.6 2549.6h.01M1580 2613.6h.01M1596.6 2634.1h.01M1558.9 2631.2h.01M1566 2558.4h.01M1597 2595.4h.01M1596.9 2608.8h.01M1596 2554.7h.01M1601.7 2655.8h.01M1617.6 2547.5h.01M1620.7 2634.5h.01M1550 2571.3h.01M1625.2 2566.2h.01M1593.5 2601.7h.01M1617.1 2641.9h.01M1627.7 2596.9h.01M1595.1 2573.3h.01M1602.8 2643h.01M1588.9 2558.5h.01M1618.7 2640.4h.01M1563.2 2561.2h.01M1580.7 2553.2h.01M1575.7 2570.7h.01M1581.6 2559.3h.01M1562.6 2642.8h.01M1588.9 2590.4h.01M1592.7 2547.3h.01M1563.2 2593.9h.01M1631.8 2580.6h.01M1644.7 2560.7h.01M1545.6 2589.5h.01M1583.1 2563.5h.01M1620.5 2593.1h.01M1639.4 2624.3h.01M1548 2559.9h.01M1565.9 2611.8h.01M1545.3 2582.8h.01M1592.7 2588.8h.01M1575.1 2606.3h.01M1611.5 2588.7h.01M1580.4 2547.9h.01M1589.3 2565.1h.01M1590.8 2656.3h.01M1595.6 2656.1h.01M1614.3 2618.9h.01M1623.4 2604.6h.01M1557.4 2609.9h.01M1637.8 2565.6h.01M1566 2616.5h.01M1592.2 2571.6h.01M1583.1 2561.1h.01M1620.4 2583.8h.01M1616.9 2629.5h.01M1637.1 2564h.01M1578.8 2639.8h.01M1589.5 2664.3h.01M1565.9 2563h.01M1595.5 2565.1h.01M1636.3 2637.4h.01M1590.7 2592.2h.01M1562.1 2586.3h.01M1648.3 2584.6h.01M1572.3 2591.8h.01M1592.4 2592.2h.01M1627.9 2549.3h.01M1600.9 2662.3h.01M1626.2 2549.4h.01M1582.1 2604.3h.01M1560.6 2562.1h.01M1599.3 2597h.01M1592.3 2648.3h.01M1598.9 2630.2h.01M1626.6 2570.4h.01M1621.9 2565.1h.01M1626.6 2611.4h.01M1572.8 2581.5h.01M1602.3 2660.1h.01M1641 2548.3h.01M1612.9 2616.3h.01M1585.9 2560.6h.01M1630.6 2601.9h.01M1627.5 2565.5h.01M1551.1 2567.5h.01M1645.9 2563.5h.01M1565.9 2593.2h.01M1616.7 2625.3h.01M1583.8 2550.4h.01M1612.3 2626.9h.01M1624.6 2620.1h.01M1629.1 2640h.01M1568.9 2617h.01M1587.8 2606.2h.01M1573.8 2619.7h.01M1582.7 2662.1h.01M1551.7 2569.3h.01M1632 2584.7h.01M1587.1 2665.4h.01M1575.1 2551.1h.01M1580.1 2559.7h.01M1613.2 2648.9h.01M1629.7 2606.5h.01M1620 2582.4h.01M1551.3 2596.1h.01M1578 2610.2h.01M1554.9 2602h.01M1628.9 2596.3h.01M1646.7 2575.1h.01M1569.7 2650.3h.01M1586.9 2624.7h.01M1593.3 2662.6h.01M1563.7 2573.1h.01M1611.1 2619.8h.01M1571.3 2570.4h.01M1645.8 2556.7h.01M1599.2 2630.4h.01M1551.3 2603.1h.01M1624.7 2579.5h.01M1640.2 2611.6h.01M1561.5 2626.2h.01M1641.1 2570.1h.01M1634.6 2571.5h.01M1547.2 2562.8h.01M1591.1 2553h.01M1639.8 2622.7h.01M1565.7 2645.9h.01M1586.5 2624.9h.01M1580.3 2630.7h.01M1638.9 2549.5h.01M1589.3 2580.5h.01M1548.5 2598h.01M1566.6 2551.6h.01M1610.7 2632.2h.01M1597.1 2620.2h.01M1591 2598.9h.01M1547.3 2574.9h.01M1612.5 2623.4h.01M1595.5 2574.6h.01M1623.1 2568.2h.01M1584.6 2598.4h.01M1631.3 2610.1h.01M1599.2 2600.5h.01M1597.4 2594.2h.01M1632.2 2606.6h.01M1616.7 2635.6h.01M1622.7 2565.6h.01M1591.4 2644h.01M1580.2 2576.4h.01M1615.4 2590.3h.01M1590.6 2667.6h.01M1627 2603.4h.01M1565.3 2613.2h.01M1650.4 2574h.01M1621.9 2586.5h.01M1609.5 2605.2h.01M1632.3 2554.2h.01M1583 2633.8h.01M1616.4 2611.5h.01M1598.5 2640.9h.01M1579 2616.9h.01M1609.7 2602.6h.01M1619.8 2623.7h.01M1595.5 2582.5h.01M1609.3 2647.2h.01M1597.8 2629.4h.01M1570 2611.7h.01M1624.2 2552.8h.01M1549.1 2610.2h.01M1565.8 2578.2h.01M1577.1 2593.2h.01M1607.8 2649.3h.01M1607.7 2633.5h.01M1633.2 2643.9h.01M1592.8 2582.8h.01M1638.9 2616.5h.01M1582.4 2652.5h.01M1635.1 2612h.01M1599.5 2604.6h.01M1565.8 2562.1h.01M1580.1 2630.1h.01M1567.7 2646.4h.01M1630 2566.9h.01M1610.3 2609.9h.01M1624.7 2651.9h.01M1619.5 2568h.01M1558 2560.5h.01M1641.4 2555.6h.01M1552.3 2591.6h.01M1614.3 2575.8h.01M1644 2559.5h.01M1633.7 2635.6h.01M1597.8 2591.6h.01M1547.9 2612.2h.01M1580.8 2641.9h.01M1620.6 2633.4h.01M1585.5 2547.7h.01M1606.1 2672.8h.01M1630.1 2647h.01M1552 2599.9h.01M1585.4 2596.5h.01M1560.7 2560.8h.01M1589.1 2643.3h.01M1614.4 2578.7h.01M1639.7 2611.9h.01M1625.4 2635.4h.01M1556.7 2560.7h.01M1636.9 2607.3h.01M1593.8 2650.9h.01M1556.2 2621h.01M1556.1 2559.3h.01M1633.9 2561.3h.01M1620.4 2558.7h.01M1558.7 2568.8h.01M1597.5 2607.5h.01M1590 2584.2h.01M1643.6 2574.6h.01M1572.6 2576h.01M1593.8 2595.3h.01M1573.5 2603h.01M1627.7 2564.9h.01M1586.5 2551.7h.01M1590.4 2548.8h.01M1600.4 2622.1h.01M1595 2647.5h.01M1613.1 2611.4h.01M1635.6 2591.1h.01M1562.9 2556.5h.01M1580.5 2597.7h.01M1622 2569.3h.01M1628.8 2583.7h.01M1593.6 2647h.01M1578.6 2581.2h.01M1634.8 2606.1h.01M1638.2 2596.5h.01M1631.9 2564.4h.01M1555.4 2573.7h.01M1613.4 2619.3h.01M1590.5 2631h.01M1628.4 2578.7h.01M1589.8 2580.1h.01M1649.1 2566.3h.01M1594.8 2619.9h.01M1611.8 2601.9h.01M1625.2 2634.9h.01M1575.3 2632.2h.01M1577.5 2595.7h.01M1573.3 2592.7h.01M1647.8 2555.8h.01M1596 2569.4h.01M1592 2624.6h.01M1611 2627.9h.01M1588.1 2593.3h.01M1583.7 2586.6h.01M1557.6 2571.5h.01M1599.2 2606.6h.01M1555.1 2593.1h.01M1558.2 2610.3h.01M1577.5 2628.7h.01M1574.1 2603.1h.01M1632.3 2637h.01M1562.1 2560.2h.01M1582.1 2638.5h.01M1620.8 2624.9h.01M1560.6 2582.6h.01M1596.9 2644.6h.01M1585.1 2623h.01M1549.9 2553.1h.01M1621.6 2623.7h.01M1590.6 2662.1h.01M1599.2 2600h.01M1594.6 2622.8h.01M1547.4 2552.8h.01M1610 2633.6h.01M1622.7 2552.8h.01M1584.6 2625.2h.01M1609 2650.5h.01M1619.5 2603.3h.01M1558.7 2612h.01M1574.3 2645.9h.01M1612.6 2620.1h.01M1600.7 2652h.01M1564.5 2601.2h.01M1559.2 2555.1h.01M1591.5 2558.3h.01M1601 2646.4h.01M1585.4 2558.9h.01M1622.9 2590.3h.01M1570.2 2576.8h.01M1589.3 2623.4h.01M1583.6 2583.8h.01M1612.9 2649.1h.01M1597.7 2574.8h.01M1589.9 2635h.01M1613 2614.4h.01M1563.9 2624.2h.01M1588.6 2579.1h.01M1595.4 2637.5h.01M1617.7 2636.4h.01M1596.5 2568.2h.01M1555.3 2555.4h.01M1649.7 2561.9h.01M1600.6 2636.3h.01M1545 2565h.01M1621.7 2588.2h.01M1585.3 2642.7h.01M1565.8 2640.1h.01M1622.7 2582.2h.01M1560.5 2559.1h.01M1613.6 2578.4h.01M1557.8 2550.5h.01M1637.8 2632.5h.01M1558 2597.8h.01M1593.4 2577.3h.01M1588.2 2560.8h.01M1581.2 2646.6h.01M1586.6 2586.2h.01M1581.9 2608.4h.01M1622.8 2620.3h.01M1619.9 2656.9h.01M1624.4 2625.1h.01M1593.4 2560.1h.01M1582.9 2547.5h.01M1644.4 2610.4h.01M1615.4 2643.2h.01M1559.6 2577.2h.01M1584.6 2579.1h.01M1583.9 2618h.01M1622.5 2626h.01M1615.2 2602.7h.01M1576.5 2560.6h.01M1558 2584.4h.01M1556.7 2569.5h.01M1586.9 2574.9h.01M1626.1 2550.3h.01M1560.8 2573h.01M1587.8 2635.6h.01M1545.7 2573.6h.01M1640.7 2580.2h.01M1594.2 2547.3h.01M1623.3 2616.6h.01M1550.8 2610.8h.01M1563.6 2629h.01M1644.2 2609.8h.01M1581.1 2546.5h.01M1557.3 2575.9h.01M1568.5 2616.1h.01M1584.7 2621.3h.01M1598.1 2594.3h.01M1557.6 2561.4h.01M1579.2 2580.9h.01M1616 2621h.01M1595.4 2558.1h.01M1607.7 2642.3h.01M1545.3 2569.6h.01M1599.9 2611.7h.01M1621.7 2628.3h.01M1582.2 2575.4h.01M1566.3 2567.4h.01M1609.3 2626.5h.01M1592.3 2603.5h.01M1586.2 2584.2h.01M1599.8 2617.9h.01M1590.4 2612.3h.01M1559.4 2570.3h.01M1610.1 2611.6h.01M1575.2 2564.4h.01M1594.6 2615.1h.01M1609.3 2617.5h.01M1615.1 2582.1h.01M1561 2555.8h.01M1591 2603.5h.01M1552.5 2548.6h.01M1589.5 2643.6h.01M1643.5 2554.3h.01M1573 2579.6h.01M1562.1 2605.3h.01M1626.4 2597.9h.01M1590.1 2569.5h.01M1619.9 2553.9h.01M1584.3 2638.5h.01M1597.6 2672.9h.01M1596.2 2602.5h.01M1627.1 2607.8h.01M1544.9 2549.9h.01M1583.1 2562.3h.01M1581.4 2616.3h.01M1643.5 2599.3h.01M1640.8 2560.2h.01M1601 2635.3h.01M1646.7 2560.6h.01M1613.6 2593.4h.01M1632.8 2571.6h.01M1570.9 2644.6h.01M1627 2605.1h.01M1630.7 2611.4h.01M1593.7 2618h.01M1547.7 2564.8h.01M1568.6 2616.3h.01M1620 2644h.01M1610.4 2585h.01M1589.1 2603.5h.01M1628.9 2597.1h.01M1548.4 2547.6h.01M1621.1 2547.6h.01M1644.4 2546.3h.01M1550.4 2547.3h.01M1596 2568.4h.01M1612.2 2627.1h.01M1645.1 2553h.01M1582.3 2643h.01M1580.2 2648.4h.01M1643.9 2568.5h.01M1636.8 2603.1h.01M1588.8 2553.2h.01M1635.5 2556.5h.01M1592.3 2605.8h.01M1591.6 2608.1h.01M1622.2 2564.9h.01M1566.9 2567.6h.01M1619.5 2600.6h.01M1553.6 2553.6h.01M1642.3 2589.3h.01M1611.1 2585.2h.01M1560.8 2613.7h.01M1611.3 2583.4h.01M1547 2549.3h.01M1618.1 2584.8h.01M1597.9 2584.8h.01M1615 2664.8h.01M1592.5 2565.1h.01M1628.1 2565.4h.01M1579.4 2635.4h.01M1619.8 2662.8h.01M1591.3 2605h.01M1592.8 2664.2h.01M1555.3 2552.1h.01M1608.8 2631.7h.01M1597 2590.9h.01M1554.5 2556.8h.01M1583.6 2625.9h.01M1597.9 2662.5h.01M1624.5 2569.5h.01M1564.7 2622.5h.01M1620.5 2624.2h.01M1574.2 2622.1h.01M1581.9 2598.2h.01M1576.9 2609.3h.01M1573.6 2626.7h.01M1545.7 2577.2h.01M1638.9 2624.6h.01M1621.7 2573h.01M1614.6 2599.6h.01M1622.7 2629.7h.01M1637.9 2613.4h.01M1589.2 2581.3h.01M1575.6 2593.2h.01M1588.9 2605.2h.01M1617.5 2547.2h.01M1612.8 2634.5h.01M1560.5 2581.7h.01M1642.9 2578.3h.01M1626.8 2654.5h.01M1563.4 2549.1h.01M1609.8 2602.7h.01M1581.4 2601.2h.01M1602.5 2668.7h.01M1573.6 2573.4h.01M1559.1 2560.4h.01M1597.5 2588.9h.01M1581.4 2549.1h.01M1556.8 2609.1h.01M1566.1 2639.4h.01M1595.2 2567.4h.01M1551.9 2550.8h.01M1611.5 2613.1h.01M1623.4 2578.1h.01M1625.2 2603.6h.01M1556 2624.7h.01M1590.1 2637.4h.01M1582.1 2588.3h.01M1609.7 2603.7h.01M1647.1 2584.6h.01M1596.6 2624.8h.01M1636.8 2638.1h.01M1620.3 2644.3h.01M1641 2627.4h.01M1588.2 2589.9h.01M1571.2 2615.5h.01M1570.2 2582.9h.01M1615.7 2604.3h.01M1606.2 2655.4h.01M1584.6 2574.6h.01M1575.2 2562.1h.01M1627.3 2574.2h.01M1613.6 2659.6h.01M1612 2584.3h.01M1543.8 2575h.01M1569.5 2634.6h.01M1595.6 2547.5h.01M1565.9 2635h.01M1549.5 2585.2h.01M1615.2 2585.8h.01M1620.1 2612.2h.01M1600.2 2643.3h.01M1591.7 2615h.01M1595.2 2565.4h.01M1591.4 2571.4h.01M1595.1 2639.4h.01M1595.6 2628.9h.01M1588.1 2659.2h.01M1616.6 2560.2h.01M1611.1 2607.7h.01M1588.2 2610.1h.01M1558 2604.2h.01M1646.3 2603.5h.01M1637 2619.3h.01M1627.7 2613.5h.01M1590.3 2633.5h.01M1547.4 2556.7h.01M1615.4 2611.4h.01M1589.7 2546.6h.01M1620.7 2633.5h.01M1615.7 2592.8h.01M1563.5 2633.9h.01M1644 2571.8h.01M1633.1 2558.8h.01M1607 2674.8h.01M1597.2 2632.9h.01M1550.9 2551.7h.01M1559.3 2572.1h.01M1640.9 2573.5h.01M1572.6 2649.5h.01M1593.1 2567.1h.01M1625.6 2592.5h.01M1584 2587.1h.01M1585.9 2546.7h.01M1602.7 2652.7h.01M1607.1 2640h.01M1572.4 2600h.01M1597.4 2599.6h.01M1596.8 2578.4h.01M1569.6 2634.8h.01M1589.3 2557.8h.01M1591 2550.3h.01M1568.2 2625.2h.01M1623.3 2598.4h.01M1646.4 2547.5h.01M1610.7 2624.9h.01M1569.4 2622.2h.01M1614.7 2637.7h.01M1597.2 2575.5h.01M1637 2597.8h.01M1567.1 2580.1h.01M1596.6 2644.8h.01M1536.7 2609.1h.01M1531.4 2569.3h.01M1546.5 2632.3h.01M1529 2549.7h.01M1537.8 2624h.01M1539 2550.2h.01M1539.4 2548.1h.01M1500.7 2565.5h.01M1545.1 2629.1h.01M1544.4 2604.6h.01M1545.1 2616.1h.01M1541.7 2556.7h.01M1532.7 2597.6h.01M1545.6 2603.1h.01M1543.7 2603.2h.01M1552.4 2636.6h.01M1538.9 2595.4h.01M1555 2644.8h.01M1523.9 2598.9h.01M1520.6 2591.9h.01M1542.2 2585.7h.01M1551.1 2629.6h.01M1553.4 2635.2h.01M1546.7 2609.5h.01M1564.3 2649.8h.01M1535.3 2576.5h.01M1541.4 2616.1h.01M1534.2 2563.3h.01M1540 2624.1h.01M1524.6 2589.3h.01M1564.8 2645h.01M1530.2 2559.8h.01M1532.7 2551.7h.01M1553.3 2626.8h.01M1564.9 2648.2h.01M1533.6 2590.8h.01M1542 2615.9h.01M1517 2573.8h.01M1535.9 2589.7h.01M1517.3 2595.9h.01M1541 2626.1h.01M1540.1 2557.3h.01M1549.4 2636.1h.01M1554.6 2630.8h.01M1512.3 2585.3h.01M1535.7 2608.2h.01M1507.6 2566.7h.01M1541.1 2623.2h.01M1547.1 2609.9h.01M1534.5 2547.5h.01M1544.2 2604h.01M1502.2 2568.6h.01M1553.9 2633h.01M1562.8 2643.8h.01M1537.5 2597.8h.01M1549.8 2628.2h.01M1518 2552h.01M1521.5 2545.6h.01M1531.4 2572.8h.01M1536.1 2550h.01M1543.6 2628h.01M1542.7 2568.9h.01M1559.9 2646.6h.01M1561.3 2642.4h.01M1559.1 2638.7h.01M1499.5 2553.2h.01M1526.7 2589.2h.01M1537.1 2554.9h.01M1555 2637.3h.01M1524.9 2616.2h.01M1536.3 2555.2h.01M1524.8 2554.3h.01M1544.8 2612h.01M1556.1 2632.8h.01M1529.4 2590.5h.01M1531.5 2601.1h.01M1549.9 2636.5h.01M1540.9 2561.1h.01M1530.5 2590h.01M1546.9 2629h.01M1506.7 2565.9h.01M1519.8 2569.7h.01M1541.3 2611h.01M1543.1 2576.7h.01M1543.9 2621.8h.01M1530.3 2566.7h.01M1516 2558.2h.01M1500.1 2546h.01M1544.2 2614.3h.01M1555.4 2643.8h.01M1543 2616.1h.01M1502.3 2555.9h.01M1530.4 2573h.01M1545.8 2603.2h.01M1530 2595.1h.01M1511.3 2579.5h.01M1565.5 2649.1h.01M1532.2 2593.3h.01M1546.7 2622.4h.01M1523.3 2574.8h.01M1503.6 2560.5h.01M1541.3 2594.9h.01M1530.5 2550.5h.01M1526.7 2573h.01M1516.1 2599.6h.01M1546.2 2615.2h.01M1526.6 2603.4h.01M1529.1 2609.4h.01M1551.1 2622.2h.01M1537.4 2547.4h.01M1539.4 2545.2h.01M1533.5 2546.9h.01M1528.6 2614h.01M1545.6 2602.9h.01M1539.1 2553.3h.01M1512.5 2586h.01M1546 2623.9h.01M1531.9 2551.4h.01M1557.9 2641.8h.01M1531.3 2593h.01M1541.9 2546.9h.01M1553.1 2631.4h.01M1520.7 2591.9h.01M1526.3 2574.7h.01M1529.3 2587.4h.01M1544.2 2620.1h.01M1518.2 2580.9h.01M1524.7 2589.1h.01M1514.4 2569h.01M1561.5 2645.3h.01M1535.3 2617.8h.01M1541.9 2613.8h.01M1541.3 2548.4h.01M1543.9 2599.3h.01M1539.3 2559.4h.01M1517.2 2559.1h.01M1557.5 2636.3h.01M1516.8 2603.6h.01M1533.8 2562.6h.01M1543.6 2633.9h.01M1504.7 2559.8h.01M1541.9 2573.4h.01M1507.5 2557.7h.01M1512.6 2586.6h.01M1542.1 2566.3h.01M1519.9 2603.5h.01M1535.8 2592h.01M1546 2606.5h.01M1537.9 2605.2h.01M1502.2 2568h.01M1545.1 2611.9h.01M1517.5 2548h.01M1523.8 2601.8h.01M1554.7 2638.8h.01M1543.5 2594.9h.01M1512.9 2584.1h.01M1507.6 2575h.01M1548.7 2622.8h.01M1551.5 2626.9h.01M1547.4 2616.6h.01M1512.3 2559.3h.01M1540.5 2582.5h.01M1527.5 2612h.01M1542.2 2552.7h.01M1525.6 2606.8h.01M1501.1 2555.3h.01M1560.7 2640.2h.01M1562.9 2642.7h.01M1540.7 2561.1h.01M1543.3 2574.3h.01M1516.8 2596.6h.01M1530.7 2611.9h.01M1527.6 2603.4h.01M1530.1 2608h.01M1527.2 2577.3h.01M1510.6 2568.3h.01M1514.7 2587.1h.01M1550.6 2621.1h.01M1528.4 2599.6h.01M1541.7 2598.4h.01M1512.6 2596.1h.01M1541.3 2603.3h.01M1507 2584.9h.01M1563.9 2648.8h.01M1546.1 2614h.01M1546.8 2607.1h.01M1561 2640.3h.01M1555.8 2639.4h.01M1562.8 2644h.01M1522.8 2613h.01M1545.2 2621.4h.01M1520.9 2596.5h.01M1549.9 2618.9h.01M1543 2584.8h.01M1543.4 2575.8h.01M1547 2612.1h.01M1545.2 2622.1h.01M1558.6 2640.2h.01M1560.4 2643.2h.01M1530.7 2580.4h.01M1556.2 2635.4h.01M1516.6 2594.1h.01M1664 2568.5h.01M1654.6 2555.3h.01M1656.3 2619.2h.01M1651.3 2600.9h.01M1658.2 2565.5h.01M1655.6 2557.1h.01M1654 2545.2h.01M1622.7 2662.1h.01M1658.1 2584.4h.01M1662.1 2590.4h.01M1637.7 2638.5h.01M1653.7 2574.8h.01M1651.2 2603.9h.01M1657.3 2577h.01M1653.8 2585.6h.01M1651.8 2612h.01M1652.3 2574.7h.01M1647.2 2613.1h.01M1656.3 2570.4h.01M1611.7 2670.9h.01M1638.6 2635.7h.01M1620 2664.6h.01M1607.3 2675.2h.01M1649.3 2618.4h.01M1639 2638.5h.01M1657.3 2564.9h.01M1639.4 2635.7h.01M1652.2 2588.5h.01M1651.1 2578.5h.01M1636.6 2639.8h.01M1633.2 2648.6h.01M1648.4 2620.5h.01M1646.4 2609.5h.01M1660.2 2573.4h.01M1649.8 2602.9h.01M1648.4 2596.9h.01M1633.1 2645.5h.01M1638.8 2635.4h.01M1629.1 2652.8h.01M1645.1 2633.7h.01M1676.8 2568.6h.01M1661.8 2563.1h.01M1628.5 2652.9h.01M1648.9 2600h.01M1650 2621.2h.01M1655 2556h.01M1630.8 2650.4h.01M1652.5 2578.4h.01M1640.7 2633.4h.01M1625.3 2657.9h.01M1659.6 2549.8h.01M1650.3 2642.9h.01M1656.6 2546.8h.01M1650 2600h.01M1658.9 2592.5h.01M1646.4 2624h.01M1653.7 2591.9h.01M1653.6 2621.2h.01M1661.4 2581.7h.01M1634.9 2644h.01M1627.6 2653.4h.01M1623.8 2662.4h.01M1661.2 2547.8h.01M1653.3 2567.2h.01M1650.4 2592.6h.01M1645.6 2625.8h.01M1648.3 2601.2h.01M1665.6 2619.7h.01M1688.2 2596h.01M1688 2602.8h.01M1698.7 2592.6h.01M1721.5 2598.7h.01M1674.1 2603.2h.01M1734.5 2598.4h.01M1698 2605.7h.01M1661 2592.2h.01M1728.8 2599.5h.01M1717.5 2596h.01M1672.6 2616h.01M1715.6 2606.7h.01M1684 2611.9h.01M1717.2 2599.4h.01M1654.1 2612.7h.01M1728.8 2586h.01M1707.4 2595.6h.01M1655.8 2614h.01M1699.2 2599.6h.01M1672.1 2598.9h.01M1723.8 2596.3h.01M1699.1 2598.9h.01M1701.6 2591.1h.01M1697.4 2587.8h.01M1655.7 2612.7h.01M1666.1 2613.8h.01M1663.6 2622.1h.01M1690.2 2598.1h.01M1690.3 2604.9h.01M1691.1 2603.2h.01M1716.6 2598.4h.01M1727 2587.6h.01M1737.4 2591.5h.01M1724.6 2595.3h.01M1730.1 2601.5h.01M1717.8 2605.7h.01M1688.3 2591.4h.01M1736.4 2599.6h.01M1723.4 2591.6h.01M1670.7 2599.3h.01M1684.3 2607.4h.01M1680.6 2604.8h.01M1709.1 2594.2h.01M1718.3 2606.7h.01M1738.5 2599.5h.01M1708.6 2600h.01M1674.5 2599.2h.01M1650.5 2613.7h.01M1656.8 2619.2h.01M1715.8 2604.3h.01M1709.5 2596.8h.01M1683.4 2599.5h.01M1657.5 2615.9h.01M1722.7 2606.1h.01M1698.2 2599.9h.01M1670.8 2598.8h.01M1693.9 2593.7h.01M1728.6 2593.4h.01M1660.1 2612.6h.01M1698 2595.9h.01M1674.2 2618.7h.01M1720.4 2601.7h.01M1715.7 2591.9h.01M1728.2 2612.6h.01M1715.7 2599.7h.01M1661.7 2605.9h.01M1733.1 2608.5h.01M1725 2595.8h.01M1680.2 2610.2h.01M1696.9 2596.9h.01M1725.4 2596.3h.01M1731.9 2593.4h.01M1737.6 2586.5h.01M1661.9 2598.4h.01M1683.1 2602.3h.01M1686.5 2597.1h.01M1739.1 2595.7h.01M1682.5 2615.3h.01M1682.8 2604.3h.01M1719.9 2585.5h.01M1726.9 2585h.01M1666.2 2607.7h.01M1697.5 2596h.01M1662 2614h.01M1734 2605.6h.01M1706.7 2601h.01M1653.4 2600.3h.01M1670.7 2599.8h.01M1678 2602.9h.01M1686.5 2602h.01M1736.4 2596h.01M1727.2 2599.2h.01M1656.6 2621.6h.01M1686.6 2605.2h.01M1401.2 2581.4h.01M1418.6 2591.3h.01M1436.8 2601.8h.01M1457.7 2621.7h.01M1439 2632.9h.01M1481.6 2642.8h.01M1475.8 2613h.01M1480.3 2602.5h.01M1487.5 2585.1h.01M1494.5 2558.2h.01M1504.5 2558.2h.01M1503.2 2564.4h.01M1515.7 2560.7h.01M1523.1 2561.9h.01M1519.4 2570.7h.01M1504.5 2576.9h.01M1508.2 2580.6h.01M1493.3 2599.3h.01M1493.3 2605.5h.01M1497 2608h.01M1502 2603h.01M1511.9 2598h.01M1515.7 2593.1h.01M1485.8 2621.7h.01M1489.5 2620.4h.01M1497 2615.5h.01M1493.3 2632.9h.01M1508.2 2631.6h.01M1516.4 2619.2h.01M1517.6 2631.6h.01M1523.1 2636.6h.01M1515.2 2642.3h.01M1539.3 2646.6h.01M1529.3 2550.7h.01M1676.2 2548.3h.01M1682.4 2545.8h.01M1688.6 2550.7h.01M1718.5 2553.2h.01M1701.1 2560.7h.01M1703.6 2560.7h.01M1702.3 2571.9h.01M1714.8 2578.1h.01M1737.9 2576.1h.01M1666.2 2553.2h.01M1671.2 2560.7h.01M1661.3 2568.2h.01M1668.7 2573.1h.01M1673.7 2583.1h.01M1678.7 2588.1h.01M1658.8 2578.1h.01M1663.8 2588.1h.01M1543.8 2606.4h.01M1539.9 2574.1h.01M1541.3 2557.7h.01M1526.6 2556.1h.01M1552.9 2609.9h.01M1536.2 2601.3h.01M1547.4 2578.2h.01M1535 2575.6h.01M1516.1 2561.9h.01M1544.5 2615.6h.01M1540.8 2567.6h.01M1540.7 2599.6h.01M1540.5 2553.8h.01M1532.9 2554.9h.01M1530 2576.9h.01M1551.8 2603.3h.01M1531.3 2576.2h.01M1548.9 2581.4h.01M1552.9 2600.6h.01M1518.7 2573.9h.01M1525.4 2607.8h.01M1524.3 2605h.01M1528.8 2581.9h.01M1521.8 2574.8h.01M1549.8 2562.3h.01M1553.1 2589.3h.01M1534.9 2561.6h.01M1552.9 2628.9h.01M1524.1 2569.2h.01M1518.3 2575.9h.01M1534.3 2629.8h.01M1517.6 2575.1h.01M1527.5 2564.2h.01M1534.5 2562.7h.01M1519.9 2558h.01M1551.1 2616.3h.01M1543.5 2560.3h.01M1521.8 2600.2h.01M1535.8 2563.1h.01M1514.8 2559h.01M1548.6 2569.7h.01M1538.4 2563.6h.01M1540.3 2633.1h.01M1524.7 2570.1h.01M1528.1 2603.3h.01M1518.5 2570.2h.01M1532.7 2622.8h.01M1531.6 2587h.01M1547.4 2560.3h.01M1516.8 2566.6h.01M1544.8 2595.2h.01M1537.3 2616.1h.01M1545.2 2580h.01M1545.2 2557.3h.01M1519.2 2575.2h.01M1545.2 2606.4h.01M1535.3 2623.5h.01M1537.5 2599.4h.01M1517.4 2577.2h.01M1549.6 2614.3h.01M1519.7 2593.4h.01M1535.8 2570.6h.01M1539.4 2600.1h.01M1534.3 2598.1h.01M1545.1 2577.5h.01M1548 2583.9h.01M1529.7 2578.1h.01M1553.8 2556.2h.01M1518.7 2568.6h.01M1543.3 2574.9h.01M1529.4 2570.7h.01M1543.3 2577.4h.01M1527 2616h.01M1519.6 2572.3h.01M1538.5 2565.7h.01M1532.5 2591h.01M1536.7 2611h.01M1522.6 2556.7h.01M1551.4 2568.2h.01M1531.4 2564.1h.01M1533.8 2582h.01M1552.9 2565.9h.01M1541.8 2586.4h.01M1543.4 2616.7h.01M1537.4 2594.7h.01M1539.1 2563.9h.01M1529.3 2553.9h.01M1539 2555.1h.01M1551.8 2610.3h.01M1545.6 2575h.01M1553.8 2573.6h.01" fill="none" stroke="#bebebe" stroke-width="5.8" stroke-linecap="round"/>
<path d="M1540 2186.8h.01M1553.7 2278.9h.01M1577.1 2330h.01M1582.1 2353.4h.01M1575.4 2361.1h.01M1521.9 2381h.01M1540 2391.9h.01M1565.4 2396.4h.01M1568.7 2410.6h.01M1579.1 2413.3h.01M1541.3 2419.6h.01M1575.4 2418.8h.01M1558.7 2423.8h.01M1577.9 2423.8h.01M1534.8 2432.5h.01M1546.8 2431.3h.01M1555.5 2430h.01M1562.9 2433.8h.01M1570.4 2431.3h.01M1580.4 2432.5h.01M1544.3 2436.7h.01M1551.7 2436.2h.01M1565.4 2440h.01M1572.9 2435.7h.01M1581.1 2436.2h.01M1537.3 2443.7h.01M1573.7 2443.7h.01M1550 2447.4h.01M1509.9 2451.7h.01M1558 2452.4h.01M1572.9 2452.4h.01M1584.1 2452.4h.01M1587.8 2455.7h.01M1545.5 2457.4h.01M1559.2 2458.6h.01M1574.2 2458.6h.01M1580.4 2459.9h.01M1548.8 2464.9h.01M1558 2464.9h.01M1574.2 2464.9h.01M1577.9 2462.4h.01M1588.6 2468.1h.01M1558 2469.4h.01M1572.9 2469.4h.01M1565.4 2473.6h.01M1572.9 2473.1h.01M1586.1 2473.1h.01M1561.2 2476.1h.01M1529.8 2479.8h.01M1545.5 2479.8h.01M1584.6 2480.6h.01M1536.3 2484.3h.01M1565.4 2483.5h.01M1521.4 2489h.01M1508.2 2491.5h.01M1510.7 2497.7h.01M1551.7 2494.7h.01M1549.3 2497.2h.01M1543 2501h.01M1539.3 2503.5h.01M1496.5 2507.2h.01M1528.8 2509.7h.01M1531.8 2515.9h.01M1508.9 2518.4h.01M1516.4 2520.4h.01M1494.5 2530.3h.01M1523.1 2537.1h.01M1526.9 2538.8h.01M1596.6 2519.1h.01M1595.3 2538.3h.01M1592.8 2524.6h.01M1534.3 2520.9h.01M1539.3 2525.9h.01M1543 2534.6h.01M1548 2528.3h.01M1551.7 2537.1h.01M1545.5 2512.2h.01M1551.7 2508.4h.01M1554.2 2515.9h.01M1555.5 2523.4h.01M1550.5 2518.4h.01M1536.8 2512.2h.01M1554.2 2530.8h.01M1556.7 2503.5h.01M1559.2 2493.5h.01M1562.9 2488.5h.01M1586 2522.7h.01M1577.4 2522h.01M1578 2530.7h.01M1590.8 2529.3h.01M1584.4 2483.6h.01M1583.1 2539.4h.01M1573.6 2519.4h.01M1563.6 2496h.01M1581.1 2521.8h.01M1591.2 2535h.01M1571.1 2486.9h.01M1594.8 2508.4h.01M1571.6 2494.9h.01M1583.7 2487.5h.01M1593.1 2523h.01M1583.9 2537.7h.01M1590.8 2517.2h.01M1575.1 2512.2h.01M1592.2 2539.4h.01M1580.8 2524h.01M1595.2 2508.3h.01M1580.1 2513.2h.01M1572.2 2528.8h.01M1573 2498.9h.01M1591.6 2540.1h.01M1588.7 2506h.01M1580.6 2487.1h.01M1583.2 2495.3h.01M1590.5 2521h.01M1592.2 2539.7h.01M1578.8 2482.2h.01M1594.5 2528.5h.01M1571.8 2484.2h.01M1560 2496.2h.01M1578 2520.8h.01M1575 2493.5h.01M1586.1 2505.1h.01M1562.9 2520.9h.01M1584.2 2521h.01M1588.9 2531.7h.01M1566.1 2537.5h.01M1570.9 2531.5h.01M1572.2 2529h.01M1593.3 2501.6h.01M1577.8 2514.2h.01M1589.9 2539.3h.01M1588.8 2524.6h.01M1591.9 2538.6h.01M1588.9 2528.8h.01M1569.5 2540.6h.01M1589.6 2532.4h.01M1591.5 2540.7h.01M1583.2 2522.9h.01M1577.6 2509.8h.01M1577.7 2537.7h.01M1584.8 2526.4h.01M1591.2 2488.7h.01M1580.3 2505h.01M1570.1 2483.4h.01M1594.6 2522.7h.01M1584.6 2509.8h.01M1567.3 2522.6h.01M1576.2 2518.8h.01M1581.2 2509.2h.01M1584.6 2492.8h.01M1591.8 2490.9h.01M1572.2 2505.5h.01M1566.1 2537.6h.01M1587 2485.8h.01M1582.7 2537h.01M1587 2502.3h.01M1579.5 2489.8h.01M1575.9 2500.8h.01M1593.4 2506.3h.01M1566.8 2520.5h.01M1595.2 2513.6h.01M1584.8 2491.5h.01M1569.3 2501.4h.01M1567.2 2502.3h.01M1588.4 2508.9h.01M1591.9 2480.2h.01M1581.3 2538.8h.01M1593.9 2540.3h.01M1593.4 2534.3h.01M1591.7 2503.4h.01M1591 2481.3h.01M1585.2 2538h.01M1574.5 2539.5h.01M1593.9 2531.9h.01M1591.1 2537.2h.01M1595.2 2519.5h.01M1578.8 2506.9h.01M1571.6 2516.4h.01M1585.9 2481.9h.01M1580.5 2512.5h.01M1584.8 2527.3h.01M1575.5 2539.8h.01M1589.8 2541h.01M1579.7 2530.2h.01M1590 2536h.01M1585.9 2534.4h.01M1584 2540.2h.01M1590.5 2525.2h.01M1587.6 2492.8h.01M1592.7 2488.2h.01M1591.9 2525.5h.01M1586 2538.4h.01M1579.3 2529.8h.01M1574.4 2532.9h.01M1576.7 2490.3h.01M1583.4 2510.6h.01M1576.9 2512.8h.01M1578.5 2485.7h.01M1589.8 2480.3h.01M1594.8 2501h.01M1589.2 2508.4h.01M1581.5 2530.7h.01M1577.1 2530.1h.01M1590.3 2492.6h.01M1591.4 2536.6h.01M1581.3 2489.7h.01M1588.5 2534.4h.01M1585.4 2503.6h.01M1581 2536.1h.01M1572.7 2530h.01M1595.1 2521.3h.01M1576.7 2504.7h.01M1590.9 2515.1h.01M1593.3 2524.1h.01M1591.6 2539.9h.01M1589.8 2516h.01M1581.3 2519.7h.01M1577.6 2499.4h.01M1576.4 2490.7h.01M1571.8 2509.8h.01M1585.1 2484.7h.01M1581.1 2528h.01M1591.9 2529h.01M1582.7 2508h.01M1580.3 2532.6h.01M1578.7 2539h.01M1567.3 2500.6h.01M1577.3 2490h.01M1591.5 2521.6h.01M1587.7 2540h.01M1570.1 2491.5h.01M1582.6 2534.4h.01M1578.4 2526.9h.01M1569.1 2538.5h.01M1566.1 2539h.01M1593.8 2537.3h.01M1591.5 2511h.01M1570.7 2506.6h.01M1587.9 2510.3h.01M1588.8 2525.8h.01M1595.1 2539.1h.01M1589.8 2530.9h.01M1587.3 2502.4h.01M1572.5 2484.5h.01M1591.9 2535.2h.01M1563.8 2522.4h.01M1563.1 2503.3h.01M1577.7 2507.9h.01M1575.1 2525.7h.01M1587.6 2519.1h.01M1593.1 2537.8h.01M1589.7 2516.6h.01M1587.7 2524.7h.01M1583 2520.5h.01M1586.5 2518.9h.01M1579.5 2531.4h.01M1583.5 2509h.01M1585.1 2521.1h.01M1581.7 2539.1h.01M1582.9 2507.5h.01M1578.5 2536h.01M1577 2503.4h.01M1578.1 2501h.01M1576.8 2540.9h.01M1589.8 2519.9h.01M1593.2 2496.9h.01M1581.7 2519h.01M1595 2532.8h.01M1582.7 2521.5h.01M1584.7 2489.2h.01M1588.1 2481.2h.01M1583.8 2503.7h.01M1577 2500.8h.01M1583.4 2533.6h.01M1583.6 2486.7h.01M1567.9 2514.4h.01M1590.7 2532.1h.01M1566.5 2510.6h.01M1572.8 2525.6h.01M1594.2 2527.7h.01M1583.8 2532.8h.01M1579.3 2483.2h.01M1585.1 2480.7h.01M1575.9 2522.6h.01M1571.7 2522.3h.01M1590.1 2524.4h.01M1583 2526.9h.01M1586.7 2527.5h.01M1595 2493.9h.01M1585.2 2511.6h.01M1588.1 2522.7h.01M1587.8 2504.5h.01M1585.5 2497.4h.01M1565 2506.7h.01M1564.4 2493.8h.01M1580.3 2495.3h.01M1587.6 2516.4h.01M1579.5 2514.7h.01M1591.4 2534.1h.01M1591 2538.1h.01M1577.4 2519.5h.01M1589.1 2525.7h.01M1589.5 2511h.01M1592.7 2540h.01M1594.6 2527.7h.01M1591.5 2499.7h.01M1585.5 2505.7h.01M1584.9 2532.9h.01M1571.8 2540.1h.01M1584.3 2512.4h.01M1561.7 2538.8h.01M1594 2482.3h.01" fill="none" stroke="#0000ff" stroke-width="5.8" stroke-linecap="round"/>
<path d="M1628.4 2285.7h.01M1629.7 2291.9h.01M1625.7 2298.1h.01M1642.6 2298.6h.01M1637.6 2304.8h.01M1621.4 2343.7h.01M1635.9 2362.1h.01M1620.2 2374h.01M1627.2 2372.3h.01M1650.8 2385.2h.01M1668 2385.2h.01M1625.7 2396.4h.01M1620.7 2403.4h.01M1626.9 2404.6h.01M1638.1 2401.4h.01M1685.7 2402.6h.01M1689.9 2403.1h.01M1660.5 2406.4h.01M1620.7 2409.6h.01M1633.9 2411.9h.01M1680.7 2412.6h.01M1742.7 2413.1h.01M1622.7 2423.1h.01M1626.4 2423.8h.01M1633.9 2425.8h.01M1638.1 2426.3h.01M1671.7 2425.8h.01M1654.5 2431.3h.01M1636.4 2430.8h.01M1632.6 2433.8h.01M1628.9 2436.2h.01M1625.2 2437.5h.01M1635.1 2437.5h.01M1696.1 2432h.01M1660.5 2438.2h.01M1619 2442.5h.01M1660 2441.7h.01M1686.2 2443.7h.01M1691.1 2442.5h.01M1694.1 2445h.01M1649.6 2445.7h.01M1628.9 2447.4h.01M1614 2448.7h.01M1642.6 2448.7h.01M1656.8 2451.7h.01M1622.7 2453.7h.01M1639.4 2452.4h.01M1611.5 2457.4h.01M1616.5 2456.2h.01M1637.6 2455.7h.01M1628.9 2459.4h.01M1706.1 2464.9h.01M1656.3 2471.1h.01M1650.1 2476.1h.01M1666.2 2474.1h.01M1676.2 2477.3h.01M1681.2 2481.1h.01M1667.5 2482.3h.01M1653.8 2481.1h.01M1681.9 2491.5h.01M1674.2 2501h.01M1678.7 2507.9h.01M1701.8 2517.9h.01M1678.7 2520.9h.01M1684.9 2523.4h.01M1688.6 2522.1h.01M1697.9 2525.9h.01M1706.8 2525.9h.01M1731 2527.8h.01M1668.2 2533.3h.01M1676.2 2533.3h.01M1689.9 2533.3h.01M1689.4 2537.8h.01M1648.8 2483.5h.01M1652.6 2488.5h.01M1655 2494.7h.01M1647.6 2493.5h.01M1650.1 2503.5h.01M1653.8 2509.7h.01M1658.8 2515.9h.01M1661.3 2523.4h.01M1656.3 2528.3h.01M1652.6 2533.3h.01M1657.5 2538.3h.01M1650.1 2518.4h.01M1647.6 2508.4h.01M1653.8 2501h.01M1645.1 2498.5h.01M1643.8 2486h.01M1636.1 2539.3h.01M1622.5 2528.4h.01M1620.5 2539.8h.01M1626 2536.8h.01M1635.3 2522.7h.01M1610.8 2541h.01M1627.1 2524.4h.01M1626.8 2471h.01M1612 2539.4h.01M1622.6 2536.2h.01M1619.3 2504.3h.01M1611.4 2520h.01M1614.5 2522.3h.01M1610.9 2537.3h.01M1614.3 2536.3h.01M1628 2485.3h.01M1626.6 2533.8h.01M1636.9 2539.9h.01M1611.7 2467.9h.01M1623.2 2499.5h.01M1613.7 2499.1h.01M1642.7 2538.9h.01M1636.9 2526.7h.01M1629 2484.5h.01M1623.7 2522.8h.01M1613.4 2533.1h.01M1625.3 2507.5h.01M1620.3 2467.3h.01M1634.5 2538.8h.01M1617 2529.6h.01M1613.5 2518.2h.01M1625.3 2502.5h.01M1620.2 2520.4h.01M1650.3 2535.1h.01M1624.1 2500.1h.01M1614.4 2531.1h.01M1642.8 2539.1h.01M1613 2517.4h.01M1633 2528.3h.01M1615.4 2534.4h.01M1613.1 2493.1h.01M1614.3 2530.5h.01M1622.4 2480.8h.01M1615.9 2541h.01M1622.9 2538.7h.01M1625.8 2516.3h.01M1616.3 2521.8h.01M1624.5 2534.4h.01M1629.6 2533.6h.01M1610.3 2539.3h.01M1612 2489.6h.01M1619.9 2522.5h.01M1641.5 2515.2h.01M1625.4 2529h.01M1635.1 2529.2h.01M1631.4 2531.1h.01M1617.2 2477.1h.01M1635.3 2535h.01M1619.1 2494.8h.01M1614.5 2504.8h.01M1636.3 2528.9h.01M1648.1 2527.1h.01M1626 2529.1h.01M1611.9 2534.5h.01M1611.5 2531h.01M1613.1 2526.2h.01M1634.5 2481.8h.01M1629.9 2500h.01M1616.4 2528.3h.01M1613.1 2534.4h.01M1629.8 2482.5h.01M1615.7 2487.6h.01M1622.4 2496.1h.01M1620.4 2492.4h.01M1615.8 2495.7h.01M1612.3 2517.9h.01M1624.8 2532.4h.01M1614.4 2529.8h.01M1619.8 2495.5h.01M1612 2529.5h.01M1626.5 2526.4h.01M1637.3 2538h.01M1636.6 2527.8h.01M1635.7 2531h.01M1612.4 2497.8h.01M1627.6 2540.1h.01M1638.1 2527.9h.01M1634.9 2519h.01M1614.7 2514.4h.01M1635.8 2513.4h.01M1615.8 2529.3h.01M1631.3 2540.9h.01M1617.9 2480.6h.01M1622.8 2536.3h.01M1644.5 2525.6h.01M1614.5 2541h.01M1637.6 2523h.01M1627.6 2535.7h.01M1615.1 2539.8h.01M1644.1 2485.9h.01M1625.3 2497.6h.01M1625.3 2500.2h.01M1618.8 2538.4h.01M1611.4 2537.4h.01M1629.8 2466.2h.01M1622.2 2522.4h.01M1626 2535.4h.01M1621.1 2473.6h.01M1611.4 2484.7h.01M1611.1 2487.9h.01M1618.9 2540.6h.01M1611.9 2533.9h.01M1618.7 2538.2h.01M1624.1 2536.9h.01M1619.2 2541h.01M1616.7 2535.1h.01M1628.2 2540.9h.01M1612.9 2466.4h.01M1627.7 2467.4h.01M1613 2503.7h.01M1624.4 2540.8h.01M1627.1 2491.8h.01M1623.7 2539.5h.01M1643.1 2539.5h.01M1622.6 2535.3h.01M1616.5 2501.6h.01M1627.5 2512h.01M1639.8 2493.3h.01M1616.7 2508.7h.01M1643.7 2495.4h.01M1614.1 2483h.01M1624.7 2514.2h.01M1627 2534.6h.01M1615.1 2511h.01M1626.1 2531.7h.01M1627.2 2541h.01M1619.9 2536.2h.01M1633 2536.5h.01M1625.1 2507.5h.01M1618.3 2515.6h.01M1645.6 2493.9h.01M1610.8 2485.4h.01M1612.5 2533.1h.01M1651.1 2536.9h.01M1611.3 2537.2h.01M1616.8 2519.9h.01M1624.8 2519.2h.01M1619.2 2536.4h.01M1629.1 2531.4h.01M1611.7 2525.5h.01M1621.3 2498.2h.01M1626 2502.6h.01M1636.5 2524.3h.01M1629 2527.3h.01M1628.9 2540.4h.01M1615.4 2537.9h.01M1611.4 2524.1h.01M1642.9 2519.3h.01M1627.3 2513.2h.01M1619.2 2490.3h.01M1626.5 2529.5h.01M1619.9 2531.4h.01M1619.7 2481.8h.01M1625.3 2532.3h.01M1635 2532.6h.01M1646.5 2512.7h.01M1625.6 2474.6h.01M1643.9 2540.4h.01M1616.8 2536.5h.01M1610.5 2497.5h.01M1620.5 2541h.01M1632.3 2523.2h.01M1634.4 2536.8h.01M1638 2535.8h.01M1615.5 2540.6h.01M1620.6 2539.5h.01M1612.5 2511.2h.01M1621 2537.1h.01M1626.8 2519.1h.01M1635.5 2529.4h.01M1627 2538.1h.01M1630.6 2524.3h.01M1630.8 2523h.01M1617.3 2518.5h.01M1621.3 2495.7h.01M1631.4 2525.7h.01M1622.4 2536.3h.01M1621.9 2506.1h.01M1618.8 2476.4h.01M1610.8 2513.5h.01M1646.1 2526.5h.01M1643.6 2538.7h.01M1629.9 2480.5h.01M1623.2 2523.4h.01M1648 2533.6h.01M1610.6 2522.7h.01M1610.4 2539.8h.01M1627.6 2515.7h.01M1626.9 2521.8h.01M1613.5 2539.1h.01M1645.8 2541h.01M1610.9 2524.8h.01M1628.1 2540.9h.01M1615.1 2527.5h.01M1616.7 2496.9h.01M1624 2500.6h.01M1621.4 2480.4h.01M1614.9 2533.8h.01M1633.3 2528.1h.01M1617.3 2536.1h.01M1646.6 2520.4h.01M1614.8 2516.7h.01M1621.1 2492.3h.01M1641.6 2523.4h.01M1637.9 2538.3h.01M1620.5 2525.6h.01M1615.1 2518.3h.01M1616.9 2537.6h.01M1629.5 2535.4h.01M1621.4 2528.5h.01M1621.9 2486h.01M1619.5 2479.6h.01M1615.9 2512.4h.01M1633.1 2540.8h.01M1610.6 2519.6h.01M1647.7 2531.9h.01M1648.1 2529.8h.01M1625.6 2525.6h.01M1637.4 2528.4h.01M1626.6 2504.2h.01M1631.5 2526.5h.01M1616.3 2533.8h.01M1614.2 2537.6h.01M1643 2492.9h.01M1634.5 2536.2h.01M1620.3 2530.6h.01M1634.5 2538.7h.01M1615.9 2504h.01M1637.5 2540.3h.01M1612.2 2539.4h.01M1610.8 2497.6h.01M1612.7 2499h.01M1621.2 2540.9h.01M1612.5 2525.9h.01M1635.9 2492.7h.01M1611.3 2539.9h.01M1618.4 2469.4h.01M1633.5 2526h.01M1621.7 2504h.01M1629.8 2528h.01M1618.6 2499.4h.01M1612.1 2527.1h.01M1620.9 2513.6h.01M1625.4 2540.1h.01M1621.2 2539.3h.01M1634.7 2539.5h.01M1635.9 2523.9h.01M1617.2 2503.7h.01M1625.1 2498.7h.01M1616.1 2537h.01M1615.3 2479.2h.01M1610.7 2517.1h.01M1623.6 2530.2h.01M1643.4 2535.6h.01M1614.6 2540.8h.01M1617.9 2507.4h.01M1646.7 2539.8h.01M1616.6 2489.3h.01M1626.1 2537.3h.01M1611.9 2540.9h.01M1634.5 2518.1h.01M1610.4 2512h.01M1618.3 2540.6h.01M1624.5 2527.6h.01M1644.2 2492.3h.01M1623.9 2490.4h.01M1630.3 2494.3h.01M1638.5 2515h.01M1625.2 2528.9h.01M1625.3 2514.4h.01M1640.6 2516.5h.01M1626.7 2521.9h.01M1631.8 2500.5h.01M1634.3 2537.3h.01M1624.4 2518.3h.01M1635.8 2540.4h.01M1614.9 2521.8h.01M1627.2 2536.3h.01M1646.7 2538.2h.01M1617.4 2534.4h.01M1620.4 2480.5h.01M1620.9 2540.8h.01M1618.6 2538.1h.01M1622.1 2518h.01M1619.1 2515.4h.01M1624.6 2496.3h.01" fill="none" stroke="#ff0000" stroke-width="5.8" stroke-linecap="round"/>
<path d="M1600.8 2542V2182.5H1496.3V2204.6H1397V2680.4H1747V2281.7H1607.5V2542" fill="none" stroke="#000" stroke-width="2.7" stroke-dasharray="7.9 6.4"/>
<rect x="1318.3" y="2140.8" width="574.6" height="572.9" fill="none" stroke="#333" stroke-width="1.6"/>
<line x1="1313.3" y1="2155" x2="1317.5" y2="2155" stroke="#333" stroke-width="1.5"/>
<text x="1311.8" y="2163.7" font-size="26" text-anchor="end" fill="#4d4d4d">5</text>
<line x1="1313.3" y1="2259.2" x2="1317.5" y2="2259.2" stroke="#333" stroke-width="1.5"/>
<text x="1311.8" y="2267.9" font-size="26" text-anchor="end" fill="#4d4d4d">4</text>
<line x1="1313.3" y1="2363.8" x2="1317.5" y2="2363.8" stroke="#333" stroke-width="1.5"/>
<text x="1311.8" y="2372.4" font-size="26" text-anchor="end" fill="#4d4d4d">3</text>
<line x1="1313.3" y1="2468.3" x2="1317.5" y2="2468.3" stroke="#333" stroke-width="1.5"/>
<text x="1311.8" y="2477" font-size="26" text-anchor="end" fill="#4d4d4d">2</text>
<line x1="1313.3" y1="2572.9" x2="1317.5" y2="2572.9" stroke="#333" stroke-width="1.5"/>
<text x="1311.8" y="2581.6" font-size="26" text-anchor="end" fill="#4d4d4d">1</text>
<line x1="1313.3" y1="2677.5" x2="1317.5" y2="2677.5" stroke="#333" stroke-width="1.5"/>
<text x="1311.8" y="2686.2" font-size="26" text-anchor="end" fill="#4d4d4d">0</text>
<line x1="1430.8" y1="2714.6" x2="1430.8" y2="2718.8" stroke="#333" stroke-width="1.5"/>
<text x="1426.3" y="2741.7" font-size="26" text-anchor="middle" fill="#4d4d4d">-10</text>
<line x1="1605.4" y1="2714.6" x2="1605.4" y2="2718.8" stroke="#333" stroke-width="1.5"/>
<text x="1605.4" y="2741.7" font-size="26" text-anchor="middle" fill="#4d4d4d">0</text>
<line x1="1780.4" y1="2714.6" x2="1780.4" y2="2718.8" stroke="#333" stroke-width="1.5"/>
<text x="1780.4" y="2741.7" font-size="26" text-anchor="middle" fill="#4d4d4d">10</text>
<text x="1332.5" y="2192.5" font-size="59" class="r" font-weight="bold">Urine</text>
<rect x="1654.6" y="2148.8" width="230.4" height="90" fill="#fff" stroke="#000" stroke-width="1.7"/>
<path d="M1673.1 2174.3h.01" fill="none" stroke="#0000ff" stroke-width="10" stroke-linecap="round"/>
<path d="M1673.1 2213.8h.01" fill="none" stroke="#ff0000" stroke-width="10" stroke-linecap="round"/>
<text x="1683.2" y="2180" font-size="26" textLength="189.5" lengthAdjust="spacingAndGlyphs">down−regulated</text>
<text x="1703.3" y="2220" font-size="26" textLength="155.5" lengthAdjust="spacingAndGlyphs">up−regulated</text>
<line x1="1318.3" y1="2542" x2="1892.9" y2="2542" stroke="#000" stroke-width="2.9" stroke-dasharray="7.9 6.4"/>
<text x="1793.5" y="2536.7" font-size="27" textLength="95" lengthAdjust="spacingAndGlyphs"><tspan font-style="italic">P</tspan>−value</text>
<text x="1820" y="2564.6" font-size="24.5" textLength="50" lengthAdjust="spacingAndGlyphs">0.05</text>
<text x="1552" y="2766.7" font-size="30.5" class="r" font-weight="bold" textLength="113.5" lengthAdjust="spacingAndGlyphs">log2(FC)</text>
<text x="1278.5" y="2433" font-size="30" class="r" text-anchor="middle" font-weight="bold" textLength="197" lengthAdjust="spacingAndGlyphs" transform="rotate(-90 1278.5 2433)">-log10(<tspan font-style="italic">P</tspan>-value)</text>
<path d="M1542 2166.7h.01" fill="none" stroke="#0000ff" stroke-width="10.8" stroke-linecap="round"/>
<text x="1550.3" y="2171.7" font-size="21.5" class="r" font-weight="bold" textLength="51" lengthAdjust="spacingAndGlyphs">down</text>
<path d="M1715.4 2266.7h.01" fill="none" stroke="#ff0000" stroke-width="10.8" stroke-linecap="round"/>
<text x="1724.2" y="2271.7" font-size="21.5" class="r" font-weight="bold" textLength="24" lengthAdjust="spacingAndGlyphs">up</text>
<path d="M1597 2694.6h.01" fill="none" stroke="#bebebe" stroke-width="10.8" stroke-linecap="round"/>
<text x="1606.5" y="2699" font-size="21.5" class="r" font-weight="bold" textLength="141.5" lengthAdjust="spacingAndGlyphs">not-significant</text>
</svg>
</body></html>
